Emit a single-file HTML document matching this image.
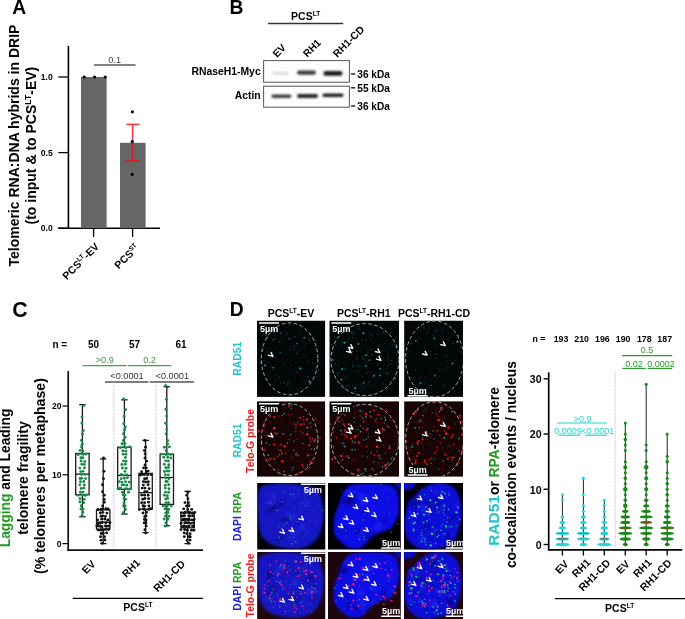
<!DOCTYPE html><html><head><meta charset="utf-8"><style>html,body{margin:0;padding:0;background:#fff;width:685px;height:619px;overflow:hidden}svg{display:block;will-change:transform}text{font-family:"Liberation Sans",sans-serif}</style></head><body><svg width="685" height="619" viewBox="0 0 685 619"><text transform="translate(12.2 14.0) scale(0.95 1)" font-size="20.3" font-weight="bold">A</text>
<text x="19.1" y="145.6" font-size="14" font-weight="bold" text-anchor="middle" fill="#000" transform="rotate(-90 19.1 145.6)">Telomeric RNA:DNA hybrids in DRIP</text>
<text x="36.4" y="145.6" font-size="14" font-weight="bold" text-anchor="middle" fill="#000" transform="rotate(-90 36.4 145.6)">(to input &amp; to PCS<tspan font-size="8.68" dy="-5.32">LT</tspan><tspan dy="5.32">-EV)</tspan></text>
<line x1="68.4" y1="46" x2="68.4" y2="229" stroke="#000" stroke-width="1.6"/>
<line x1="58.2" y1="228.2" x2="160" y2="228.2" stroke="#000" stroke-width="1.6"/>
<line x1="58.4" y1="77.0" x2="68.5" y2="77.0" stroke="#000" stroke-width="1.3"/>
<text x="52.8" y="80.1" font-size="8.6" font-weight="bold" text-anchor="end" fill="#000">1.0</text>
<line x1="58.4" y1="152.6" x2="68.5" y2="152.6" stroke="#000" stroke-width="1.3"/>
<text x="52.8" y="155.7" font-size="8.6" font-weight="bold" text-anchor="end" fill="#000">0.5</text>
<line x1="58.4" y1="228.2" x2="68.5" y2="228.2" stroke="#000" stroke-width="1.3"/>
<text x="52.8" y="231.29999999999998" font-size="8.6" font-weight="bold" text-anchor="end" fill="#000">0.0</text>
<rect x="81" y="77" width="25.6" height="151.2" fill="#666"/>
<rect x="120" y="142.8" width="25.6" height="85.4" fill="#666"/>
<circle cx="84.20" cy="77.00" r="1.6" fill="#000"/>
<circle cx="94.60" cy="77.00" r="1.6" fill="#000"/>
<circle cx="105.20" cy="77.00" r="1.6" fill="#000"/>
<line x1="94" y1="65" x2="135.5" y2="65" stroke="#5a5a5a" stroke-width="1.3"/>
<text x="114.7" y="62.5" font-size="9.2" text-anchor="middle" fill="#444">0.1</text>
<line x1="132.6" y1="124.4" x2="132.6" y2="160.8" stroke="#f0101c" stroke-width="1.6" stroke-opacity="0.82"/>
<line x1="126.4" y1="124.4" x2="139.4" y2="124.4" stroke="#f0101c" stroke-width="1.6" stroke-opacity="0.82"/>
<line x1="126.4" y1="160.8" x2="139.4" y2="160.8" stroke="#f0101c" stroke-width="1.6" stroke-opacity="0.82"/>
<circle cx="132.40" cy="111.80" r="1.6" fill="#000"/>
<circle cx="132.20" cy="141.60" r="1.6" fill="#000"/>
<circle cx="132.20" cy="174.40" r="1.6" fill="#000"/>
<line x1="93.6" y1="228.2" x2="93.6" y2="237" stroke="#000" stroke-width="1.3"/>
<line x1="132.6" y1="228.2" x2="132.6" y2="237" stroke="#000" stroke-width="1.3"/>
<text x="99.8" y="247.2" font-size="10.5" font-weight="bold" text-anchor="end" fill="#000" transform="rotate(-45 99.8 247.2)">PCS<tspan font-size="6.51" dy="-3.99">LT</tspan><tspan dy="3.99">-EV</tspan></text>
<text x="140.0" y="248.4" font-size="10.5" font-weight="bold" text-anchor="end" fill="#000" transform="rotate(-45 140.0 248.4)">PCS<tspan font-size="6.51" dy="-3.99">ST</tspan></text>
<text transform="translate(229.6 14.0) scale(0.95 1)" font-size="20.3" font-weight="bold">B</text>
<text x="305.6" y="19.6" font-size="10.5" font-weight="bold" text-anchor="middle" fill="#000">PCS<tspan font-size="6.51" dy="-3.99">LT</tspan></text>
<line x1="268" y1="23.5" x2="343.2" y2="23.5" stroke="#333" stroke-width="1.3"/>
<text x="277.0" y="58.1" font-size="10.3" font-weight="bold" text-anchor="start" fill="#000" transform="rotate(-45 277.0 58.1)">EV</text>
<text x="307.2" y="57.8" font-size="10.2" font-weight="bold" text-anchor="start" fill="#000" transform="rotate(-45 307.2 57.8)">RH1</text>
<text x="337.2" y="57.9" font-size="10.4" font-weight="bold" text-anchor="start" fill="#000" transform="rotate(-45 337.2 57.9)">RH1-CD</text>
<defs><filter id="bb" x="-20%" y="-100%" width="140%" height="300%"><feGaussianBlur stdDeviation="0.9"/></filter></defs>
<rect x="263.6" y="60.6" width="85.8" height="21.6" fill="#fdfdfd" stroke="#555" stroke-width="1"/>
<rect x="263.6" y="86.2" width="85.8" height="21.0" fill="#fdfdfd" stroke="#555" stroke-width="1"/>
<rect x="272.4" y="71.9" width="16.30000000000001" height="2.6" rx="1.3" fill="#d8d8d8" filter="url(#bb)"/>
<rect x="297" y="70.5" width="19" height="4.2" rx="2.1" fill="#3a3a3a" filter="url(#bb)"/>
<rect x="323.5" y="71.10000000000001" width="19.0" height="4.6" rx="2.3" fill="#1e1e1e" filter="url(#bb)"/>
<rect x="271.4" y="94.6" width="20.0" height="3.4" rx="1.7" fill="#3c3c3c" filter="url(#bb)"/>
<rect x="297" y="94.1" width="21" height="3.8" rx="1.9" fill="#262626" filter="url(#bb)"/>
<rect x="322.5" y="93.4" width="21.0" height="3.6" rx="1.8" fill="#1e1e1e" filter="url(#bb)"/>
<text x="260.7" y="74.9" font-size="10.4" font-weight="bold" text-anchor="end" fill="#000">RNaseH1-Myc</text>
<text x="260.7" y="98.8" font-size="10.4" font-weight="bold" text-anchor="end" fill="#000">Actin</text>
<line x1="351.1" y1="74.0" x2="355.1" y2="74.0" stroke="#111" stroke-width="1.4"/>
<text x="357.3" y="77.8" font-size="10.1" font-weight="bold" text-anchor="start" fill="#000">36 kDa</text>
<line x1="351.1" y1="87.8" x2="355.1" y2="87.8" stroke="#111" stroke-width="1.4"/>
<text x="357.3" y="91.5" font-size="10.1" font-weight="bold" text-anchor="start" fill="#000">55 kDa</text>
<line x1="351.1" y1="106.0" x2="355.1" y2="106.0" stroke="#111" stroke-width="1.4"/>
<text x="357.3" y="109.7" font-size="10.1" font-weight="bold" text-anchor="start" fill="#000">36 kDa</text>
<text transform="translate(12.2 316.6) scale(0.97 1)" font-size="22" font-weight="bold">C</text>
<text x="10.5" y="477.9" font-size="13.8" font-weight="bold" text-anchor="middle" transform="rotate(-90 10.5 477.9)"><tspan fill="#1f9a1f">Lagging</tspan> and Leading</text>
<text x="28.1" y="478" font-size="14.1" font-weight="bold" text-anchor="middle" fill="#000" transform="rotate(-90 28.1 478)">telomere fragility</text>
<text x="45.4" y="476.1" font-size="14.1" font-weight="bold" text-anchor="middle" fill="#000" transform="rotate(-90 45.4 476.1)">(% telomeres per metaphase)</text>
<line x1="68.2" y1="371" x2="68.2" y2="551" stroke="#111" stroke-width="1.7"/>
<line x1="67.4" y1="550.2" x2="203" y2="550.2" stroke="#111" stroke-width="1.7"/>
<line x1="62.5" y1="543.6" x2="68.4" y2="543.6" stroke="#000" stroke-width="1.2"/>
<text x="61.5" y="546.7" font-size="8.6" font-weight="bold" text-anchor="end" fill="#000">0</text>
<line x1="62.5" y1="474.8" x2="68.4" y2="474.8" stroke="#000" stroke-width="1.2"/>
<text x="61.5" y="477.90000000000003" font-size="8.6" font-weight="bold" text-anchor="end" fill="#000">10</text>
<line x1="62.5" y1="406.0" x2="68.4" y2="406.0" stroke="#000" stroke-width="1.2"/>
<text x="61.5" y="409.1" font-size="8.6" font-weight="bold" text-anchor="end" fill="#000">20</text>
<text x="52.4" y="348" font-size="10" font-weight="bold" text-anchor="start" fill="#000">n =</text>
<text x="93.5" y="348" font-size="10" font-weight="bold" text-anchor="middle" fill="#000">50</text>
<text x="134.5" y="348" font-size="10" font-weight="bold" text-anchor="middle" fill="#000">57</text>
<text x="181" y="348" font-size="10" font-weight="bold" text-anchor="middle" fill="#000">61</text>
<text x="104.8" y="363" font-size="9.2" text-anchor="middle" fill="#3a9a3a">&gt;0.9</text>
<text x="149.6" y="363" font-size="9.2" text-anchor="middle" fill="#3a9a3a">0.2</text>
<line x1="82.6" y1="365.6" x2="126.6" y2="365.6" stroke="#4aa04a" stroke-width="1.3"/>
<line x1="128" y1="365.6" x2="171.4" y2="365.6" stroke="#4aa04a" stroke-width="1.3"/>
<text x="127" y="378.6" font-size="9.2" text-anchor="middle" fill="#333">&lt;0.0001</text>
<text x="172.3" y="378.6" font-size="9.2" text-anchor="middle" fill="#333">&lt;0.0001</text>
<line x1="105" y1="382" x2="148.6" y2="382" stroke="#555" stroke-width="1.3"/>
<line x1="150" y1="382" x2="194" y2="382" stroke="#555" stroke-width="1.3"/>
<line x1="113.8" y1="385" x2="113.8" y2="548.5" stroke="#aaa" stroke-width="0.8" stroke-dasharray="1.2 1.2"/>
<line x1="156" y1="385" x2="156" y2="548.5" stroke="#aaa" stroke-width="0.8" stroke-dasharray="1.2 1.2"/>
<line x1="82.4" y1="404.624" x2="82.4" y2="453.47200000000004" stroke="#1a1a1a" stroke-width="1.3"/>
<line x1="82.4" y1="494.752" x2="82.4" y2="516.768" stroke="#1a1a1a" stroke-width="1.3"/>
<line x1="79.2" y1="404.624" x2="85.60000000000001" y2="404.624" stroke="#1a1a1a" stroke-width="1.3"/>
<line x1="79.2" y1="516.768" x2="85.60000000000001" y2="516.768" stroke="#1a1a1a" stroke-width="1.3"/>
<rect x="75.7" y="453.47200000000004" width="13.4" height="41.27999999999997" fill="none" stroke="#1a1a1a" stroke-width="1.3"/>
<line x1="75.7" y1="474.112" x2="89.10000000000001" y2="474.112" stroke="#1a1a1a" stroke-width="1.3"/>
<line x1="103.2" y1="458.976" x2="103.2" y2="509.88800000000003" stroke="#1a1a1a" stroke-width="1.3"/>
<line x1="103.2" y1="529.152" x2="103.2" y2="543.6" stroke="#1a1a1a" stroke-width="1.3"/>
<line x1="100.0" y1="458.976" x2="106.4" y2="458.976" stroke="#1a1a1a" stroke-width="1.3"/>
<line x1="100.0" y1="543.6" x2="106.4" y2="543.6" stroke="#1a1a1a" stroke-width="1.3"/>
<rect x="96.5" y="509.88800000000003" width="13.4" height="19.26400000000001" fill="none" stroke="#1a1a1a" stroke-width="1.3"/>
<line x1="96.5" y1="522.272" x2="109.9" y2="522.272" stroke="#1a1a1a" stroke-width="1.3"/>
<line x1="124.4" y1="399.808" x2="124.4" y2="447.28000000000003" stroke="#1a1a1a" stroke-width="1.3"/>
<line x1="124.4" y1="489.24800000000005" x2="124.4" y2="514.0160000000001" stroke="#1a1a1a" stroke-width="1.3"/>
<line x1="121.2" y1="399.808" x2="127.60000000000001" y2="399.808" stroke="#1a1a1a" stroke-width="1.3"/>
<line x1="121.2" y1="514.0160000000001" x2="127.60000000000001" y2="514.0160000000001" stroke="#1a1a1a" stroke-width="1.3"/>
<rect x="117.7" y="447.28000000000003" width="13.4" height="41.96800000000002" fill="none" stroke="#1a1a1a" stroke-width="1.3"/>
<line x1="117.7" y1="475.48800000000006" x2="131.1" y2="475.48800000000006" stroke="#1a1a1a" stroke-width="1.3"/>
<line x1="145.6" y1="440.40000000000003" x2="145.6" y2="473.42400000000004" stroke="#1a1a1a" stroke-width="1.3"/>
<line x1="145.6" y1="509.20000000000005" x2="145.6" y2="532.592" stroke="#1a1a1a" stroke-width="1.3"/>
<line x1="142.4" y1="440.40000000000003" x2="148.79999999999998" y2="440.40000000000003" stroke="#1a1a1a" stroke-width="1.3"/>
<line x1="142.4" y1="532.592" x2="148.79999999999998" y2="532.592" stroke="#1a1a1a" stroke-width="1.3"/>
<rect x="138.9" y="473.42400000000004" width="13.4" height="35.77600000000001" fill="none" stroke="#1a1a1a" stroke-width="1.3"/>
<line x1="138.9" y1="492.68800000000005" x2="152.29999999999998" y2="492.68800000000005" stroke="#1a1a1a" stroke-width="1.3"/>
<line x1="166.8" y1="386.736" x2="166.8" y2="454.16" stroke="#1a1a1a" stroke-width="1.3"/>
<line x1="166.8" y1="504.384" x2="166.8" y2="525.712" stroke="#1a1a1a" stroke-width="1.3"/>
<line x1="163.60000000000002" y1="386.736" x2="170.0" y2="386.736" stroke="#1a1a1a" stroke-width="1.3"/>
<line x1="163.60000000000002" y1="525.712" x2="170.0" y2="525.712" stroke="#1a1a1a" stroke-width="1.3"/>
<rect x="160.10000000000002" y="454.16" width="13.4" height="50.22399999999999" fill="none" stroke="#1a1a1a" stroke-width="1.3"/>
<line x1="160.10000000000002" y1="477.552" x2="173.5" y2="477.552" stroke="#1a1a1a" stroke-width="1.3"/>
<line x1="187.6" y1="491.312" x2="187.6" y2="512.64" stroke="#1a1a1a" stroke-width="1.3"/>
<line x1="187.6" y1="527.7760000000001" x2="187.6" y2="543.6" stroke="#1a1a1a" stroke-width="1.3"/>
<line x1="184.4" y1="491.312" x2="190.79999999999998" y2="491.312" stroke="#1a1a1a" stroke-width="1.3"/>
<line x1="184.4" y1="543.6" x2="190.79999999999998" y2="543.6" stroke="#1a1a1a" stroke-width="1.3"/>
<rect x="180.9" y="512.64" width="13.4" height="15.136000000000081" fill="none" stroke="#1a1a1a" stroke-width="1.3"/>
<line x1="180.9" y1="520.208" x2="194.29999999999998" y2="520.208" stroke="#1a1a1a" stroke-width="1.3"/>
<circle cx="81.98" cy="515.73" r="1.45" fill="#178a4a"/>
<circle cx="82.76" cy="512.21" r="1.45" fill="#178a4a"/>
<circle cx="80.99" cy="509.07" r="1.45" fill="#178a4a"/>
<circle cx="82.84" cy="509.21" r="1.45" fill="#178a4a"/>
<circle cx="81.29" cy="505.69" r="1.45" fill="#178a4a"/>
<circle cx="79.87" cy="501.91" r="1.45" fill="#178a4a"/>
<circle cx="83.72" cy="502.65" r="1.45" fill="#178a4a"/>
<circle cx="80.00" cy="498.60" r="1.45" fill="#178a4a"/>
<circle cx="84.21" cy="499.33" r="1.45" fill="#178a4a"/>
<circle cx="78.09" cy="495.34" r="1.45" fill="#178a4a"/>
<circle cx="82.04" cy="494.99" r="1.45" fill="#178a4a"/>
<circle cx="84.76" cy="495.23" r="1.45" fill="#178a4a"/>
<circle cx="86.05" cy="495.06" r="1.45" fill="#178a4a"/>
<circle cx="80.44" cy="492.32" r="1.45" fill="#178a4a"/>
<circle cx="83.13" cy="492.08" r="1.45" fill="#178a4a"/>
<circle cx="81.23" cy="488.43" r="1.45" fill="#178a4a"/>
<circle cx="84.01" cy="488.12" r="1.45" fill="#178a4a"/>
<circle cx="79.84" cy="484.83" r="1.45" fill="#178a4a"/>
<circle cx="84.33" cy="485.05" r="1.45" fill="#178a4a"/>
<circle cx="80.45" cy="481.77" r="1.45" fill="#178a4a"/>
<circle cx="83.79" cy="481.48" r="1.45" fill="#178a4a"/>
<circle cx="80.11" cy="478.44" r="1.45" fill="#178a4a"/>
<circle cx="81.79" cy="478.31" r="1.45" fill="#178a4a"/>
<circle cx="85.46" cy="478.62" r="1.45" fill="#178a4a"/>
<circle cx="81.45" cy="474.59" r="1.45" fill="#178a4a"/>
<circle cx="85.05" cy="474.42" r="1.45" fill="#178a4a"/>
<circle cx="80.70" cy="471.62" r="1.45" fill="#178a4a"/>
<circle cx="83.06" cy="471.35" r="1.45" fill="#178a4a"/>
<circle cx="79.79" cy="468.09" r="1.45" fill="#178a4a"/>
<circle cx="84.53" cy="467.99" r="1.45" fill="#178a4a"/>
<circle cx="81.80" cy="464.29" r="1.45" fill="#178a4a"/>
<circle cx="84.37" cy="464.57" r="1.45" fill="#178a4a"/>
<circle cx="81.09" cy="461.00" r="1.45" fill="#178a4a"/>
<circle cx="84.72" cy="461.48" r="1.45" fill="#178a4a"/>
<circle cx="80.84" cy="457.76" r="1.45" fill="#178a4a"/>
<circle cx="82.85" cy="457.80" r="1.45" fill="#178a4a"/>
<circle cx="78.25" cy="454.65" r="1.45" fill="#178a4a"/>
<circle cx="81.67" cy="453.94" r="1.45" fill="#178a4a"/>
<circle cx="83.63" cy="454.33" r="1.45" fill="#178a4a"/>
<circle cx="85.75" cy="454.12" r="1.45" fill="#178a4a"/>
<circle cx="80.10" cy="450.34" r="1.45" fill="#178a4a"/>
<circle cx="82.84" cy="450.99" r="1.45" fill="#178a4a"/>
<circle cx="81.51" cy="447.03" r="1.45" fill="#178a4a"/>
<circle cx="82.14" cy="444.21" r="1.45" fill="#178a4a"/>
<circle cx="81.39" cy="440.35" r="1.45" fill="#178a4a"/>
<circle cx="82.52" cy="433.90" r="1.45" fill="#178a4a"/>
<circle cx="83.17" cy="430.44" r="1.45" fill="#178a4a"/>
<circle cx="81.87" cy="423.12" r="1.45" fill="#178a4a"/>
<circle cx="82.06" cy="416.70" r="1.45" fill="#178a4a"/>
<circle cx="83.50" cy="405.65" r="1.45" fill="#178a4a"/>
<circle cx="102.42" cy="543.33" r="1.45" fill="#111"/>
<circle cx="101.06" cy="540.14" r="1.45" fill="#111"/>
<circle cx="104.91" cy="539.92" r="1.45" fill="#111"/>
<circle cx="100.51" cy="536.64" r="1.45" fill="#111"/>
<circle cx="104.39" cy="536.79" r="1.45" fill="#111"/>
<circle cx="101.29" cy="533.47" r="1.45" fill="#111"/>
<circle cx="103.24" cy="533.40" r="1.45" fill="#111"/>
<circle cx="106.62" cy="532.83" r="1.45" fill="#111"/>
<circle cx="98.16" cy="530.12" r="1.45" fill="#111"/>
<circle cx="100.50" cy="530.14" r="1.45" fill="#111"/>
<circle cx="101.74" cy="529.74" r="1.45" fill="#111"/>
<circle cx="103.45" cy="529.97" r="1.45" fill="#111"/>
<circle cx="105.75" cy="529.41" r="1.45" fill="#111"/>
<circle cx="108.50" cy="529.50" r="1.45" fill="#111"/>
<circle cx="96.82" cy="525.95" r="1.45" fill="#111"/>
<circle cx="98.00" cy="526.05" r="1.45" fill="#111"/>
<circle cx="100.24" cy="526.26" r="1.45" fill="#111"/>
<circle cx="102.06" cy="526.77" r="1.45" fill="#111"/>
<circle cx="105.47" cy="526.05" r="1.45" fill="#111"/>
<circle cx="106.61" cy="526.25" r="1.45" fill="#111"/>
<circle cx="108.87" cy="526.02" r="1.45" fill="#111"/>
<circle cx="98.04" cy="523.45" r="1.45" fill="#111"/>
<circle cx="100.12" cy="522.94" r="1.45" fill="#111"/>
<circle cx="102.21" cy="522.56" r="1.45" fill="#111"/>
<circle cx="105.82" cy="522.72" r="1.45" fill="#111"/>
<circle cx="109.99" cy="522.62" r="1.45" fill="#111"/>
<circle cx="97.56" cy="519.97" r="1.45" fill="#111"/>
<circle cx="101.77" cy="519.17" r="1.45" fill="#111"/>
<circle cx="104.80" cy="519.05" r="1.45" fill="#111"/>
<circle cx="107.77" cy="520.00" r="1.45" fill="#111"/>
<circle cx="101.07" cy="516.28" r="1.45" fill="#111"/>
<circle cx="102.63" cy="515.95" r="1.45" fill="#111"/>
<circle cx="105.40" cy="516.35" r="1.45" fill="#111"/>
<circle cx="100.28" cy="512.92" r="1.45" fill="#111"/>
<circle cx="102.79" cy="512.36" r="1.45" fill="#111"/>
<circle cx="106.95" cy="513.12" r="1.45" fill="#111"/>
<circle cx="98.05" cy="509.51" r="1.45" fill="#111"/>
<circle cx="100.96" cy="509.44" r="1.45" fill="#111"/>
<circle cx="102.54" cy="509.22" r="1.45" fill="#111"/>
<circle cx="105.85" cy="508.73" r="1.45" fill="#111"/>
<circle cx="108.07" cy="508.98" r="1.45" fill="#111"/>
<circle cx="102.62" cy="505.95" r="1.45" fill="#111"/>
<circle cx="104.30" cy="502.27" r="1.45" fill="#111"/>
<circle cx="104.25" cy="499.37" r="1.45" fill="#111"/>
<circle cx="104.29" cy="495.30" r="1.45" fill="#111"/>
<circle cx="102.53" cy="491.73" r="1.45" fill="#111"/>
<circle cx="102.47" cy="484.82" r="1.45" fill="#111"/>
<circle cx="103.50" cy="478.64" r="1.45" fill="#111"/>
<circle cx="104.02" cy="471.34" r="1.45" fill="#111"/>
<circle cx="103.57" cy="457.90" r="1.45" fill="#111"/>
<circle cx="123.40" cy="512.80" r="1.45" fill="#178a4a"/>
<circle cx="125.38" cy="509.48" r="1.45" fill="#178a4a"/>
<circle cx="123.50" cy="505.74" r="1.45" fill="#178a4a"/>
<circle cx="125.13" cy="506.05" r="1.45" fill="#178a4a"/>
<circle cx="124.00" cy="502.62" r="1.45" fill="#178a4a"/>
<circle cx="124.03" cy="498.78" r="1.45" fill="#178a4a"/>
<circle cx="125.66" cy="499.33" r="1.45" fill="#178a4a"/>
<circle cx="123.44" cy="495.11" r="1.45" fill="#178a4a"/>
<circle cx="125.00" cy="495.09" r="1.45" fill="#178a4a"/>
<circle cx="122.37" cy="492.31" r="1.45" fill="#178a4a"/>
<circle cx="123.55" cy="492.33" r="1.45" fill="#178a4a"/>
<circle cx="128.55" cy="492.16" r="1.45" fill="#178a4a"/>
<circle cx="118.04" cy="488.61" r="1.45" fill="#178a4a"/>
<circle cx="120.51" cy="488.07" r="1.45" fill="#178a4a"/>
<circle cx="125.53" cy="488.71" r="1.45" fill="#178a4a"/>
<circle cx="127.46" cy="488.99" r="1.45" fill="#178a4a"/>
<circle cx="130.24" cy="488.93" r="1.45" fill="#178a4a"/>
<circle cx="122.18" cy="484.83" r="1.45" fill="#178a4a"/>
<circle cx="123.80" cy="484.91" r="1.45" fill="#178a4a"/>
<circle cx="126.78" cy="485.21" r="1.45" fill="#178a4a"/>
<circle cx="119.32" cy="481.60" r="1.45" fill="#178a4a"/>
<circle cx="122.01" cy="482.09" r="1.45" fill="#178a4a"/>
<circle cx="125.55" cy="481.64" r="1.45" fill="#178a4a"/>
<circle cx="129.10" cy="482.08" r="1.45" fill="#178a4a"/>
<circle cx="121.21" cy="478.66" r="1.45" fill="#178a4a"/>
<circle cx="124.40" cy="478.27" r="1.45" fill="#178a4a"/>
<circle cx="127.46" cy="477.76" r="1.45" fill="#178a4a"/>
<circle cx="121.26" cy="474.48" r="1.45" fill="#178a4a"/>
<circle cx="123.21" cy="475.10" r="1.45" fill="#178a4a"/>
<circle cx="126.61" cy="474.77" r="1.45" fill="#178a4a"/>
<circle cx="124.94" cy="471.42" r="1.45" fill="#178a4a"/>
<circle cx="122.48" cy="467.94" r="1.45" fill="#178a4a"/>
<circle cx="126.03" cy="468.20" r="1.45" fill="#178a4a"/>
<circle cx="121.95" cy="464.54" r="1.45" fill="#178a4a"/>
<circle cx="125.30" cy="464.26" r="1.45" fill="#178a4a"/>
<circle cx="123.55" cy="461.05" r="1.45" fill="#178a4a"/>
<circle cx="126.05" cy="461.30" r="1.45" fill="#178a4a"/>
<circle cx="125.39" cy="457.54" r="1.45" fill="#178a4a"/>
<circle cx="123.17" cy="454.17" r="1.45" fill="#178a4a"/>
<circle cx="125.93" cy="454.35" r="1.45" fill="#178a4a"/>
<circle cx="122.79" cy="450.75" r="1.45" fill="#178a4a"/>
<circle cx="125.85" cy="451.16" r="1.45" fill="#178a4a"/>
<circle cx="120.38" cy="447.66" r="1.45" fill="#178a4a"/>
<circle cx="123.96" cy="447.04" r="1.45" fill="#178a4a"/>
<circle cx="126.04" cy="447.72" r="1.45" fill="#178a4a"/>
<circle cx="129.72" cy="446.92" r="1.45" fill="#178a4a"/>
<circle cx="121.99" cy="443.78" r="1.45" fill="#178a4a"/>
<circle cx="124.87" cy="443.58" r="1.45" fill="#178a4a"/>
<circle cx="123.38" cy="440.57" r="1.45" fill="#178a4a"/>
<circle cx="125.08" cy="437.36" r="1.45" fill="#178a4a"/>
<circle cx="123.57" cy="433.74" r="1.45" fill="#178a4a"/>
<circle cx="124.78" cy="429.72" r="1.45" fill="#178a4a"/>
<circle cx="125.32" cy="427.11" r="1.45" fill="#178a4a"/>
<circle cx="123.73" cy="423.65" r="1.45" fill="#178a4a"/>
<circle cx="124.16" cy="416.31" r="1.45" fill="#178a4a"/>
<circle cx="125.58" cy="409.77" r="1.45" fill="#178a4a"/>
<circle cx="123.59" cy="399.05" r="1.45" fill="#178a4a"/>
<circle cx="145.64" cy="533.12" r="1.45" fill="#111"/>
<circle cx="144.87" cy="529.66" r="1.45" fill="#111"/>
<circle cx="146.13" cy="525.92" r="1.45" fill="#111"/>
<circle cx="144.23" cy="522.90" r="1.45" fill="#111"/>
<circle cx="145.94" cy="522.79" r="1.45" fill="#111"/>
<circle cx="144.40" cy="519.53" r="1.45" fill="#111"/>
<circle cx="146.05" cy="520.01" r="1.45" fill="#111"/>
<circle cx="144.79" cy="516.55" r="1.45" fill="#111"/>
<circle cx="146.15" cy="515.85" r="1.45" fill="#111"/>
<circle cx="143.00" cy="512.92" r="1.45" fill="#111"/>
<circle cx="146.55" cy="512.27" r="1.45" fill="#111"/>
<circle cx="139.41" cy="509.61" r="1.45" fill="#111"/>
<circle cx="143.37" cy="508.96" r="1.45" fill="#111"/>
<circle cx="144.76" cy="509.62" r="1.45" fill="#111"/>
<circle cx="148.77" cy="509.40" r="1.45" fill="#111"/>
<circle cx="150.61" cy="508.76" r="1.45" fill="#111"/>
<circle cx="143.05" cy="505.69" r="1.45" fill="#111"/>
<circle cx="144.57" cy="506.20" r="1.45" fill="#111"/>
<circle cx="148.92" cy="506.06" r="1.45" fill="#111"/>
<circle cx="141.60" cy="502.68" r="1.45" fill="#111"/>
<circle cx="144.56" cy="502.68" r="1.45" fill="#111"/>
<circle cx="148.49" cy="502.16" r="1.45" fill="#111"/>
<circle cx="142.73" cy="499.31" r="1.45" fill="#111"/>
<circle cx="145.04" cy="498.51" r="1.45" fill="#111"/>
<circle cx="148.66" cy="498.62" r="1.45" fill="#111"/>
<circle cx="141.66" cy="495.10" r="1.45" fill="#111"/>
<circle cx="144.52" cy="495.14" r="1.45" fill="#111"/>
<circle cx="148.15" cy="495.25" r="1.45" fill="#111"/>
<circle cx="144.72" cy="491.79" r="1.45" fill="#111"/>
<circle cx="147.10" cy="491.68" r="1.45" fill="#111"/>
<circle cx="142.23" cy="488.08" r="1.45" fill="#111"/>
<circle cx="145.00" cy="488.08" r="1.45" fill="#111"/>
<circle cx="149.16" cy="488.61" r="1.45" fill="#111"/>
<circle cx="143.35" cy="485.09" r="1.45" fill="#111"/>
<circle cx="148.14" cy="484.73" r="1.45" fill="#111"/>
<circle cx="143.37" cy="481.61" r="1.45" fill="#111"/>
<circle cx="145.59" cy="482.01" r="1.45" fill="#111"/>
<circle cx="148.34" cy="481.69" r="1.45" fill="#111"/>
<circle cx="144.55" cy="478.72" r="1.45" fill="#111"/>
<circle cx="146.72" cy="478.57" r="1.45" fill="#111"/>
<circle cx="140.10" cy="474.94" r="1.45" fill="#111"/>
<circle cx="142.37" cy="474.65" r="1.45" fill="#111"/>
<circle cx="144.53" cy="474.43" r="1.45" fill="#111"/>
<circle cx="147.57" cy="475.04" r="1.45" fill="#111"/>
<circle cx="151.01" cy="474.46" r="1.45" fill="#111"/>
<circle cx="141.60" cy="471.70" r="1.45" fill="#111"/>
<circle cx="146.49" cy="471.53" r="1.45" fill="#111"/>
<circle cx="148.08" cy="471.10" r="1.45" fill="#111"/>
<circle cx="143.60" cy="467.88" r="1.45" fill="#111"/>
<circle cx="146.28" cy="467.87" r="1.45" fill="#111"/>
<circle cx="145.03" cy="464.94" r="1.45" fill="#111"/>
<circle cx="146.73" cy="461.09" r="1.45" fill="#111"/>
<circle cx="144.99" cy="458.07" r="1.45" fill="#111"/>
<circle cx="145.14" cy="454.02" r="1.45" fill="#111"/>
<circle cx="144.40" cy="450.60" r="1.45" fill="#111"/>
<circle cx="145.54" cy="447.28" r="1.45" fill="#111"/>
<circle cx="144.88" cy="440.40" r="1.45" fill="#111"/>
<circle cx="165.61" cy="526.16" r="1.45" fill="#178a4a"/>
<circle cx="165.82" cy="522.86" r="1.45" fill="#178a4a"/>
<circle cx="164.20" cy="519.04" r="1.45" fill="#178a4a"/>
<circle cx="167.83" cy="519.25" r="1.45" fill="#178a4a"/>
<circle cx="165.51" cy="516.11" r="1.45" fill="#178a4a"/>
<circle cx="168.90" cy="516.24" r="1.45" fill="#178a4a"/>
<circle cx="165.82" cy="513.02" r="1.45" fill="#178a4a"/>
<circle cx="168.03" cy="512.47" r="1.45" fill="#178a4a"/>
<circle cx="164.96" cy="508.85" r="1.45" fill="#178a4a"/>
<circle cx="167.34" cy="509.34" r="1.45" fill="#178a4a"/>
<circle cx="168.71" cy="509.54" r="1.45" fill="#178a4a"/>
<circle cx="163.24" cy="505.89" r="1.45" fill="#178a4a"/>
<circle cx="165.86" cy="506.07" r="1.45" fill="#178a4a"/>
<circle cx="167.43" cy="505.78" r="1.45" fill="#178a4a"/>
<circle cx="171.31" cy="506.09" r="1.45" fill="#178a4a"/>
<circle cx="166.03" cy="502.65" r="1.45" fill="#178a4a"/>
<circle cx="168.50" cy="502.71" r="1.45" fill="#178a4a"/>
<circle cx="165.74" cy="499.07" r="1.45" fill="#178a4a"/>
<circle cx="167.65" cy="498.41" r="1.45" fill="#178a4a"/>
<circle cx="164.42" cy="495.30" r="1.45" fill="#178a4a"/>
<circle cx="167.35" cy="495.78" r="1.45" fill="#178a4a"/>
<circle cx="165.44" cy="492.13" r="1.45" fill="#178a4a"/>
<circle cx="168.60" cy="492.18" r="1.45" fill="#178a4a"/>
<circle cx="165.27" cy="488.06" r="1.45" fill="#178a4a"/>
<circle cx="169.01" cy="488.81" r="1.45" fill="#178a4a"/>
<circle cx="165.31" cy="485.16" r="1.45" fill="#178a4a"/>
<circle cx="168.68" cy="484.69" r="1.45" fill="#178a4a"/>
<circle cx="165.87" cy="481.43" r="1.45" fill="#178a4a"/>
<circle cx="167.28" cy="481.45" r="1.45" fill="#178a4a"/>
<circle cx="165.85" cy="477.95" r="1.45" fill="#178a4a"/>
<circle cx="168.88" cy="478.72" r="1.45" fill="#178a4a"/>
<circle cx="165.29" cy="474.68" r="1.45" fill="#178a4a"/>
<circle cx="168.25" cy="474.98" r="1.45" fill="#178a4a"/>
<circle cx="164.44" cy="471.48" r="1.45" fill="#178a4a"/>
<circle cx="167.14" cy="470.94" r="1.45" fill="#178a4a"/>
<circle cx="168.95" cy="471.11" r="1.45" fill="#178a4a"/>
<circle cx="165.88" cy="467.72" r="1.45" fill="#178a4a"/>
<circle cx="168.46" cy="467.43" r="1.45" fill="#178a4a"/>
<circle cx="164.25" cy="464.25" r="1.45" fill="#178a4a"/>
<circle cx="168.71" cy="464.67" r="1.45" fill="#178a4a"/>
<circle cx="165.72" cy="460.83" r="1.45" fill="#178a4a"/>
<circle cx="168.34" cy="461.00" r="1.45" fill="#178a4a"/>
<circle cx="163.72" cy="457.22" r="1.45" fill="#178a4a"/>
<circle cx="167.74" cy="457.30" r="1.45" fill="#178a4a"/>
<circle cx="170.95" cy="458.04" r="1.45" fill="#178a4a"/>
<circle cx="161.14" cy="454.12" r="1.45" fill="#178a4a"/>
<circle cx="166.07" cy="454.63" r="1.45" fill="#178a4a"/>
<circle cx="168.18" cy="453.93" r="1.45" fill="#178a4a"/>
<circle cx="170.60" cy="454.61" r="1.45" fill="#178a4a"/>
<circle cx="166.11" cy="450.80" r="1.45" fill="#178a4a"/>
<circle cx="164.44" cy="447.30" r="1.45" fill="#178a4a"/>
<circle cx="169.39" cy="446.91" r="1.45" fill="#178a4a"/>
<circle cx="167.57" cy="443.85" r="1.45" fill="#178a4a"/>
<circle cx="167.73" cy="440.60" r="1.45" fill="#178a4a"/>
<circle cx="166.16" cy="433.92" r="1.45" fill="#178a4a"/>
<circle cx="166.77" cy="429.60" r="1.45" fill="#178a4a"/>
<circle cx="165.61" cy="423.19" r="1.45" fill="#178a4a"/>
<circle cx="166.68" cy="416.12" r="1.45" fill="#178a4a"/>
<circle cx="165.94" cy="409.28" r="1.45" fill="#178a4a"/>
<circle cx="166.36" cy="399.46" r="1.45" fill="#178a4a"/>
<circle cx="165.60" cy="385.61" r="1.45" fill="#178a4a"/>
<circle cx="188.41" cy="543.22" r="1.45" fill="#111"/>
<circle cx="187.12" cy="540.37" r="1.45" fill="#111"/>
<circle cx="190.06" cy="539.95" r="1.45" fill="#111"/>
<circle cx="184.29" cy="536.61" r="1.45" fill="#111"/>
<circle cx="188.80" cy="536.81" r="1.45" fill="#111"/>
<circle cx="190.27" cy="536.65" r="1.45" fill="#111"/>
<circle cx="184.06" cy="532.83" r="1.45" fill="#111"/>
<circle cx="186.64" cy="533.61" r="1.45" fill="#111"/>
<circle cx="190.09" cy="533.72" r="1.45" fill="#111"/>
<circle cx="181.00" cy="529.61" r="1.45" fill="#111"/>
<circle cx="184.63" cy="529.53" r="1.45" fill="#111"/>
<circle cx="187.30" cy="530.30" r="1.45" fill="#111"/>
<circle cx="191.52" cy="530.15" r="1.45" fill="#111"/>
<circle cx="193.91" cy="530.25" r="1.45" fill="#111"/>
<circle cx="182.66" cy="526.45" r="1.45" fill="#111"/>
<circle cx="184.13" cy="525.95" r="1.45" fill="#111"/>
<circle cx="186.16" cy="526.35" r="1.45" fill="#111"/>
<circle cx="188.21" cy="526.54" r="1.45" fill="#111"/>
<circle cx="189.09" cy="525.95" r="1.45" fill="#111"/>
<circle cx="192.62" cy="526.03" r="1.45" fill="#111"/>
<circle cx="193.53" cy="526.24" r="1.45" fill="#111"/>
<circle cx="181.11" cy="523.20" r="1.45" fill="#111"/>
<circle cx="184.74" cy="522.72" r="1.45" fill="#111"/>
<circle cx="185.97" cy="522.76" r="1.45" fill="#111"/>
<circle cx="187.74" cy="522.85" r="1.45" fill="#111"/>
<circle cx="188.80" cy="522.62" r="1.45" fill="#111"/>
<circle cx="190.90" cy="523.37" r="1.45" fill="#111"/>
<circle cx="193.59" cy="522.68" r="1.45" fill="#111"/>
<circle cx="182.58" cy="520.02" r="1.45" fill="#111"/>
<circle cx="183.48" cy="519.16" r="1.45" fill="#111"/>
<circle cx="184.86" cy="519.11" r="1.45" fill="#111"/>
<circle cx="187.22" cy="519.11" r="1.45" fill="#111"/>
<circle cx="188.97" cy="519.28" r="1.45" fill="#111"/>
<circle cx="191.77" cy="519.91" r="1.45" fill="#111"/>
<circle cx="194.20" cy="519.43" r="1.45" fill="#111"/>
<circle cx="181.39" cy="516.10" r="1.45" fill="#111"/>
<circle cx="183.30" cy="515.92" r="1.45" fill="#111"/>
<circle cx="184.55" cy="515.86" r="1.45" fill="#111"/>
<circle cx="188.72" cy="515.71" r="1.45" fill="#111"/>
<circle cx="189.61" cy="516.21" r="1.45" fill="#111"/>
<circle cx="192.47" cy="515.80" r="1.45" fill="#111"/>
<circle cx="193.05" cy="515.83" r="1.45" fill="#111"/>
<circle cx="181.36" cy="512.59" r="1.45" fill="#111"/>
<circle cx="184.19" cy="512.99" r="1.45" fill="#111"/>
<circle cx="185.49" cy="512.16" r="1.45" fill="#111"/>
<circle cx="184.98" cy="512.85" r="1.45" fill="#111"/>
<circle cx="188.55" cy="512.61" r="1.45" fill="#111"/>
<circle cx="189.31" cy="512.14" r="1.45" fill="#111"/>
<circle cx="190.34" cy="513.07" r="1.45" fill="#111"/>
<circle cx="192.88" cy="513.00" r="1.45" fill="#111"/>
<circle cx="194.73" cy="512.39" r="1.45" fill="#111"/>
<circle cx="183.66" cy="508.85" r="1.45" fill="#111"/>
<circle cx="187.65" cy="509.38" r="1.45" fill="#111"/>
<circle cx="191.66" cy="509.42" r="1.45" fill="#111"/>
<circle cx="186.45" cy="506.02" r="1.45" fill="#111"/>
<circle cx="189.00" cy="505.81" r="1.45" fill="#111"/>
<circle cx="184.99" cy="502.60" r="1.45" fill="#111"/>
<circle cx="188.46" cy="502.74" r="1.45" fill="#111"/>
<circle cx="187.95" cy="498.68" r="1.45" fill="#111"/>
<circle cx="186.71" cy="495.19" r="1.45" fill="#111"/>
<circle cx="187.93" cy="492.20" r="1.45" fill="#111"/>
<text x="86.3" y="574.6" font-size="10.5" font-weight="bold" text-anchor="start" fill="#000" transform="rotate(-45 86.3 574.6)">EV</text>
<text x="126.3" y="577.9" font-size="10.2" font-weight="bold" text-anchor="start" fill="#000" transform="rotate(-45 126.3 577.9)">RH1</text>
<text x="157.8" y="592.6" font-size="10.5" font-weight="bold" text-anchor="start" fill="#000" transform="rotate(-45 157.8 592.6)">RH1-CD</text>
<line x1="72.8" y1="598.4" x2="203" y2="598.4" stroke="#000" stroke-width="1.3"/>
<text x="137.9" y="611.4" font-size="10.5" font-weight="bold" text-anchor="middle" fill="#000">PCS<tspan font-size="6.51" dy="-3.99">LT</tspan></text>
<text x="532.5" y="341.9" font-size="8.8" font-weight="bold" text-anchor="start" fill="#000">n =</text>
<text x="561" y="341.9" font-size="8.8" font-weight="bold" text-anchor="middle" fill="#000">193</text>
<text x="581.6" y="341.9" font-size="8.8" font-weight="bold" text-anchor="middle" fill="#000">210</text>
<text x="602.4" y="341.9" font-size="8.8" font-weight="bold" text-anchor="middle" fill="#000">196</text>
<text x="623.1" y="341.9" font-size="8.8" font-weight="bold" text-anchor="middle" fill="#000">190</text>
<text x="644.3" y="341.9" font-size="8.8" font-weight="bold" text-anchor="middle" fill="#000">178</text>
<text x="664.7" y="341.9" font-size="8.8" font-weight="bold" text-anchor="middle" fill="#000">187</text>
<text x="647" y="353.4" font-size="9" text-anchor="middle" fill="#2a9a2a">0.5</text>
<line x1="621.9" y1="355.6" x2="672.2" y2="355.6" stroke="#2a9a2a" stroke-width="1.2"/>
<text x="634.1" y="366.6" font-size="9" text-anchor="middle" fill="#2a9a2a">0.02</text>
<text x="661.0" y="366.6" font-size="9" text-anchor="middle" fill="#2a9a2a">0.0002</text>
<line x1="622.4" y1="368.4" x2="645.7" y2="368.4" stroke="#2a9a2a" stroke-width="1.2"/>
<line x1="647.6" y1="368.4" x2="672.2" y2="368.4" stroke="#2a9a2a" stroke-width="1.2"/>
<text x="582.6" y="421.5" font-size="9" text-anchor="middle" fill="#1fd6d6">&gt;0.9</text>
<line x1="557.2" y1="423" x2="607" y2="423" stroke="#1fd6d6" stroke-width="1.2"/>
<text x="567.9" y="434" font-size="9" text-anchor="middle" fill="#1fd6d6">0.0009</text>
<text x="598.0" y="434" font-size="9" text-anchor="middle" fill="#1fd6d6">&lt;0.0001</text>
<line x1="558.3" y1="435.2" x2="580.2" y2="435.2" stroke="#1fd6d6" stroke-width="1.2"/>
<line x1="585.4" y1="435.2" x2="607" y2="435.2" stroke="#1fd6d6" stroke-width="1.2"/>
<line x1="548.7" y1="372.4" x2="548.7" y2="550.6" stroke="#000" stroke-width="1.7"/>
<line x1="547.9" y1="549.8" x2="682.3" y2="549.8" stroke="#000" stroke-width="1.7"/>
<line x1="543.6" y1="544.5" x2="548.2" y2="544.5" stroke="#000" stroke-width="1.4"/>
<text x="541.6" y="548.9" font-size="10.6" font-weight="bold" text-anchor="end" fill="#000">0</text>
<line x1="543.6" y1="489.27" x2="548.2" y2="489.27" stroke="#000" stroke-width="1.4"/>
<text x="541.6" y="493.66999999999996" font-size="10.6" font-weight="bold" text-anchor="end" fill="#000">10</text>
<line x1="543.6" y1="434.04" x2="548.2" y2="434.04" stroke="#000" stroke-width="1.4"/>
<text x="541.6" y="438.44" font-size="10.6" font-weight="bold" text-anchor="end" fill="#000">20</text>
<line x1="543.6" y1="378.81" x2="548.2" y2="378.81" stroke="#000" stroke-width="1.4"/>
<text x="541.6" y="383.21" font-size="10.6" font-weight="bold" text-anchor="end" fill="#000">30</text>
<line x1="615.2" y1="373" x2="615.2" y2="548.5" stroke="#aaa" stroke-width="0.8" stroke-dasharray="1.2 1.2"/>
<line x1="562.4" y1="549.7" x2="562.4" y2="555.6" stroke="#000" stroke-width="1.3"/>
<line x1="583.4" y1="549.7" x2="583.4" y2="555.6" stroke="#000" stroke-width="1.3"/>
<line x1="604.3" y1="549.7" x2="604.3" y2="555.6" stroke="#000" stroke-width="1.3"/>
<line x1="625.3" y1="549.7" x2="625.3" y2="555.6" stroke="#000" stroke-width="1.3"/>
<line x1="646.2" y1="549.7" x2="646.2" y2="555.6" stroke="#000" stroke-width="1.3"/>
<line x1="667.2" y1="549.7" x2="667.2" y2="555.6" stroke="#000" stroke-width="1.3"/>
<text x="499.4" y="466.5" font-size="13.8" font-weight="bold" text-anchor="middle" transform="rotate(-90 499.4 466.5)"><tspan fill="#22c4c8" font-size="15.5">RAD51</tspan>or <tspan fill="#1f9a1f">RPA</tspan>-telomere</text>
<text x="516.2" y="464.6" font-size="13.8" font-weight="bold" text-anchor="middle" fill="#000" transform="rotate(-90 516.2 464.6)">co-localization events / nucleus</text>
<line x1="562.4" y1="494.793" x2="562.4" y2="544.5" stroke="#222" stroke-width="1.0"/>
<ellipse cx="562.4" cy="544.50" rx="7.00" ry="1.65" fill="#1fd6d6"/>
<ellipse cx="562.4" cy="538.98" rx="6.70" ry="1.65" fill="#1fd6d6"/>
<ellipse cx="562.4" cy="533.45" rx="7.00" ry="1.65" fill="#1fd6d6"/>
<ellipse cx="562.4" cy="527.93" rx="3.50" ry="1.65" fill="#1fd6d6"/>
<ellipse cx="562.4" cy="522.41" rx="2.75" ry="1.65" fill="#1fd6d6"/>
<circle cx="562.4" cy="516.88" r="1.75" fill="#1fd6d6"/>
<circle cx="562.4" cy="500.32" r="1.45" fill="#1fd6d6"/>
<circle cx="562.4" cy="494.79" r="1.45" fill="#1fd6d6"/>
<line x1="556.9" y1="538.977" x2="567.9" y2="538.977" stroke="#c0301e" stroke-width="0.9"/>
<line x1="556.6" y1="533.454" x2="568.1999999999999" y2="533.454" stroke="#6a8a8a" stroke-width="0.9"/>
<line x1="583.4" y1="478.224" x2="583.4" y2="544.5" stroke="#222" stroke-width="1.0"/>
<ellipse cx="583.4" cy="544.50" rx="3.50" ry="1.65" fill="#1fd6d6"/>
<ellipse cx="583.4" cy="538.98" rx="6.30" ry="1.65" fill="#1fd6d6"/>
<ellipse cx="583.4" cy="533.45" rx="6.65" ry="1.65" fill="#1fd6d6"/>
<ellipse cx="583.4" cy="527.93" rx="3.50" ry="1.65" fill="#1fd6d6"/>
<ellipse cx="583.4" cy="522.41" rx="3.00" ry="1.65" fill="#1fd6d6"/>
<ellipse cx="583.4" cy="516.88" rx="2.50" ry="1.65" fill="#1fd6d6"/>
<circle cx="583.4" cy="511.36" r="1.50" fill="#1fd6d6"/>
<circle cx="583.4" cy="505.84" r="1.50" fill="#1fd6d6"/>
<circle cx="583.4" cy="494.79" r="1.45" fill="#1fd6d6"/>
<circle cx="583.4" cy="478.22" r="1.45" fill="#1fd6d6"/>
<line x1="577.95" y1="533.454" x2="588.8499999999999" y2="533.454" stroke="#707a7a" stroke-width="0.9"/>
<line x1="578.3000000000001" y1="538.977" x2="588.4999999999999" y2="538.977" stroke="#70a090" stroke-width="0.9"/>
<line x1="581.1" y1="527.931" x2="585.6999999999999" y2="527.931" stroke="#70a090" stroke-width="0.9"/>
<line x1="604.3" y1="500.31600000000003" x2="604.3" y2="544.5" stroke="#222" stroke-width="1.0"/>
<ellipse cx="604.3" cy="544.50" rx="7.00" ry="1.65" fill="#1fd6d6"/>
<ellipse cx="604.3" cy="538.98" rx="5.20" ry="1.65" fill="#1fd6d6"/>
<ellipse cx="604.3" cy="533.45" rx="4.00" ry="1.65" fill="#1fd6d6"/>
<ellipse cx="604.3" cy="527.93" rx="3.75" ry="1.65" fill="#1fd6d6"/>
<ellipse cx="604.3" cy="522.41" rx="2.50" ry="1.65" fill="#1fd6d6"/>
<circle cx="604.3" cy="516.88" r="1.75" fill="#1fd6d6"/>
<circle cx="604.3" cy="511.36" r="1.50" fill="#1fd6d6"/>
<circle cx="604.3" cy="505.84" r="1.50" fill="#1fd6d6"/>
<circle cx="604.3" cy="500.32" r="1.45" fill="#1fd6d6"/>
<line x1="600.3" y1="538.977" x2="608.3" y2="538.977" stroke="#c0301e" stroke-width="0.9"/>
<line x1="625.3" y1="422.994" x2="625.3" y2="544.5" stroke="#222" stroke-width="1.0"/>
<ellipse cx="625.3" cy="544.50" rx="2.50" ry="1.65" fill="#148a14"/>
<ellipse cx="625.3" cy="538.98" rx="5.50" ry="1.65" fill="#148a14"/>
<ellipse cx="625.3" cy="533.45" rx="7.00" ry="1.65" fill="#148a14"/>
<ellipse cx="625.3" cy="527.93" rx="6.25" ry="1.65" fill="#148a14"/>
<ellipse cx="625.3" cy="522.41" rx="5.00" ry="1.65" fill="#148a14"/>
<ellipse cx="625.3" cy="516.88" rx="4.65" ry="1.65" fill="#148a14"/>
<ellipse cx="625.3" cy="511.36" rx="3.25" ry="1.65" fill="#148a14"/>
<circle cx="625.3" cy="505.84" r="2.25" fill="#148a14"/>
<circle cx="625.3" cy="500.32" r="1.75" fill="#148a14"/>
<circle cx="625.3" cy="494.79" r="1.50" fill="#148a14"/>
<circle cx="625.3" cy="489.27" r="2.25" fill="#148a14"/>
<circle cx="625.3" cy="483.75" r="1.50" fill="#148a14"/>
<circle cx="625.3" cy="478.22" r="1.75" fill="#148a14"/>
<circle cx="625.3" cy="472.70" r="1.50" fill="#148a14"/>
<circle cx="625.3" cy="467.18" r="2.00" fill="#148a14"/>
<circle cx="625.3" cy="461.65" r="1.50" fill="#148a14"/>
<circle cx="625.3" cy="450.61" r="1.50" fill="#148a14"/>
<circle cx="625.3" cy="445.09" r="1.50" fill="#148a14"/>
<circle cx="625.3" cy="439.56" r="1.75" fill="#148a14"/>
<circle cx="625.3" cy="434.04" r="1.50" fill="#148a14"/>
<circle cx="625.3" cy="422.99" r="1.50" fill="#148a14"/>
<line x1="620.25" y1="527.931" x2="630.3499999999999" y2="527.931" stroke="#b83a10" stroke-width="0.9"/>
<line x1="646.2" y1="384.33299999999997" x2="646.2" y2="544.5" stroke="#222" stroke-width="1.0"/>
<ellipse cx="646.2" cy="544.50" rx="2.50" ry="1.65" fill="#148a14"/>
<ellipse cx="646.2" cy="538.98" rx="4.00" ry="1.65" fill="#148a14"/>
<ellipse cx="646.2" cy="533.45" rx="6.00" ry="1.65" fill="#148a14"/>
<ellipse cx="646.2" cy="527.93" rx="7.00" ry="1.65" fill="#148a14"/>
<ellipse cx="646.2" cy="522.41" rx="6.00" ry="1.65" fill="#148a14"/>
<ellipse cx="646.2" cy="516.88" rx="6.50" ry="1.65" fill="#148a14"/>
<ellipse cx="646.2" cy="511.36" rx="4.75" ry="1.65" fill="#148a14"/>
<ellipse cx="646.2" cy="505.84" rx="3.00" ry="1.65" fill="#148a14"/>
<ellipse cx="646.2" cy="500.32" rx="2.50" ry="1.65" fill="#148a14"/>
<circle cx="646.2" cy="494.79" r="1.50" fill="#148a14"/>
<circle cx="646.2" cy="489.27" r="2.00" fill="#148a14"/>
<circle cx="646.2" cy="483.75" r="1.50" fill="#148a14"/>
<circle cx="646.2" cy="478.22" r="2.00" fill="#148a14"/>
<circle cx="646.2" cy="472.70" r="1.50" fill="#148a14"/>
<circle cx="646.2" cy="467.18" r="2.25" fill="#148a14"/>
<circle cx="646.2" cy="461.65" r="1.50" fill="#148a14"/>
<circle cx="646.2" cy="450.61" r="1.50" fill="#148a14"/>
<circle cx="646.2" cy="445.09" r="1.50" fill="#148a14"/>
<circle cx="646.2" cy="384.33" r="1.50" fill="#148a14"/>
<line x1="641.4000000000001" y1="522.408" x2="651.0" y2="522.408" stroke="#8a5a10" stroke-width="0.9"/>
<line x1="667.2" y1="434.04" x2="667.2" y2="544.5" stroke="#222" stroke-width="1.0"/>
<ellipse cx="667.2" cy="544.50" rx="2.50" ry="1.65" fill="#148a14"/>
<ellipse cx="667.2" cy="538.98" rx="6.50" ry="1.65" fill="#148a14"/>
<ellipse cx="667.2" cy="533.45" rx="6.75" ry="1.65" fill="#148a14"/>
<ellipse cx="667.2" cy="527.93" rx="7.00" ry="1.65" fill="#148a14"/>
<ellipse cx="667.2" cy="522.41" rx="4.25" ry="1.65" fill="#148a14"/>
<ellipse cx="667.2" cy="516.88" rx="3.25" ry="1.65" fill="#148a14"/>
<ellipse cx="667.2" cy="511.36" rx="2.75" ry="1.65" fill="#148a14"/>
<ellipse cx="667.2" cy="505.84" rx="2.50" ry="1.65" fill="#148a14"/>
<circle cx="667.2" cy="500.32" r="1.50" fill="#148a14"/>
<circle cx="667.2" cy="494.79" r="1.75" fill="#148a14"/>
<circle cx="667.2" cy="489.27" r="1.50" fill="#148a14"/>
<circle cx="667.2" cy="483.75" r="1.75" fill="#148a14"/>
<circle cx="667.2" cy="478.22" r="1.50" fill="#148a14"/>
<circle cx="667.2" cy="472.70" r="1.50" fill="#148a14"/>
<circle cx="667.2" cy="461.65" r="1.75" fill="#148a14"/>
<circle cx="667.2" cy="456.13" r="1.50" fill="#148a14"/>
<circle cx="667.2" cy="434.04" r="1.50" fill="#148a14"/>
<line x1="661.4000000000001" y1="527.931" x2="673.0" y2="527.931" stroke="#b83a10" stroke-width="0.9"/>
<text x="559.4" y="574.6" font-size="10.5" font-weight="bold" text-anchor="start" fill="#000" transform="rotate(-45 559.4 574.6)">EV</text>
<text x="576.3" y="578.0" font-size="10.5" font-weight="bold" text-anchor="start" fill="#000" transform="rotate(-45 576.3 578.0)">RH1</text>
<text x="583.1" y="591.8" font-size="10.5" font-weight="bold" text-anchor="start" fill="#000" transform="rotate(-45 583.1 591.8)">RH1-CD</text>
<text x="620.6" y="574.6" font-size="10.5" font-weight="bold" text-anchor="start" fill="#000" transform="rotate(-45 620.6 574.6)">EV</text>
<text x="637.5" y="578.0" font-size="10.5" font-weight="bold" text-anchor="start" fill="#000" transform="rotate(-45 637.5 578.0)">RH1</text>
<text x="644.3000000000001" y="591.8" font-size="10.5" font-weight="bold" text-anchor="start" fill="#000" transform="rotate(-45 644.3000000000001 591.8)">RH1-CD</text>
<line x1="554.8" y1="598.7" x2="685" y2="598.7" stroke="#000" stroke-width="1.3"/>
<text x="619.6" y="611.6" font-size="10.5" font-weight="bold" text-anchor="middle" fill="#000">PCS<tspan font-size="6.51" dy="-3.99">LT</tspan></text>
<text transform="translate(229.8 315.8) scale(0.95 1)" font-size="20.3" font-weight="bold">D</text>
<text x="291" y="316.9" font-size="10.5" font-weight="bold" text-anchor="middle" fill="#000">PCS<tspan font-size="6.51" dy="-3.99">LT</tspan><tspan dy="3.99">-EV</tspan></text>
<text x="363.8" y="316.9" font-size="10.5" font-weight="bold" text-anchor="middle" fill="#000">PCS<tspan font-size="6.51" dy="-3.99">LT</tspan><tspan dy="3.99">-RH1</tspan></text>
<text x="434" y="316.9" font-size="10.5" font-weight="bold" text-anchor="middle" fill="#000">PCS<tspan font-size="6.51" dy="-3.99">LT</tspan><tspan dy="3.99">-RH1-CD</tspan></text>
<text x="241" y="358.8" font-size="10.4" font-weight="bold" text-anchor="middle" fill="#22c4c8" transform="rotate(-90 241 358.8)">RAD51</text>
<text x="241" y="440.4" font-size="10.4" font-weight="bold" text-anchor="middle" fill="#22c4c8" transform="rotate(-90 241 440.4)">RAD51</text>
<text x="253.9" y="441.0" font-size="10.4" font-weight="bold" text-anchor="middle" fill="#ee1c1c" transform="rotate(-90 253.9 441.0)">Telo-G probe</text>
<text x="241.4" y="516.5" font-size="10.4" font-weight="bold" text-anchor="middle" transform="rotate(-90 241.4 516.5)"><tspan fill="#2020dd">DAPI</tspan> <tspan fill="#1f9a1f">RPA</tspan></text>
<text x="241.4" y="586.2" font-size="10.4" font-weight="bold" text-anchor="middle" transform="rotate(-90 241.4 586.2)"><tspan fill="#2020dd">DAPI</tspan> <tspan fill="#1f9a1f">RPA</tspan></text>
<text x="253.9" y="585.5" font-size="10.4" font-weight="bold" text-anchor="middle" fill="#ee1c1c" transform="rotate(-90 253.9 585.5)">Telo-G probe</text>
<defs><filter id="blur1" x="-10%" y="-10%" width="120%" height="120%"><feGaussianBlur stdDeviation="0.5"/></filter><filter id="blur2" x="-20%" y="-20%" width="140%" height="140%"><feGaussianBlur stdDeviation="1.6"/></filter><radialGradient id="nuc" cx="50%" cy="45%" r="60%"><stop offset="0" stop-color="#1a1af2"/><stop offset="0.8" stop-color="#1414e0"/><stop offset="1" stop-color="#0d0db8"/></radialGradient></defs>
<clipPath id="cp00"><rect x="257.0" y="320.5" width="68.30000000000001" height="76.39999999999998"/></clipPath>
<clipPath id="cp10"><rect x="257.0" y="401.2" width="68.30000000000001" height="75.60000000000002"/></clipPath>
<clipPath id="cp20"><rect x="257.1" y="483.0" width="68.39999999999998" height="66.70000000000005"/></clipPath>
<clipPath id="cp30"><rect x="257.1" y="551.9" width="68.39999999999998" height="67.60000000000002"/></clipPath>
<clipPath id="cp01"><rect x="329.3" y="320.5" width="69.80000000000001" height="76.39999999999998"/></clipPath>
<clipPath id="cp11"><rect x="329.3" y="401.2" width="69.80000000000001" height="75.60000000000002"/></clipPath>
<clipPath id="cp21"><rect x="327.9" y="483.0" width="73.0" height="66.70000000000005"/></clipPath>
<clipPath id="cp31"><rect x="327.9" y="551.9" width="73.0" height="67.60000000000002"/></clipPath>
<clipPath id="cp02"><rect x="404.1" y="320.5" width="58.89999999999998" height="76.39999999999998"/></clipPath>
<clipPath id="cp12"><rect x="404.1" y="401.2" width="58.89999999999998" height="75.60000000000002"/></clipPath>
<clipPath id="cp22"><rect x="403.9" y="483.0" width="59.10000000000002" height="66.70000000000005"/></clipPath>
<clipPath id="cp32"><rect x="403.9" y="551.9" width="59.10000000000002" height="67.60000000000002"/></clipPath>
<clipPath id="cpn0"><path d="M259.5,489.0 C261.3,486.0 263.6,485.4 268.5,484.5 C273.4,483.6 282.3,483.2 288.7,483.4 C295.1,483.6 301.8,484.3 306.7,485.6 C311.6,486.9 315.3,488.4 317.9,491.2 C320.5,494.0 321.5,498.4 322.4,502.5 C323.3,506.6 323.7,511.5 323.5,516.0 C323.3,520.5 322.5,525.3 321.2,529.4 C319.9,533.5 318.4,537.6 315.6,540.6 C312.8,543.6 308.9,546.1 304.4,547.4 C299.9,548.7 293.9,548.9 288.7,548.5 C283.5,548.1 277.5,547.2 273.0,545.1 C268.5,543.0 264.1,540.2 261.7,536.1 C259.3,532.0 259.1,526.0 258.4,520.4 C257.7,514.8 257.5,507.7 257.7,502.5 C257.9,497.3 257.7,492.0 259.5,489.0 Z"/></clipPath>
<clipPath id="cpn1"><path d="M346.4,488.4 C348.2,486.6 348.7,485.3 353.0,484.5 C357.3,483.7 366.2,483.5 372.0,483.5 C377.8,483.5 384.2,483.8 388.0,484.5 C391.8,485.2 393.3,486.4 395.0,488.0 C396.7,489.6 397.3,491.2 398.0,494.0 C398.7,496.8 399.0,501.4 399.0,505.0 C399.0,508.6 398.8,512.3 398.0,515.5 C397.2,518.7 395.6,521.6 394.0,524.0 C392.4,526.4 390.9,528.3 388.7,529.6 C386.5,530.9 383.4,531.1 381.0,532.0 C378.6,532.9 376.8,533.5 374.6,535.0 C372.4,536.5 370.4,538.8 368.0,541.0 C365.6,543.2 363.5,546.8 360.5,548.0 C357.5,549.2 352.7,548.5 350.0,548.0 C347.3,547.5 346.8,547.1 344.2,544.7 C341.6,542.4 336.2,538.2 334.5,533.9 C332.8,529.6 333.3,523.6 334.0,518.7 C334.7,513.8 337.5,508.6 338.8,504.7 C340.1,500.8 340.7,497.7 342.0,495.0 C343.3,492.3 344.6,490.1 346.4,488.4 Z"/></clipPath>
<clipPath id="cpn2"><path d="M413.0,498.0 C415.0,496.2 418.0,491.8 421.0,489.5 C424.0,487.2 427.0,485.2 431.0,484.2 C435.0,483.2 440.9,482.6 444.9,483.4 C448.9,484.2 452.6,486.6 455.0,489.0 C457.4,491.4 458.4,493.9 459.5,498.0 C460.6,502.1 461.9,508.1 461.7,513.7 C461.5,519.3 460.0,526.8 458.3,531.6 C456.6,536.5 455.0,540.0 451.6,542.8 C448.2,545.6 443.0,547.3 438.1,548.4 C433.2,549.5 427.1,550.5 422.4,549.6 C417.7,548.7 413.1,546.2 410.1,542.8 C407.1,539.4 405.2,534.2 404.5,529.4 C403.8,524.5 404.9,518.6 405.6,513.7 C406.4,508.8 407.8,502.6 409.0,500.0 C410.2,497.4 411.0,499.8 413.0,498.0 Z"/></clipPath>
<g clip-path="url(#cp00)"><rect x="257.0" y="320.5" width="68.30000000000001" height="76.39999999999998" fill="#030707"/><g filter="url(#blur1)"><circle cx="291.1" cy="365.2" r="0.66" fill="#10a8a8" fill-opacity="0.22"/><circle cx="295.9" cy="321.9" r="0.62" fill="#10a8a8" fill-opacity="0.29"/><circle cx="318.2" cy="369.8" r="0.85" fill="#10a8a8" fill-opacity="0.29"/><circle cx="273.1" cy="339.8" r="0.88" fill="#10a8a8" fill-opacity="0.36"/><circle cx="289.5" cy="372.1" r="0.67" fill="#10a8a8" fill-opacity="0.23"/><circle cx="300.0" cy="391.0" r="0.59" fill="#10a8a8" fill-opacity="0.16"/><circle cx="279.5" cy="352.9" r="0.77" fill="#10a8a8" fill-opacity="0.21"/><circle cx="308.1" cy="377.0" r="0.70" fill="#10a8a8" fill-opacity="0.21"/><circle cx="309.5" cy="338.5" r="0.59" fill="#10a8a8" fill-opacity="0.38"/><circle cx="276.8" cy="393.1" r="0.70" fill="#10a8a8" fill-opacity="0.21"/><circle cx="272.4" cy="352.6" r="0.77" fill="#10a8a8" fill-opacity="0.43"/><circle cx="267.6" cy="350.8" r="0.59" fill="#10a8a8" fill-opacity="0.44"/><circle cx="262.2" cy="350.8" r="0.86" fill="#10a8a8" fill-opacity="0.42"/><circle cx="316.5" cy="346.0" r="0.57" fill="#10a8a8" fill-opacity="0.43"/><circle cx="299.8" cy="349.7" r="0.65" fill="#10a8a8" fill-opacity="0.25"/><circle cx="275.9" cy="347.7" r="0.88" fill="#10a8a8" fill-opacity="0.19"/><circle cx="280.7" cy="383.2" r="0.83" fill="#10a8a8" fill-opacity="0.28"/><circle cx="261.5" cy="356.9" r="0.65" fill="#10a8a8" fill-opacity="0.43"/><circle cx="270.5" cy="348.6" r="0.86" fill="#10a8a8" fill-opacity="0.16"/><circle cx="284.0" cy="382.5" r="0.81" fill="#10a8a8" fill-opacity="0.16"/><circle cx="315.8" cy="340.5" r="0.80" fill="#10a8a8" fill-opacity="0.42"/><circle cx="279.6" cy="341.7" r="0.88" fill="#10a8a8" fill-opacity="0.34"/><circle cx="274.8" cy="375.3" r="0.63" fill="#10a8a8" fill-opacity="0.23"/><circle cx="315.5" cy="369.0" r="0.88" fill="#10a8a8" fill-opacity="0.16"/><circle cx="273.0" cy="357.0" r="0.88" fill="#10a8a8" fill-opacity="0.44"/><circle cx="282.5" cy="340.1" r="0.67" fill="#10a8a8" fill-opacity="0.30"/><circle cx="308.4" cy="376.9" r="0.83" fill="#10a8a8" fill-opacity="0.38"/><circle cx="296.3" cy="345.9" r="0.63" fill="#10a8a8" fill-opacity="0.26"/><circle cx="270.8" cy="378.0" r="0.60" fill="#10a8a8" fill-opacity="0.17"/><circle cx="260.6" cy="362.9" r="0.63" fill="#10a8a8" fill-opacity="0.44"/><circle cx="275.0" cy="327.5" r="0.54" fill="#10a8a8" fill-opacity="0.30"/><circle cx="302.7" cy="354.9" r="0.59" fill="#10a8a8" fill-opacity="0.28"/><circle cx="297.1" cy="372.1" r="0.80" fill="#10a8a8" fill-opacity="0.40"/><circle cx="299.8" cy="330.3" r="0.84" fill="#10a8a8" fill-opacity="0.24"/><circle cx="293.8" cy="349.3" r="0.80" fill="#10a8a8" fill-opacity="0.21"/><circle cx="273.9" cy="339.6" r="0.56" fill="#10a8a8" fill-opacity="0.42"/><circle cx="294.5" cy="345.8" r="0.66" fill="#10a8a8" fill-opacity="0.45"/><circle cx="290.1" cy="338.6" r="0.82" fill="#10a8a8" fill-opacity="0.35"/><circle cx="288.0" cy="383.0" r="0.84" fill="#10a8a8" fill-opacity="0.42"/><circle cx="265.9" cy="335.4" r="0.89" fill="#10a8a8" fill-opacity="0.32"/><circle cx="316.4" cy="349.2" r="0.85" fill="#10a8a8" fill-opacity="0.28"/><circle cx="274.7" cy="379.9" r="0.88" fill="#10a8a8" fill-opacity="0.18"/><circle cx="295.6" cy="368.0" r="0.59" fill="#10a8a8" fill-opacity="0.26"/><circle cx="267.3" cy="336.5" r="0.60" fill="#10a8a8" fill-opacity="0.33"/><circle cx="299.0" cy="336.5" r="0.50" fill="#10a8a8" fill-opacity="0.25"/><circle cx="300.7" cy="335.1" r="0.62" fill="#10a8a8" fill-opacity="0.21"/><circle cx="308.0" cy="362.5" r="0.53" fill="#10a8a8" fill-opacity="0.18"/><circle cx="283.1" cy="362.7" r="0.76" fill="#10a8a8" fill-opacity="0.18"/><circle cx="268.7" cy="373.7" r="0.66" fill="#10a8a8" fill-opacity="0.23"/><circle cx="277.6" cy="393.2" r="0.62" fill="#10a8a8" fill-opacity="0.32"/><circle cx="280.7" cy="352.6" r="0.85" fill="#10a8a8" fill-opacity="0.45"/><circle cx="281.1" cy="336.0" r="0.79" fill="#10a8a8" fill-opacity="0.21"/><circle cx="284.9" cy="383.1" r="0.66" fill="#10a8a8" fill-opacity="0.41"/><circle cx="287.2" cy="333.4" r="0.51" fill="#10a8a8" fill-opacity="0.32"/><circle cx="298.4" cy="389.9" r="0.54" fill="#10a8a8" fill-opacity="0.34"/><circle cx="281.6" cy="359.2" r="0.56" fill="#10a8a8" fill-opacity="0.23"/><circle cx="290.9" cy="391.1" r="0.54" fill="#10a8a8" fill-opacity="0.30"/><circle cx="270.8" cy="330.7" r="0.88" fill="#10a8a8" fill-opacity="0.44"/><circle cx="288.5" cy="325.1" r="0.87" fill="#10a8a8" fill-opacity="0.27"/><circle cx="314.8" cy="368.0" r="0.83" fill="#10a8a8" fill-opacity="0.20"/><circle cx="307.4" cy="337.9" r="0.66" fill="#10a8a8" fill-opacity="0.40"/><circle cx="310.1" cy="334.9" r="0.59" fill="#10a8a8" fill-opacity="0.27"/><circle cx="290.7" cy="350.1" r="0.55" fill="#10a8a8" fill-opacity="0.22"/><circle cx="303.6" cy="388.9" r="0.52" fill="#10a8a8" fill-opacity="0.32"/><circle cx="295.8" cy="362.7" r="0.75" fill="#10a8a8" fill-opacity="0.24"/><circle cx="284.6" cy="365.1" r="0.67" fill="#10a8a8" fill-opacity="0.35"/><circle cx="286.3" cy="354.2" r="0.51" fill="#10a8a8" fill-opacity="0.34"/><circle cx="288.9" cy="338.9" r="0.81" fill="#10a8a8" fill-opacity="0.38"/><circle cx="287.0" cy="334.7" r="0.69" fill="#10a8a8" fill-opacity="0.18"/><circle cx="266.5" cy="353.7" r="0.54" fill="#10a8a8" fill-opacity="0.28"/><circle cx="290.2" cy="324.2" r="0.75" fill="#10a8a8" fill-opacity="0.17"/><circle cx="304.1" cy="379.9" r="0.70" fill="#10a8a8" fill-opacity="0.17"/><circle cx="289.8" cy="349.7" r="0.88" fill="#10a8a8" fill-opacity="0.19"/><circle cx="304.0" cy="382.7" r="0.58" fill="#10a8a8" fill-opacity="0.44"/><circle cx="289.1" cy="393.4" r="0.87" fill="#10a8a8" fill-opacity="0.20"/><circle cx="262.5" cy="347.6" r="0.80" fill="#10a8a8" fill-opacity="0.20"/><circle cx="314.3" cy="341.9" r="0.83" fill="#10a8a8" fill-opacity="0.19"/><circle cx="289.7" cy="390.6" r="0.58" fill="#10a8a8" fill-opacity="0.23"/><circle cx="290.0" cy="345.2" r="0.51" fill="#10a8a8" fill-opacity="0.20"/><circle cx="300.8" cy="388.8" r="0.57" fill="#10a8a8" fill-opacity="0.39"/><circle cx="265.6" cy="361.2" r="0.75" fill="#10a8a8" fill-opacity="0.26"/><circle cx="312.8" cy="363.1" r="0.73" fill="#10a8a8" fill-opacity="0.41"/><circle cx="297.7" cy="350.9" r="0.82" fill="#10a8a8" fill-opacity="0.23"/><circle cx="320.1" cy="364.7" r="0.64" fill="#10a8a8" fill-opacity="0.38"/><circle cx="286.0" cy="334.5" r="0.80" fill="#10a8a8" fill-opacity="0.16"/><circle cx="309.5" cy="340.3" r="0.76" fill="#10a8a8" fill-opacity="0.45"/><circle cx="294.9" cy="371.3" r="0.63" fill="#10a8a8" fill-opacity="0.15"/><circle cx="296.8" cy="353.8" r="0.71" fill="#10a8a8" fill-opacity="0.42"/><circle cx="266.7" cy="338.3" r="0.76" fill="#10a8a8" fill-opacity="0.16"/><circle cx="265.1" cy="348.1" r="0.59" fill="#10a8a8" fill-opacity="0.33"/><circle cx="295.1" cy="336.5" r="0.75" fill="#10a8a8" fill-opacity="0.29"/><circle cx="273.6" cy="332.4" r="0.54" fill="#10a8a8" fill-opacity="0.34"/><circle cx="312.7" cy="380.2" r="0.66" fill="#10a8a8" fill-opacity="0.23"/><circle cx="293.5" cy="347.6" r="0.76" fill="#10a8a8" fill-opacity="0.28"/><circle cx="316.8" cy="376.6" r="0.60" fill="#10a8a8" fill-opacity="0.42"/><circle cx="261.2" cy="361.3" r="0.66" fill="#10a8a8" fill-opacity="0.22"/><circle cx="259.2" cy="362.7" r="0.88" fill="#10a8a8" fill-opacity="0.19"/><circle cx="270.9" cy="367.1" r="0.70" fill="#10a8a8" fill-opacity="0.34"/><circle cx="309.1" cy="334.3" r="0.62" fill="#10a8a8" fill-opacity="0.24"/><circle cx="307.2" cy="375.2" r="0.50" fill="#10a8a8" fill-opacity="0.40"/><circle cx="304.9" cy="356.3" r="0.80" fill="#10a8a8" fill-opacity="0.29"/><circle cx="272.5" cy="329.1" r="0.59" fill="#10a8a8" fill-opacity="0.16"/><circle cx="279.4" cy="377.8" r="0.78" fill="#10a8a8" fill-opacity="0.40"/><circle cx="302.8" cy="341.2" r="0.72" fill="#10a8a8" fill-opacity="0.28"/><circle cx="307.6" cy="360.7" r="0.61" fill="#10a8a8" fill-opacity="0.34"/><circle cx="274.7" cy="338.9" r="0.80" fill="#10a8a8" fill-opacity="0.43"/><circle cx="304.9" cy="345.8" r="0.85" fill="#10a8a8" fill-opacity="0.25"/><circle cx="273.4" cy="389.7" r="0.75" fill="#10a8a8" fill-opacity="0.36"/><circle cx="287.7" cy="384.6" r="0.78" fill="#10a8a8" fill-opacity="0.41"/><circle cx="285.7" cy="375.9" r="0.73" fill="#10a8a8" fill-opacity="0.24"/></g><g filter="url(#blur1)"><circle cx="273.3" cy="367.7" r="0.82" fill="#20d4d4" fill-opacity="0.87"/><circle cx="280.8" cy="333.1" r="0.81" fill="#20d4d4" fill-opacity="0.56"/><circle cx="300.5" cy="368.5" r="1.01" fill="#20d4d4" fill-opacity="0.81"/><circle cx="265.0" cy="365.4" r="0.91" fill="#20d4d4" fill-opacity="0.84"/><circle cx="267.4" cy="337.7" r="0.83" fill="#20d4d4" fill-opacity="0.56"/><circle cx="309.3" cy="381.4" r="0.99" fill="#20d4d4" fill-opacity="0.84"/><circle cx="297.0" cy="343.6" r="0.83" fill="#20d4d4" fill-opacity="0.58"/><circle cx="304.2" cy="337.7" r="0.90" fill="#20d4d4" fill-opacity="0.70"/></g><ellipse cx="289.6" cy="358.9" rx="28.3" ry="36.0" fill="none" stroke="#d0d0d0" stroke-width="0.8" stroke-dasharray="3.5 2.5"/><path d="M268.4,355.2 L272.9,356.3 L271.0,352.5" fill="none" stroke="#fff" stroke-width="1.35" stroke-linejoin="round" stroke-linecap="round"/><line x1="259.0" y1="323.1" x2="279.0" y2="323.1" stroke="#fff" stroke-width="1.5"/><text x="260.0" y="331.70000000000005" font-size="9" font-weight="bold" fill="#fff">5µm</text></g>
<g clip-path="url(#cp10)"><rect x="257.0" y="401.2" width="68.30000000000001" height="75.60000000000002" fill="#170506"/><g filter="url(#blur1)"><circle cx="275.8" cy="455.9" r="0.65" fill="#a01010" fill-opacity="0.40"/><circle cx="319.0" cy="439.9" r="0.84" fill="#a01010" fill-opacity="0.49"/><circle cx="259.9" cy="433.0" r="0.67" fill="#a01010" fill-opacity="0.53"/><circle cx="279.9" cy="455.1" r="0.72" fill="#a01010" fill-opacity="0.36"/><circle cx="309.9" cy="414.7" r="0.50" fill="#a01010" fill-opacity="0.36"/><circle cx="258.2" cy="438.9" r="0.70" fill="#a01010" fill-opacity="0.54"/><circle cx="269.6" cy="439.2" r="0.64" fill="#a01010" fill-opacity="0.55"/><circle cx="275.9" cy="418.0" r="0.78" fill="#a01010" fill-opacity="0.45"/><circle cx="264.9" cy="449.9" r="0.53" fill="#a01010" fill-opacity="0.54"/><circle cx="302.1" cy="461.3" r="0.75" fill="#a01010" fill-opacity="0.41"/><circle cx="283.3" cy="431.6" r="0.86" fill="#a01010" fill-opacity="0.33"/><circle cx="271.0" cy="421.7" r="0.86" fill="#a01010" fill-opacity="0.45"/><circle cx="281.9" cy="468.6" r="0.59" fill="#a01010" fill-opacity="0.44"/><circle cx="291.6" cy="458.8" r="0.80" fill="#a01010" fill-opacity="0.49"/><circle cx="280.0" cy="426.5" r="0.56" fill="#a01010" fill-opacity="0.55"/><circle cx="299.9" cy="457.9" r="0.57" fill="#a01010" fill-opacity="0.43"/><circle cx="306.9" cy="445.6" r="0.55" fill="#a01010" fill-opacity="0.44"/><circle cx="314.0" cy="419.8" r="0.58" fill="#a01010" fill-opacity="0.39"/><circle cx="302.5" cy="465.6" r="0.56" fill="#a01010" fill-opacity="0.35"/><circle cx="273.6" cy="426.5" r="0.71" fill="#a01010" fill-opacity="0.35"/><circle cx="278.7" cy="416.1" r="0.89" fill="#a01010" fill-opacity="0.52"/><circle cx="264.3" cy="430.8" r="0.89" fill="#a01010" fill-opacity="0.54"/><circle cx="304.4" cy="434.7" r="0.58" fill="#a01010" fill-opacity="0.49"/><circle cx="264.7" cy="417.4" r="0.66" fill="#a01010" fill-opacity="0.31"/><circle cx="283.2" cy="461.6" r="0.78" fill="#a01010" fill-opacity="0.45"/><circle cx="298.0" cy="436.8" r="0.56" fill="#a01010" fill-opacity="0.48"/><circle cx="283.6" cy="457.8" r="0.86" fill="#a01010" fill-opacity="0.43"/><circle cx="294.3" cy="458.4" r="0.67" fill="#a01010" fill-opacity="0.37"/><circle cx="303.7" cy="468.3" r="0.81" fill="#a01010" fill-opacity="0.51"/><circle cx="311.9" cy="453.2" r="0.76" fill="#a01010" fill-opacity="0.44"/><circle cx="277.7" cy="449.3" r="0.54" fill="#a01010" fill-opacity="0.43"/><circle cx="307.5" cy="455.7" r="0.75" fill="#a01010" fill-opacity="0.38"/><circle cx="284.8" cy="436.2" r="0.75" fill="#a01010" fill-opacity="0.42"/><circle cx="300.7" cy="472.1" r="0.57" fill="#a01010" fill-opacity="0.50"/><circle cx="307.2" cy="431.2" r="0.70" fill="#a01010" fill-opacity="0.59"/><circle cx="260.3" cy="442.9" r="0.56" fill="#a01010" fill-opacity="0.53"/><circle cx="317.5" cy="441.1" r="0.54" fill="#a01010" fill-opacity="0.47"/><circle cx="292.2" cy="456.0" r="0.70" fill="#a01010" fill-opacity="0.49"/><circle cx="310.5" cy="441.2" r="0.66" fill="#a01010" fill-opacity="0.58"/><circle cx="271.2" cy="453.5" r="0.66" fill="#a01010" fill-opacity="0.53"/><circle cx="280.4" cy="406.1" r="0.61" fill="#a01010" fill-opacity="0.42"/><circle cx="258.7" cy="433.4" r="0.67" fill="#a01010" fill-opacity="0.51"/><circle cx="280.2" cy="421.8" r="0.59" fill="#a01010" fill-opacity="0.52"/><circle cx="317.5" cy="441.6" r="0.59" fill="#a01010" fill-opacity="0.54"/><circle cx="282.8" cy="417.8" r="0.55" fill="#a01010" fill-opacity="0.53"/><circle cx="309.2" cy="449.8" r="0.69" fill="#a01010" fill-opacity="0.47"/><circle cx="280.3" cy="450.1" r="0.83" fill="#a01010" fill-opacity="0.54"/><circle cx="287.6" cy="424.1" r="0.72" fill="#a01010" fill-opacity="0.34"/><circle cx="310.8" cy="428.6" r="0.84" fill="#a01010" fill-opacity="0.38"/><circle cx="281.7" cy="421.0" r="0.67" fill="#a01010" fill-opacity="0.36"/><circle cx="275.7" cy="420.3" r="0.62" fill="#a01010" fill-opacity="0.44"/><circle cx="285.1" cy="450.0" r="0.76" fill="#a01010" fill-opacity="0.41"/><circle cx="315.3" cy="461.1" r="0.56" fill="#a01010" fill-opacity="0.55"/><circle cx="299.5" cy="420.7" r="0.54" fill="#a01010" fill-opacity="0.34"/><circle cx="272.7" cy="460.5" r="0.64" fill="#a01010" fill-opacity="0.35"/><circle cx="315.2" cy="461.7" r="0.57" fill="#a01010" fill-opacity="0.57"/><circle cx="296.5" cy="460.9" r="0.77" fill="#a01010" fill-opacity="0.57"/><circle cx="307.9" cy="465.2" r="0.58" fill="#a01010" fill-opacity="0.51"/><circle cx="291.6" cy="457.9" r="0.68" fill="#a01010" fill-opacity="0.56"/><circle cx="293.1" cy="421.8" r="0.59" fill="#a01010" fill-opacity="0.34"/><circle cx="289.2" cy="406.2" r="0.69" fill="#a01010" fill-opacity="0.34"/><circle cx="289.1" cy="439.5" r="0.72" fill="#a01010" fill-opacity="0.56"/><circle cx="287.6" cy="444.3" r="0.77" fill="#a01010" fill-opacity="0.55"/><circle cx="281.7" cy="433.5" r="0.88" fill="#a01010" fill-opacity="0.32"/><circle cx="298.3" cy="449.9" r="0.51" fill="#a01010" fill-opacity="0.48"/><circle cx="301.2" cy="472.2" r="0.63" fill="#a01010" fill-opacity="0.59"/><circle cx="290.3" cy="438.4" r="0.86" fill="#a01010" fill-opacity="0.31"/><circle cx="303.4" cy="449.1" r="0.64" fill="#a01010" fill-opacity="0.56"/><circle cx="281.1" cy="437.7" r="0.71" fill="#a01010" fill-opacity="0.53"/><circle cx="271.3" cy="434.7" r="0.67" fill="#a01010" fill-opacity="0.47"/><circle cx="310.3" cy="423.9" r="0.83" fill="#a01010" fill-opacity="0.42"/><circle cx="289.8" cy="422.3" r="0.70" fill="#a01010" fill-opacity="0.59"/><circle cx="299.4" cy="461.7" r="0.63" fill="#a01010" fill-opacity="0.40"/><circle cx="276.9" cy="446.1" r="0.75" fill="#a01010" fill-opacity="0.54"/><circle cx="314.0" cy="443.0" r="0.52" fill="#a01010" fill-opacity="0.39"/><circle cx="316.3" cy="447.8" r="0.76" fill="#a01010" fill-opacity="0.54"/><circle cx="315.6" cy="448.0" r="0.75" fill="#a01010" fill-opacity="0.49"/><circle cx="302.1" cy="446.9" r="0.77" fill="#a01010" fill-opacity="0.36"/><circle cx="300.2" cy="436.4" r="0.81" fill="#a01010" fill-opacity="0.33"/><circle cx="307.0" cy="470.9" r="0.76" fill="#a01010" fill-opacity="0.41"/></g><g filter="url(#blur1)"><circle cx="310.1" cy="461.3" r="1.04" fill="#ff1818" fill-opacity="0.59"/><circle cx="277.1" cy="433.7" r="0.89" fill="#ff1818" fill-opacity="0.69"/><circle cx="298.6" cy="472.4" r="0.73" fill="#ff1818" fill-opacity="0.76"/><circle cx="309.3" cy="445.3" r="1.25" fill="#ff1818" fill-opacity="0.70"/><circle cx="258.8" cy="431.1" r="1.06" fill="#ff1818" fill-opacity="0.97"/><circle cx="320.1" cy="437.7" r="0.95" fill="#ff1818" fill-opacity="0.51"/><circle cx="298.8" cy="417.8" r="0.79" fill="#ff1818" fill-opacity="0.46"/><circle cx="303.5" cy="420.1" r="1.14" fill="#ff1818" fill-opacity="0.55"/><circle cx="303.1" cy="466.5" r="1.14" fill="#ff1818" fill-opacity="0.50"/><circle cx="297.8" cy="455.4" r="0.98" fill="#ff1818" fill-opacity="0.96"/><circle cx="277.6" cy="456.9" r="0.80" fill="#ff1818" fill-opacity="0.92"/><circle cx="288.7" cy="406.3" r="0.92" fill="#ff1818" fill-opacity="0.77"/><circle cx="285.7" cy="453.0" r="0.79" fill="#ff1818" fill-opacity="0.89"/><circle cx="280.9" cy="450.6" r="1.08" fill="#ff1818" fill-opacity="0.68"/><circle cx="282.4" cy="461.2" r="1.27" fill="#ff1818" fill-opacity="0.88"/><circle cx="293.8" cy="423.9" r="0.74" fill="#ff1818" fill-opacity="0.99"/><circle cx="302.5" cy="464.4" r="0.90" fill="#ff1818" fill-opacity="0.78"/><circle cx="296.0" cy="425.1" r="0.96" fill="#ff1818" fill-opacity="0.94"/><circle cx="281.8" cy="453.6" r="1.06" fill="#ff1818" fill-opacity="0.94"/><circle cx="309.1" cy="423.2" r="0.70" fill="#ff1818" fill-opacity="0.59"/><circle cx="284.7" cy="446.2" r="1.19" fill="#ff1818" fill-opacity="0.94"/><circle cx="309.4" cy="467.4" r="1.04" fill="#ff1818" fill-opacity="0.60"/><circle cx="311.9" cy="462.8" r="1.11" fill="#ff1818" fill-opacity="0.95"/><circle cx="279.9" cy="408.2" r="1.03" fill="#ff1818" fill-opacity="0.89"/><circle cx="270.6" cy="458.5" r="1.26" fill="#ff1818" fill-opacity="0.58"/><circle cx="296.4" cy="453.0" r="0.98" fill="#ff1818" fill-opacity="0.56"/><circle cx="274.1" cy="458.6" r="1.17" fill="#ff1818" fill-opacity="0.70"/><circle cx="306.9" cy="419.4" r="1.05" fill="#ff1818" fill-opacity="0.94"/><circle cx="314.0" cy="441.3" r="0.99" fill="#ff1818" fill-opacity="0.77"/><circle cx="269.9" cy="416.3" r="0.81" fill="#ff1818" fill-opacity="0.84"/><circle cx="280.9" cy="444.5" r="0.94" fill="#ff1818" fill-opacity="0.73"/><circle cx="264.6" cy="449.6" r="1.17" fill="#ff1818" fill-opacity="0.54"/><circle cx="295.8" cy="427.9" r="1.01" fill="#ff1818" fill-opacity="0.46"/><circle cx="312.8" cy="438.6" r="1.04" fill="#ff1818" fill-opacity="0.59"/><circle cx="307.3" cy="434.0" r="1.27" fill="#ff1818" fill-opacity="0.87"/><circle cx="270.6" cy="415.5" r="0.75" fill="#ff1818" fill-opacity="0.48"/><circle cx="293.2" cy="467.6" r="0.97" fill="#ff1818" fill-opacity="0.97"/><circle cx="295.8" cy="431.8" r="0.77" fill="#ff1818" fill-opacity="0.98"/><circle cx="274.2" cy="444.5" r="1.08" fill="#ff1818" fill-opacity="0.98"/><circle cx="300.4" cy="431.5" r="0.97" fill="#ff1818" fill-opacity="0.54"/><circle cx="274.1" cy="428.4" r="1.24" fill="#ff1818" fill-opacity="0.95"/><circle cx="307.8" cy="455.4" r="1.09" fill="#ff1818" fill-opacity="0.99"/><circle cx="300.8" cy="424.4" r="1.05" fill="#ff1818" fill-opacity="0.87"/><circle cx="264.6" cy="426.3" r="0.85" fill="#ff1818" fill-opacity="0.52"/><circle cx="288.4" cy="414.5" r="0.84" fill="#ff1818" fill-opacity="0.53"/><circle cx="303.4" cy="416.5" r="0.72" fill="#ff1818" fill-opacity="0.96"/><circle cx="266.8" cy="435.6" r="0.76" fill="#ff1818" fill-opacity="0.96"/><circle cx="311.3" cy="449.3" r="0.97" fill="#ff1818" fill-opacity="0.64"/><circle cx="310.1" cy="437.9" r="1.08" fill="#ff1818" fill-opacity="0.53"/><circle cx="303.1" cy="443.6" r="0.79" fill="#ff1818" fill-opacity="0.93"/><circle cx="274.8" cy="432.9" r="0.79" fill="#ff1818" fill-opacity="0.60"/><circle cx="311.1" cy="427.1" r="0.80" fill="#ff1818" fill-opacity="0.72"/><circle cx="278.1" cy="470.1" r="0.77" fill="#ff1818" fill-opacity="0.99"/><circle cx="300.3" cy="417.8" r="0.99" fill="#ff1818" fill-opacity="0.61"/><circle cx="274.2" cy="417.0" r="0.92" fill="#ff1818" fill-opacity="1.00"/><circle cx="264.1" cy="423.7" r="1.24" fill="#ff1818" fill-opacity="0.48"/><circle cx="304.0" cy="424.0" r="1.29" fill="#ff1818" fill-opacity="0.46"/><circle cx="309.1" cy="427.6" r="0.78" fill="#ff1818" fill-opacity="0.45"/><circle cx="310.7" cy="441.6" r="0.81" fill="#ff1818" fill-opacity="0.69"/><circle cx="315.7" cy="418.3" r="1.04" fill="#ff1818" fill-opacity="0.53"/><circle cx="269.3" cy="460.0" r="1.13" fill="#ff1818" fill-opacity="0.56"/><circle cx="296.5" cy="439.3" r="0.86" fill="#ff1818" fill-opacity="0.56"/></g><g filter="url(#blur1)"><circle cx="296.0" cy="454.6" r="0.92" fill="#18c0c0" fill-opacity="0.64"/><circle cx="302.8" cy="433.0" r="0.89" fill="#18c0c0" fill-opacity="0.38"/><circle cx="307.2" cy="427.7" r="0.94" fill="#18c0c0" fill-opacity="0.78"/><circle cx="289.2" cy="404.7" r="0.96" fill="#18c0c0" fill-opacity="0.59"/><circle cx="310.7" cy="422.8" r="0.67" fill="#18c0c0" fill-opacity="0.77"/><circle cx="282.1" cy="415.4" r="0.75" fill="#18c0c0" fill-opacity="0.65"/><circle cx="261.6" cy="441.0" r="0.78" fill="#18c0c0" fill-opacity="0.61"/><circle cx="268.1" cy="455.1" r="0.93" fill="#18c0c0" fill-opacity="0.78"/><circle cx="279.5" cy="454.8" r="0.75" fill="#18c0c0" fill-opacity="0.73"/><circle cx="315.3" cy="439.2" r="0.81" fill="#18c0c0" fill-opacity="0.62"/><circle cx="291.7" cy="405.1" r="0.99" fill="#18c0c0" fill-opacity="0.46"/><circle cx="275.5" cy="462.4" r="0.61" fill="#18c0c0" fill-opacity="0.40"/><circle cx="300.9" cy="417.6" r="0.61" fill="#18c0c0" fill-opacity="0.65"/><circle cx="293.9" cy="441.2" r="0.88" fill="#18c0c0" fill-opacity="0.40"/><circle cx="310.5" cy="455.2" r="0.62" fill="#18c0c0" fill-opacity="0.41"/><circle cx="289.2" cy="439.7" r="0.71" fill="#18c0c0" fill-opacity="0.41"/><circle cx="284.3" cy="413.5" r="0.84" fill="#18c0c0" fill-opacity="0.78"/><circle cx="269.6" cy="444.8" r="0.90" fill="#18c0c0" fill-opacity="0.43"/><circle cx="283.3" cy="433.9" r="0.94" fill="#18c0c0" fill-opacity="0.61"/><circle cx="283.7" cy="471.4" r="0.91" fill="#18c0c0" fill-opacity="0.52"/><circle cx="274.9" cy="427.7" r="0.77" fill="#18c0c0" fill-opacity="0.84"/><circle cx="307.4" cy="464.6" r="0.62" fill="#18c0c0" fill-opacity="0.61"/><circle cx="275.4" cy="434.0" r="0.85" fill="#18c0c0" fill-opacity="0.53"/><circle cx="291.3" cy="408.6" r="0.77" fill="#18c0c0" fill-opacity="0.60"/><circle cx="314.3" cy="449.2" r="0.92" fill="#18c0c0" fill-opacity="0.79"/><circle cx="297.6" cy="422.7" r="0.87" fill="#18c0c0" fill-opacity="0.49"/><circle cx="292.0" cy="470.2" r="0.85" fill="#18c0c0" fill-opacity="0.48"/><circle cx="290.7" cy="434.8" r="0.98" fill="#18c0c0" fill-opacity="0.49"/><circle cx="278.6" cy="450.2" r="0.65" fill="#18c0c0" fill-opacity="0.65"/><circle cx="315.4" cy="440.6" r="0.71" fill="#18c0c0" fill-opacity="0.58"/><circle cx="291.5" cy="414.3" r="0.65" fill="#18c0c0" fill-opacity="0.42"/><circle cx="277.9" cy="432.9" r="0.72" fill="#18c0c0" fill-opacity="0.47"/><circle cx="266.3" cy="442.9" r="0.94" fill="#18c0c0" fill-opacity="0.65"/><circle cx="293.6" cy="450.4" r="0.68" fill="#18c0c0" fill-opacity="0.71"/><circle cx="287.4" cy="443.1" r="0.85" fill="#18c0c0" fill-opacity="0.58"/></g><ellipse cx="289.6" cy="439.59999999999997" rx="28.3" ry="36.0" fill="none" stroke="#d0d0d0" stroke-width="0.8" stroke-dasharray="3.5 2.5"/><path d="M268.4,435.9 L272.9,437.0 L271.0,433.2" fill="none" stroke="#fff" stroke-width="1.35" stroke-linejoin="round" stroke-linecap="round"/><rect x="258.0" y="402.3" width="23" height="11" fill="#000"/><line x1="259.0" y1="403.8" x2="279.0" y2="403.8" stroke="#fff" stroke-width="1.5"/><text x="260.0" y="412.40000000000003" font-size="9" font-weight="bold" fill="#fff">5µm</text></g>
<g clip-path="url(#cp20)"><rect x="257.1" y="483.0" width="68.39999999999998" height="66.70000000000005" fill="#010104"/><g transform="translate(0 0)"><path d="M259.5,489.0 C261.3,486.0 263.6,485.4 268.5,484.5 C273.4,483.6 282.3,483.2 288.7,483.4 C295.1,483.6 301.8,484.3 306.7,485.6 C311.6,486.9 315.3,488.4 317.9,491.2 C320.5,494.0 321.5,498.4 322.4,502.5 C323.3,506.6 323.7,511.5 323.5,516.0 C323.3,520.5 322.5,525.3 321.2,529.4 C319.9,533.5 318.4,537.6 315.6,540.6 C312.8,543.6 308.9,546.1 304.4,547.4 C299.9,548.7 293.9,548.9 288.7,548.5 C283.5,548.1 277.5,547.2 273.0,545.1 C268.5,543.0 264.1,540.2 261.7,536.1 C259.3,532.0 259.1,526.0 258.4,520.4 C257.7,514.8 257.5,507.7 257.7,502.5 C257.9,497.3 257.7,492.0 259.5,489.0 Z" fill="#1418c4" filter="url(#blur2)"/><g clip-path="url(#cpn0)" filter="url(#blur2)"><circle cx="280.9" cy="503.6" r="3.0" fill="#000060" fill-opacity="0.35"/><circle cx="284.4" cy="520.1" r="2.7" fill="#000060" fill-opacity="0.35"/><circle cx="307.4" cy="503.4" r="3.0" fill="#3040ff" fill-opacity="0.3"/><circle cx="279.7" cy="539.4" r="3.5" fill="#000060" fill-opacity="0.35"/><circle cx="273.6" cy="495.2" r="2.9" fill="#3040ff" fill-opacity="0.3"/><circle cx="269.0" cy="510.6" r="3.5" fill="#000060" fill-opacity="0.35"/><circle cx="271.2" cy="502.8" r="3.5" fill="#3040ff" fill-opacity="0.3"/><circle cx="273.4" cy="508.2" r="3.4" fill="#000060" fill-opacity="0.35"/><circle cx="295.6" cy="532.8" r="3.0" fill="#3040ff" fill-opacity="0.3"/><circle cx="301.5" cy="527.7" r="3.0" fill="#3040ff" fill-opacity="0.3"/><circle cx="303.7" cy="526.0" r="2.3" fill="#3040ff" fill-opacity="0.3"/><circle cx="307.8" cy="492.2" r="3.2" fill="#3040ff" fill-opacity="0.3"/><circle cx="289.9" cy="538.2" r="2.8" fill="#3040ff" fill-opacity="0.3"/><circle cx="303.6" cy="533.9" r="2.8" fill="#3040ff" fill-opacity="0.3"/><circle cx="287.7" cy="514.0" r="2.6" fill="#3040ff" fill-opacity="0.3"/><circle cx="284.8" cy="518.7" r="2.6" fill="#000060" fill-opacity="0.35"/><circle cx="303.8" cy="532.8" r="2.9" fill="#000060" fill-opacity="0.35"/><circle cx="274.8" cy="506.6" r="3.2" fill="#000060" fill-opacity="0.35"/><circle cx="293.9" cy="496.2" r="2.6" fill="#3040ff" fill-opacity="0.3"/><circle cx="306.5" cy="532.2" r="2.4" fill="#3040ff" fill-opacity="0.3"/><circle cx="286.5" cy="535.7" r="2.1" fill="#000060" fill-opacity="0.35"/><circle cx="293.1" cy="515.9" r="3.5" fill="#3040ff" fill-opacity="0.3"/></g><g filter="url(#blur1)"><circle cx="292.2" cy="543.9" r="0.71" fill="#30b8a0" fill-opacity="0.48"/><circle cx="300.7" cy="509.8" r="0.64" fill="#30b8a0" fill-opacity="0.52"/><circle cx="281.4" cy="541.1" r="0.77" fill="#30b8a0" fill-opacity="0.49"/><circle cx="266.7" cy="509.0" r="0.66" fill="#30b8a0" fill-opacity="0.50"/><circle cx="294.3" cy="537.3" r="0.89" fill="#30b8a0" fill-opacity="0.47"/><circle cx="286.5" cy="523.0" r="0.90" fill="#30b8a0" fill-opacity="0.40"/><circle cx="291.7" cy="533.7" r="0.57" fill="#30b8a0" fill-opacity="0.39"/><circle cx="290.7" cy="494.2" r="0.86" fill="#30b8a0" fill-opacity="0.56"/><circle cx="312.5" cy="511.6" r="0.56" fill="#30b8a0" fill-opacity="0.38"/><circle cx="290.7" cy="516.3" r="0.58" fill="#30b8a0" fill-opacity="0.33"/><circle cx="297.5" cy="521.8" r="0.64" fill="#30b8a0" fill-opacity="0.70"/><circle cx="297.9" cy="490.4" r="0.66" fill="#30b8a0" fill-opacity="0.60"/><circle cx="278.8" cy="526.7" r="0.50" fill="#30b8a0" fill-opacity="0.39"/><circle cx="309.8" cy="520.8" r="0.77" fill="#30b8a0" fill-opacity="0.34"/><circle cx="289.9" cy="519.0" r="0.61" fill="#30b8a0" fill-opacity="0.54"/><circle cx="291.8" cy="543.8" r="0.73" fill="#30b8a0" fill-opacity="0.43"/><circle cx="305.1" cy="494.0" r="0.54" fill="#30b8a0" fill-opacity="0.33"/><circle cx="291.3" cy="534.1" r="0.75" fill="#30b8a0" fill-opacity="0.61"/><circle cx="305.7" cy="506.1" r="0.79" fill="#30b8a0" fill-opacity="0.41"/><circle cx="270.8" cy="502.9" r="0.54" fill="#30b8a0" fill-opacity="0.66"/><circle cx="294.8" cy="507.5" r="0.68" fill="#30b8a0" fill-opacity="0.42"/><circle cx="294.8" cy="541.7" r="0.68" fill="#30b8a0" fill-opacity="0.53"/><circle cx="279.3" cy="538.3" r="0.83" fill="#30b8a0" fill-opacity="0.39"/><circle cx="295.9" cy="541.8" r="0.70" fill="#30b8a0" fill-opacity="0.68"/><circle cx="275.1" cy="509.8" r="0.79" fill="#30b8a0" fill-opacity="0.35"/><circle cx="278.9" cy="537.0" r="0.69" fill="#30b8a0" fill-opacity="0.61"/><circle cx="275.1" cy="497.7" r="0.64" fill="#30b8a0" fill-opacity="0.33"/><circle cx="293.6" cy="494.4" r="0.71" fill="#30b8a0" fill-opacity="0.42"/><circle cx="284.4" cy="491.7" r="0.55" fill="#30b8a0" fill-opacity="0.62"/><circle cx="281.4" cy="501.7" r="0.58" fill="#30b8a0" fill-opacity="0.38"/><circle cx="299.5" cy="507.1" r="0.56" fill="#30b8a0" fill-opacity="0.57"/><circle cx="266.4" cy="503.1" r="0.83" fill="#30b8a0" fill-opacity="0.31"/><circle cx="286.7" cy="534.8" r="0.82" fill="#30b8a0" fill-opacity="0.32"/><circle cx="281.5" cy="528.5" r="0.65" fill="#30b8a0" fill-opacity="0.68"/><circle cx="290.3" cy="500.7" r="0.68" fill="#30b8a0" fill-opacity="0.31"/><circle cx="302.0" cy="502.6" r="0.86" fill="#30b8a0" fill-opacity="0.51"/><circle cx="282.3" cy="501.8" r="0.74" fill="#30b8a0" fill-opacity="0.35"/><circle cx="290.8" cy="518.4" r="0.61" fill="#30b8a0" fill-opacity="0.60"/><circle cx="283.3" cy="524.8" r="0.73" fill="#30b8a0" fill-opacity="0.39"/><circle cx="283.6" cy="492.8" r="0.57" fill="#30b8a0" fill-opacity="0.63"/><circle cx="279.6" cy="525.1" r="0.54" fill="#30b8a0" fill-opacity="0.50"/><circle cx="282.0" cy="516.0" r="0.62" fill="#30b8a0" fill-opacity="0.28"/><circle cx="279.1" cy="500.7" r="0.55" fill="#30b8a0" fill-opacity="0.57"/><circle cx="277.4" cy="510.6" r="0.86" fill="#30b8a0" fill-opacity="0.60"/><circle cx="268.7" cy="503.5" r="0.51" fill="#30b8a0" fill-opacity="0.56"/></g><g filter="url(#blur1)"><circle cx="302.1" cy="505.3" r="0.57" fill="#20c040" fill-opacity="0.56"/><circle cx="304.7" cy="497.9" r="0.74" fill="#20c040" fill-opacity="0.44"/><circle cx="299.5" cy="493.1" r="0.45" fill="#20c040" fill-opacity="0.67"/><circle cx="307.3" cy="531.3" r="0.42" fill="#20c040" fill-opacity="0.32"/><circle cx="265.0" cy="494.3" r="0.52" fill="#20c040" fill-opacity="0.45"/><circle cx="255.9" cy="502.4" r="0.66" fill="#20c040" fill-opacity="0.37"/><circle cx="315.1" cy="521.1" r="0.69" fill="#20c040" fill-opacity="0.40"/><circle cx="285.2" cy="529.3" r="0.54" fill="#20c040" fill-opacity="0.30"/><circle cx="314.7" cy="535.9" r="0.51" fill="#20c040" fill-opacity="0.32"/><circle cx="316.2" cy="523.7" r="0.42" fill="#20c040" fill-opacity="0.40"/><circle cx="261.2" cy="537.0" r="0.48" fill="#20c040" fill-opacity="0.67"/><circle cx="308.5" cy="486.2" r="0.68" fill="#20c040" fill-opacity="0.46"/><circle cx="308.3" cy="539.7" r="0.51" fill="#20c040" fill-opacity="0.34"/><circle cx="323.0" cy="510.5" r="0.77" fill="#20c040" fill-opacity="0.58"/></g><path d="M299.0,518.8 L303.5,519.9 L301.6,516.1" fill="none" stroke="#fff" stroke-width="1.35" stroke-linejoin="round" stroke-linecap="round"/><path d="M279.9,532.2 L284.4,533.3 L282.5,529.5" fill="none" stroke="#fff" stroke-width="1.35" stroke-linejoin="round" stroke-linecap="round"/><path d="M289.1,530.5 L293.6,531.6 L291.7,527.8" fill="none" stroke="#fff" stroke-width="1.35" stroke-linejoin="round" stroke-linecap="round"/></g><line x1="301.1" y1="484.3" x2="325.5" y2="484.3" stroke="#fff" stroke-width="1.5"/><text x="303.70000000000005" y="492.90000000000003" font-size="9" font-weight="bold" fill="#fff">5µm</text></g>
<g clip-path="url(#cp30)"><rect x="257.1" y="551.9" width="68.39999999999998" height="67.60000000000002" fill="#1e070c"/><g transform="translate(0 68.89999999999998)"><path d="M259.5,489.0 C261.3,486.0 263.6,485.4 268.5,484.5 C273.4,483.6 282.3,483.2 288.7,483.4 C295.1,483.6 301.8,484.3 306.7,485.6 C311.6,486.9 315.3,488.4 317.9,491.2 C320.5,494.0 321.5,498.4 322.4,502.5 C323.3,506.6 323.7,511.5 323.5,516.0 C323.3,520.5 322.5,525.3 321.2,529.4 C319.9,533.5 318.4,537.6 315.6,540.6 C312.8,543.6 308.9,546.1 304.4,547.4 C299.9,548.7 293.9,548.9 288.7,548.5 C283.5,548.1 277.5,547.2 273.0,545.1 C268.5,543.0 264.1,540.2 261.7,536.1 C259.3,532.0 259.1,526.0 258.4,520.4 C257.7,514.8 257.5,507.7 257.7,502.5 C257.9,497.3 257.7,492.0 259.5,489.0 Z" fill="#1418c4" filter="url(#blur2)"/><g clip-path="url(#cpn0)" filter="url(#blur2)"><circle cx="301.5" cy="531.8" r="2.9" fill="#3040ff" fill-opacity="0.3"/><circle cx="268.6" cy="525.5" r="3.0" fill="#000060" fill-opacity="0.35"/><circle cx="310.6" cy="498.1" r="2.1" fill="#3040ff" fill-opacity="0.3"/><circle cx="299.7" cy="530.7" r="3.1" fill="#000060" fill-opacity="0.35"/><circle cx="312.5" cy="522.6" r="2.5" fill="#3040ff" fill-opacity="0.3"/><circle cx="268.9" cy="509.2" r="2.4" fill="#000060" fill-opacity="0.35"/><circle cx="280.9" cy="498.6" r="3.3" fill="#3040ff" fill-opacity="0.3"/><circle cx="277.4" cy="503.6" r="2.9" fill="#3040ff" fill-opacity="0.3"/><circle cx="310.9" cy="508.9" r="3.8" fill="#000060" fill-opacity="0.35"/><circle cx="272.8" cy="519.0" r="3.6" fill="#000060" fill-opacity="0.35"/><circle cx="292.3" cy="528.5" r="3.3" fill="#000060" fill-opacity="0.35"/><circle cx="294.7" cy="514.1" r="3.7" fill="#3040ff" fill-opacity="0.3"/><circle cx="271.5" cy="505.9" r="2.4" fill="#000060" fill-opacity="0.35"/><circle cx="268.9" cy="505.5" r="3.4" fill="#000060" fill-opacity="0.35"/><circle cx="287.5" cy="497.4" r="2.9" fill="#000060" fill-opacity="0.35"/><circle cx="283.4" cy="500.1" r="2.0" fill="#000060" fill-opacity="0.35"/><circle cx="313.6" cy="528.0" r="3.4" fill="#000060" fill-opacity="0.35"/><circle cx="313.1" cy="519.1" r="3.0" fill="#000060" fill-opacity="0.35"/><circle cx="286.8" cy="501.1" r="2.0" fill="#3040ff" fill-opacity="0.3"/><circle cx="310.1" cy="522.9" r="3.9" fill="#3040ff" fill-opacity="0.3"/><circle cx="297.3" cy="504.1" r="2.3" fill="#000060" fill-opacity="0.35"/><circle cx="267.3" cy="529.2" r="2.6" fill="#3040ff" fill-opacity="0.3"/></g><g filter="url(#blur1)"><circle cx="271.8" cy="523.7" r="0.84" fill="#30b8a0" fill-opacity="0.67"/><circle cx="270.8" cy="531.9" r="0.83" fill="#30b8a0" fill-opacity="0.58"/><circle cx="279.9" cy="498.3" r="0.83" fill="#30b8a0" fill-opacity="0.39"/><circle cx="282.4" cy="518.9" r="0.65" fill="#30b8a0" fill-opacity="0.62"/><circle cx="293.9" cy="523.2" r="0.83" fill="#30b8a0" fill-opacity="0.57"/><circle cx="289.7" cy="516.0" r="0.56" fill="#30b8a0" fill-opacity="0.38"/><circle cx="294.7" cy="492.5" r="0.78" fill="#30b8a0" fill-opacity="0.32"/><circle cx="286.7" cy="542.3" r="0.54" fill="#30b8a0" fill-opacity="0.27"/><circle cx="286.5" cy="498.7" r="0.79" fill="#30b8a0" fill-opacity="0.25"/><circle cx="309.8" cy="535.9" r="0.81" fill="#30b8a0" fill-opacity="0.44"/><circle cx="277.4" cy="525.1" r="0.71" fill="#30b8a0" fill-opacity="0.44"/><circle cx="280.6" cy="512.6" r="0.77" fill="#30b8a0" fill-opacity="0.62"/><circle cx="278.2" cy="512.8" r="0.73" fill="#30b8a0" fill-opacity="0.41"/><circle cx="279.8" cy="513.8" r="0.89" fill="#30b8a0" fill-opacity="0.66"/><circle cx="316.8" cy="522.7" r="0.82" fill="#30b8a0" fill-opacity="0.28"/><circle cx="300.2" cy="522.1" r="0.62" fill="#30b8a0" fill-opacity="0.51"/><circle cx="316.3" cy="514.9" r="0.76" fill="#30b8a0" fill-opacity="0.38"/><circle cx="280.9" cy="537.6" r="0.51" fill="#30b8a0" fill-opacity="0.33"/><circle cx="300.4" cy="513.1" r="0.53" fill="#30b8a0" fill-opacity="0.55"/><circle cx="282.6" cy="520.5" r="0.67" fill="#30b8a0" fill-opacity="0.49"/><circle cx="293.8" cy="510.2" r="0.55" fill="#30b8a0" fill-opacity="0.33"/><circle cx="312.6" cy="518.7" r="0.54" fill="#30b8a0" fill-opacity="0.64"/><circle cx="275.7" cy="493.3" r="0.71" fill="#30b8a0" fill-opacity="0.36"/><circle cx="289.4" cy="519.0" r="0.59" fill="#30b8a0" fill-opacity="0.51"/><circle cx="267.6" cy="516.7" r="0.74" fill="#30b8a0" fill-opacity="0.29"/><circle cx="284.7" cy="492.1" r="0.68" fill="#30b8a0" fill-opacity="0.64"/><circle cx="292.9" cy="528.0" r="0.80" fill="#30b8a0" fill-opacity="0.30"/><circle cx="283.7" cy="497.6" r="0.88" fill="#30b8a0" fill-opacity="0.50"/><circle cx="305.9" cy="495.7" r="0.81" fill="#30b8a0" fill-opacity="0.28"/><circle cx="274.7" cy="508.9" r="0.51" fill="#30b8a0" fill-opacity="0.52"/><circle cx="273.4" cy="504.8" r="0.78" fill="#30b8a0" fill-opacity="0.44"/><circle cx="312.5" cy="522.8" r="0.85" fill="#30b8a0" fill-opacity="0.50"/><circle cx="270.7" cy="529.7" r="0.64" fill="#30b8a0" fill-opacity="0.59"/><circle cx="300.5" cy="534.2" r="0.55" fill="#30b8a0" fill-opacity="0.42"/><circle cx="296.0" cy="493.6" r="0.72" fill="#30b8a0" fill-opacity="0.61"/><circle cx="300.2" cy="502.3" r="0.58" fill="#30b8a0" fill-opacity="0.45"/><circle cx="309.6" cy="520.6" r="0.55" fill="#30b8a0" fill-opacity="0.26"/><circle cx="267.4" cy="532.8" r="0.57" fill="#30b8a0" fill-opacity="0.50"/><circle cx="277.8" cy="526.5" r="0.65" fill="#30b8a0" fill-opacity="0.31"/><circle cx="311.8" cy="518.2" r="0.78" fill="#30b8a0" fill-opacity="0.61"/><circle cx="280.9" cy="496.5" r="0.70" fill="#30b8a0" fill-opacity="0.64"/><circle cx="271.6" cy="533.8" r="0.77" fill="#30b8a0" fill-opacity="0.43"/><circle cx="288.6" cy="496.9" r="0.84" fill="#30b8a0" fill-opacity="0.43"/><circle cx="311.6" cy="522.2" r="0.53" fill="#30b8a0" fill-opacity="0.40"/><circle cx="273.5" cy="538.1" r="0.74" fill="#30b8a0" fill-opacity="0.27"/></g><g filter="url(#blur1)"><circle cx="265.6" cy="506.0" r="0.59" fill="#20c040" fill-opacity="0.53"/><circle cx="281.7" cy="505.5" r="0.40" fill="#20c040" fill-opacity="0.53"/><circle cx="287.0" cy="551.0" r="0.42" fill="#20c040" fill-opacity="0.36"/><circle cx="302.7" cy="499.6" r="0.51" fill="#20c040" fill-opacity="0.50"/><circle cx="272.4" cy="521.0" r="0.61" fill="#20c040" fill-opacity="0.68"/><circle cx="294.5" cy="535.5" r="0.75" fill="#20c040" fill-opacity="0.61"/><circle cx="299.8" cy="525.7" r="0.55" fill="#20c040" fill-opacity="0.41"/><circle cx="311.9" cy="542.8" r="0.78" fill="#20c040" fill-opacity="0.57"/><circle cx="275.5" cy="535.0" r="0.70" fill="#20c040" fill-opacity="0.50"/><circle cx="300.0" cy="505.2" r="0.62" fill="#20c040" fill-opacity="0.46"/><circle cx="257.5" cy="504.3" r="0.53" fill="#20c040" fill-opacity="0.70"/><circle cx="288.6" cy="506.4" r="0.50" fill="#20c040" fill-opacity="0.39"/><circle cx="278.8" cy="489.8" r="0.40" fill="#20c040" fill-opacity="0.65"/><circle cx="286.5" cy="512.1" r="0.63" fill="#20c040" fill-opacity="0.42"/></g><g filter="url(#blur1)"><circle cx="278.5" cy="505.3" r="1.14" fill="#ff1a80" fill-opacity="0.75"/><circle cx="315.4" cy="507.1" r="1.25" fill="#ff1a80" fill-opacity="0.76"/><circle cx="294.7" cy="543.3" r="0.91" fill="#ff1a80" fill-opacity="0.85"/><circle cx="285.8" cy="536.6" r="0.74" fill="#ff1a80" fill-opacity="0.72"/><circle cx="313.1" cy="503.4" r="0.85" fill="#ff1a80" fill-opacity="0.51"/><circle cx="270.5" cy="503.0" r="1.12" fill="#ff1a80" fill-opacity="0.60"/><circle cx="284.2" cy="499.2" r="1.06" fill="#ff1a80" fill-opacity="0.89"/><circle cx="298.6" cy="499.0" r="1.14" fill="#ff1a80" fill-opacity="0.93"/><circle cx="295.9" cy="492.4" r="1.19" fill="#ff1a80" fill-opacity="0.89"/><circle cx="280.8" cy="495.7" r="0.81" fill="#ff1a80" fill-opacity="0.74"/><circle cx="311.8" cy="523.8" r="1.25" fill="#ff1a80" fill-opacity="0.60"/><circle cx="280.0" cy="530.0" r="1.09" fill="#ff1a80" fill-opacity="0.68"/><circle cx="300.4" cy="506.9" r="0.73" fill="#ff1a80" fill-opacity="0.69"/><circle cx="263.6" cy="523.1" r="0.90" fill="#ff1a80" fill-opacity="0.72"/><circle cx="295.7" cy="502.4" r="0.98" fill="#ff1a80" fill-opacity="0.51"/><circle cx="314.7" cy="519.6" r="1.29" fill="#ff1a80" fill-opacity="0.53"/><circle cx="296.6" cy="528.6" r="0.90" fill="#ff1a80" fill-opacity="0.54"/><circle cx="270.1" cy="496.0" r="1.16" fill="#ff1a80" fill-opacity="0.54"/><circle cx="308.2" cy="511.7" r="1.02" fill="#ff1a80" fill-opacity="0.76"/><circle cx="293.2" cy="524.8" r="1.06" fill="#ff1a80" fill-opacity="0.65"/><circle cx="304.0" cy="502.4" r="1.13" fill="#ff1a80" fill-opacity="0.84"/><circle cx="306.0" cy="505.3" r="1.16" fill="#ff1a80" fill-opacity="0.94"/><circle cx="287.3" cy="503.6" r="1.01" fill="#ff1a80" fill-opacity="0.92"/><circle cx="288.6" cy="524.7" r="1.16" fill="#ff1a80" fill-opacity="0.66"/><circle cx="304.9" cy="493.0" r="0.72" fill="#ff1a80" fill-opacity="0.56"/><circle cx="264.5" cy="516.1" r="1.03" fill="#ff1a80" fill-opacity="0.58"/><circle cx="315.5" cy="508.5" r="0.79" fill="#ff1a80" fill-opacity="0.58"/><circle cx="303.8" cy="539.6" r="0.80" fill="#ff1a80" fill-opacity="0.51"/><circle cx="306.1" cy="501.6" r="1.29" fill="#ff1a80" fill-opacity="0.72"/><circle cx="297.9" cy="507.3" r="1.18" fill="#ff1a80" fill-opacity="0.71"/><circle cx="279.8" cy="538.6" r="0.76" fill="#ff1a80" fill-opacity="0.83"/><circle cx="264.8" cy="524.1" r="0.94" fill="#ff1a80" fill-opacity="0.89"/><circle cx="264.5" cy="519.6" r="0.95" fill="#ff1a80" fill-opacity="0.91"/><circle cx="315.8" cy="523.1" r="0.83" fill="#ff1a80" fill-opacity="0.61"/><circle cx="276.2" cy="512.3" r="0.84" fill="#ff1a80" fill-opacity="0.59"/><circle cx="305.0" cy="524.0" r="0.88" fill="#ff1a80" fill-opacity="0.95"/><circle cx="273.6" cy="519.9" r="0.79" fill="#ff1a80" fill-opacity="0.89"/><circle cx="311.4" cy="503.0" r="1.15" fill="#ff1a80" fill-opacity="0.87"/><circle cx="277.4" cy="506.6" r="0.99" fill="#ff1a80" fill-opacity="0.90"/><circle cx="270.4" cy="526.2" r="1.06" fill="#ff1a80" fill-opacity="0.70"/><circle cx="294.6" cy="537.4" r="0.83" fill="#ff1a80" fill-opacity="0.90"/><circle cx="281.9" cy="531.7" r="1.22" fill="#ff1a80" fill-opacity="0.58"/><circle cx="269.7" cy="529.2" r="0.76" fill="#ff1a80" fill-opacity="0.58"/><circle cx="300.6" cy="493.1" r="0.90" fill="#ff1a80" fill-opacity="0.91"/><circle cx="302.5" cy="537.4" r="1.29" fill="#ff1a80" fill-opacity="0.51"/><circle cx="274.6" cy="532.4" r="1.11" fill="#ff1a80" fill-opacity="0.52"/><circle cx="290.3" cy="501.0" r="0.96" fill="#ff1a80" fill-opacity="0.55"/><circle cx="279.4" cy="537.2" r="0.77" fill="#ff1a80" fill-opacity="0.72"/><circle cx="268.9" cy="512.0" r="0.81" fill="#ff1a80" fill-opacity="0.81"/><circle cx="269.6" cy="529.3" r="1.00" fill="#ff1a80" fill-opacity="0.55"/><circle cx="281.5" cy="515.8" r="1.25" fill="#ff1a80" fill-opacity="0.66"/><circle cx="312.2" cy="529.0" r="0.86" fill="#ff1a80" fill-opacity="0.58"/><circle cx="276.3" cy="491.9" r="0.73" fill="#ff1a80" fill-opacity="0.73"/><circle cx="284.7" cy="519.2" r="0.92" fill="#ff1a80" fill-opacity="0.50"/><circle cx="300.9" cy="524.6" r="1.03" fill="#ff1a80" fill-opacity="0.75"/><circle cx="311.7" cy="528.2" r="0.94" fill="#ff1a80" fill-opacity="0.64"/><circle cx="285.3" cy="542.5" r="0.93" fill="#ff1a80" fill-opacity="0.67"/><circle cx="284.8" cy="496.0" r="1.30" fill="#ff1a80" fill-opacity="0.50"/><circle cx="296.3" cy="539.9" r="0.85" fill="#ff1a80" fill-opacity="0.77"/><circle cx="282.9" cy="501.5" r="0.82" fill="#ff1a80" fill-opacity="0.55"/></g><path d="M299.0,518.8 L303.5,519.9 L301.6,516.1" fill="none" stroke="#fff" stroke-width="1.35" stroke-linejoin="round" stroke-linecap="round"/><path d="M279.9,532.2 L284.4,533.3 L282.5,529.5" fill="none" stroke="#fff" stroke-width="1.35" stroke-linejoin="round" stroke-linecap="round"/><path d="M289.1,530.5 L293.6,531.6 L291.7,527.8" fill="none" stroke="#fff" stroke-width="1.35" stroke-linejoin="round" stroke-linecap="round"/></g><line x1="301.1" y1="553.1999999999999" x2="325.5" y2="553.1999999999999" stroke="#fff" stroke-width="1.5"/><text x="303.70000000000005" y="561.8" font-size="9" font-weight="bold" fill="#fff">5µm</text></g>
<g clip-path="url(#cp01)"><rect x="329.3" y="320.5" width="69.80000000000001" height="76.39999999999998" fill="#030707"/><g filter="url(#blur1)"><circle cx="390.7" cy="381.1" r="0.86" fill="#10a8a8" fill-opacity="0.16"/><circle cx="379.5" cy="346.3" r="0.76" fill="#10a8a8" fill-opacity="0.31"/><circle cx="391.4" cy="360.4" r="0.74" fill="#10a8a8" fill-opacity="0.45"/><circle cx="345.1" cy="369.4" r="0.80" fill="#10a8a8" fill-opacity="0.26"/><circle cx="380.9" cy="351.6" r="0.71" fill="#10a8a8" fill-opacity="0.33"/><circle cx="378.3" cy="346.2" r="0.75" fill="#10a8a8" fill-opacity="0.31"/><circle cx="344.3" cy="368.1" r="0.61" fill="#10a8a8" fill-opacity="0.42"/><circle cx="363.0" cy="376.4" r="0.71" fill="#10a8a8" fill-opacity="0.29"/><circle cx="344.1" cy="332.5" r="0.87" fill="#10a8a8" fill-opacity="0.31"/><circle cx="366.8" cy="361.7" r="0.83" fill="#10a8a8" fill-opacity="0.22"/><circle cx="340.5" cy="383.9" r="0.68" fill="#10a8a8" fill-opacity="0.34"/><circle cx="356.1" cy="384.7" r="0.83" fill="#10a8a8" fill-opacity="0.19"/><circle cx="339.1" cy="340.8" r="0.54" fill="#10a8a8" fill-opacity="0.26"/><circle cx="387.7" cy="361.2" r="0.68" fill="#10a8a8" fill-opacity="0.18"/><circle cx="379.6" cy="355.8" r="0.69" fill="#10a8a8" fill-opacity="0.39"/><circle cx="384.4" cy="333.1" r="0.77" fill="#10a8a8" fill-opacity="0.26"/><circle cx="366.5" cy="339.8" r="0.65" fill="#10a8a8" fill-opacity="0.25"/><circle cx="356.1" cy="323.1" r="0.58" fill="#10a8a8" fill-opacity="0.32"/><circle cx="381.3" cy="342.6" r="0.63" fill="#10a8a8" fill-opacity="0.22"/><circle cx="375.2" cy="386.7" r="0.58" fill="#10a8a8" fill-opacity="0.28"/><circle cx="386.9" cy="368.5" r="0.65" fill="#10a8a8" fill-opacity="0.16"/><circle cx="360.7" cy="349.6" r="0.79" fill="#10a8a8" fill-opacity="0.24"/><circle cx="358.1" cy="370.8" r="0.82" fill="#10a8a8" fill-opacity="0.26"/><circle cx="356.4" cy="365.5" r="0.87" fill="#10a8a8" fill-opacity="0.21"/><circle cx="355.5" cy="372.1" r="0.63" fill="#10a8a8" fill-opacity="0.17"/><circle cx="384.2" cy="350.5" r="0.71" fill="#10a8a8" fill-opacity="0.30"/><circle cx="395.0" cy="379.0" r="0.51" fill="#10a8a8" fill-opacity="0.33"/><circle cx="362.2" cy="356.7" r="0.84" fill="#10a8a8" fill-opacity="0.27"/><circle cx="363.0" cy="389.1" r="0.68" fill="#10a8a8" fill-opacity="0.30"/><circle cx="365.9" cy="384.1" r="0.77" fill="#10a8a8" fill-opacity="0.37"/><circle cx="357.6" cy="324.9" r="0.77" fill="#10a8a8" fill-opacity="0.32"/><circle cx="385.1" cy="380.0" r="0.55" fill="#10a8a8" fill-opacity="0.22"/><circle cx="383.9" cy="364.5" r="0.52" fill="#10a8a8" fill-opacity="0.35"/><circle cx="380.8" cy="358.3" r="0.52" fill="#10a8a8" fill-opacity="0.36"/><circle cx="358.9" cy="365.9" r="0.90" fill="#10a8a8" fill-opacity="0.40"/><circle cx="352.6" cy="361.0" r="0.50" fill="#10a8a8" fill-opacity="0.45"/><circle cx="348.1" cy="341.6" r="0.63" fill="#10a8a8" fill-opacity="0.23"/><circle cx="391.8" cy="363.8" r="0.70" fill="#10a8a8" fill-opacity="0.28"/><circle cx="331.4" cy="344.8" r="0.85" fill="#10a8a8" fill-opacity="0.39"/><circle cx="391.7" cy="341.2" r="0.58" fill="#10a8a8" fill-opacity="0.17"/><circle cx="367.8" cy="350.1" r="0.69" fill="#10a8a8" fill-opacity="0.30"/><circle cx="371.3" cy="349.4" r="0.82" fill="#10a8a8" fill-opacity="0.21"/><circle cx="396.4" cy="363.8" r="0.52" fill="#10a8a8" fill-opacity="0.24"/><circle cx="367.5" cy="352.7" r="0.73" fill="#10a8a8" fill-opacity="0.25"/><circle cx="348.1" cy="382.0" r="0.62" fill="#10a8a8" fill-opacity="0.36"/><circle cx="387.6" cy="366.6" r="0.68" fill="#10a8a8" fill-opacity="0.43"/><circle cx="360.9" cy="388.2" r="0.52" fill="#10a8a8" fill-opacity="0.28"/><circle cx="375.4" cy="325.5" r="0.85" fill="#10a8a8" fill-opacity="0.17"/><circle cx="372.2" cy="335.4" r="0.87" fill="#10a8a8" fill-opacity="0.32"/><circle cx="387.5" cy="359.5" r="0.77" fill="#10a8a8" fill-opacity="0.35"/><circle cx="349.7" cy="337.8" r="0.84" fill="#10a8a8" fill-opacity="0.19"/><circle cx="358.6" cy="371.6" r="0.60" fill="#10a8a8" fill-opacity="0.42"/><circle cx="378.9" cy="333.5" r="0.52" fill="#10a8a8" fill-opacity="0.36"/><circle cx="349.6" cy="339.4" r="0.73" fill="#10a8a8" fill-opacity="0.25"/><circle cx="369.5" cy="333.4" r="0.86" fill="#10a8a8" fill-opacity="0.25"/><circle cx="390.5" cy="333.3" r="0.82" fill="#10a8a8" fill-opacity="0.44"/><circle cx="356.9" cy="324.3" r="0.65" fill="#10a8a8" fill-opacity="0.34"/><circle cx="344.3" cy="363.1" r="0.54" fill="#10a8a8" fill-opacity="0.29"/><circle cx="382.1" cy="354.3" r="0.77" fill="#10a8a8" fill-opacity="0.18"/><circle cx="397.9" cy="361.6" r="0.62" fill="#10a8a8" fill-opacity="0.25"/><circle cx="383.7" cy="359.3" r="0.87" fill="#10a8a8" fill-opacity="0.18"/><circle cx="363.9" cy="387.1" r="0.74" fill="#10a8a8" fill-opacity="0.31"/><circle cx="347.9" cy="389.3" r="0.84" fill="#10a8a8" fill-opacity="0.22"/><circle cx="372.4" cy="394.9" r="0.64" fill="#10a8a8" fill-opacity="0.43"/><circle cx="376.7" cy="325.6" r="0.63" fill="#10a8a8" fill-opacity="0.28"/><circle cx="346.1" cy="377.9" r="0.57" fill="#10a8a8" fill-opacity="0.39"/><circle cx="349.9" cy="327.0" r="0.72" fill="#10a8a8" fill-opacity="0.18"/><circle cx="368.9" cy="381.4" r="0.74" fill="#10a8a8" fill-opacity="0.29"/><circle cx="330.1" cy="360.6" r="0.54" fill="#10a8a8" fill-opacity="0.34"/><circle cx="337.5" cy="365.5" r="0.64" fill="#10a8a8" fill-opacity="0.26"/><circle cx="377.2" cy="334.2" r="0.57" fill="#10a8a8" fill-opacity="0.43"/><circle cx="352.4" cy="385.5" r="0.85" fill="#10a8a8" fill-opacity="0.29"/><circle cx="364.7" cy="362.3" r="0.55" fill="#10a8a8" fill-opacity="0.29"/><circle cx="339.9" cy="362.3" r="0.70" fill="#10a8a8" fill-opacity="0.26"/><circle cx="342.4" cy="352.3" r="0.58" fill="#10a8a8" fill-opacity="0.19"/><circle cx="345.5" cy="387.7" r="0.70" fill="#10a8a8" fill-opacity="0.42"/><circle cx="364.1" cy="381.6" r="0.73" fill="#10a8a8" fill-opacity="0.36"/><circle cx="344.7" cy="378.5" r="0.56" fill="#10a8a8" fill-opacity="0.23"/><circle cx="329.9" cy="351.5" r="0.71" fill="#10a8a8" fill-opacity="0.24"/><circle cx="370.9" cy="339.5" r="0.74" fill="#10a8a8" fill-opacity="0.39"/><circle cx="380.8" cy="326.5" r="0.60" fill="#10a8a8" fill-opacity="0.33"/><circle cx="373.8" cy="374.1" r="0.83" fill="#10a8a8" fill-opacity="0.25"/><circle cx="388.2" cy="356.7" r="0.87" fill="#10a8a8" fill-opacity="0.15"/><circle cx="397.9" cy="352.9" r="0.66" fill="#10a8a8" fill-opacity="0.18"/><circle cx="345.9" cy="377.3" r="0.77" fill="#10a8a8" fill-opacity="0.20"/><circle cx="353.4" cy="332.4" r="0.58" fill="#10a8a8" fill-opacity="0.22"/><circle cx="363.5" cy="359.4" r="0.81" fill="#10a8a8" fill-opacity="0.42"/><circle cx="383.8" cy="369.9" r="0.58" fill="#10a8a8" fill-opacity="0.34"/><circle cx="390.9" cy="381.3" r="0.54" fill="#10a8a8" fill-opacity="0.37"/><circle cx="353.7" cy="334.1" r="0.89" fill="#10a8a8" fill-opacity="0.35"/><circle cx="383.4" cy="332.0" r="0.83" fill="#10a8a8" fill-opacity="0.43"/><circle cx="395.3" cy="378.1" r="0.83" fill="#10a8a8" fill-opacity="0.39"/><circle cx="371.8" cy="354.7" r="0.83" fill="#10a8a8" fill-opacity="0.39"/><circle cx="392.7" cy="344.4" r="0.88" fill="#10a8a8" fill-opacity="0.31"/><circle cx="346.4" cy="385.2" r="0.59" fill="#10a8a8" fill-opacity="0.21"/><circle cx="361.9" cy="339.7" r="0.70" fill="#10a8a8" fill-opacity="0.42"/><circle cx="378.9" cy="375.5" r="0.66" fill="#10a8a8" fill-opacity="0.39"/><circle cx="387.0" cy="373.4" r="0.88" fill="#10a8a8" fill-opacity="0.40"/><circle cx="358.0" cy="328.4" r="0.76" fill="#10a8a8" fill-opacity="0.40"/><circle cx="353.0" cy="366.8" r="0.83" fill="#10a8a8" fill-opacity="0.39"/><circle cx="327.9" cy="358.8" r="0.51" fill="#10a8a8" fill-opacity="0.18"/><circle cx="388.4" cy="353.5" r="0.74" fill="#10a8a8" fill-opacity="0.29"/><circle cx="352.7" cy="338.0" r="0.64" fill="#10a8a8" fill-opacity="0.40"/><circle cx="373.9" cy="343.9" r="0.54" fill="#10a8a8" fill-opacity="0.23"/><circle cx="380.0" cy="355.2" r="0.76" fill="#10a8a8" fill-opacity="0.39"/><circle cx="336.6" cy="373.4" r="0.52" fill="#10a8a8" fill-opacity="0.40"/><circle cx="341.4" cy="342.3" r="0.88" fill="#10a8a8" fill-opacity="0.26"/><circle cx="344.4" cy="389.1" r="0.74" fill="#10a8a8" fill-opacity="0.42"/><circle cx="357.1" cy="359.6" r="0.88" fill="#10a8a8" fill-opacity="0.30"/><circle cx="389.7" cy="334.1" r="0.71" fill="#10a8a8" fill-opacity="0.15"/><circle cx="361.6" cy="383.0" r="0.60" fill="#10a8a8" fill-opacity="0.26"/><circle cx="335.1" cy="363.6" r="0.84" fill="#10a8a8" fill-opacity="0.30"/><circle cx="355.8" cy="392.0" r="0.86" fill="#10a8a8" fill-opacity="0.35"/><circle cx="333.3" cy="369.0" r="0.68" fill="#10a8a8" fill-opacity="0.44"/><circle cx="354.7" cy="371.8" r="0.75" fill="#10a8a8" fill-opacity="0.26"/><circle cx="366.7" cy="372.9" r="0.86" fill="#10a8a8" fill-opacity="0.30"/><circle cx="354.8" cy="395.6" r="0.52" fill="#10a8a8" fill-opacity="0.40"/><circle cx="378.7" cy="363.9" r="0.68" fill="#10a8a8" fill-opacity="0.38"/><circle cx="394.3" cy="376.9" r="0.80" fill="#10a8a8" fill-opacity="0.16"/><circle cx="351.9" cy="332.2" r="0.88" fill="#10a8a8" fill-opacity="0.42"/><circle cx="338.4" cy="366.2" r="0.73" fill="#10a8a8" fill-opacity="0.16"/><circle cx="356.9" cy="378.3" r="0.76" fill="#10a8a8" fill-opacity="0.23"/><circle cx="384.6" cy="343.8" r="0.72" fill="#10a8a8" fill-opacity="0.28"/><circle cx="387.8" cy="372.9" r="0.65" fill="#10a8a8" fill-opacity="0.44"/><circle cx="380.7" cy="374.0" r="0.61" fill="#10a8a8" fill-opacity="0.20"/><circle cx="370.6" cy="384.2" r="0.82" fill="#10a8a8" fill-opacity="0.25"/><circle cx="338.1" cy="360.8" r="0.85" fill="#10a8a8" fill-opacity="0.20"/><circle cx="382.8" cy="334.7" r="0.62" fill="#10a8a8" fill-opacity="0.17"/><circle cx="349.9" cy="350.8" r="0.89" fill="#10a8a8" fill-opacity="0.44"/><circle cx="341.6" cy="345.2" r="0.88" fill="#10a8a8" fill-opacity="0.21"/><circle cx="351.6" cy="354.9" r="0.54" fill="#10a8a8" fill-opacity="0.23"/><circle cx="357.1" cy="350.9" r="0.89" fill="#10a8a8" fill-opacity="0.23"/><circle cx="361.3" cy="385.1" r="0.75" fill="#10a8a8" fill-opacity="0.38"/><circle cx="351.1" cy="333.3" r="0.80" fill="#10a8a8" fill-opacity="0.29"/><circle cx="369.4" cy="372.5" r="0.80" fill="#10a8a8" fill-opacity="0.23"/><circle cx="354.7" cy="391.2" r="0.71" fill="#10a8a8" fill-opacity="0.24"/><circle cx="374.7" cy="341.4" r="0.81" fill="#10a8a8" fill-opacity="0.16"/><circle cx="389.4" cy="364.6" r="0.64" fill="#10a8a8" fill-opacity="0.43"/><circle cx="347.5" cy="340.2" r="0.53" fill="#10a8a8" fill-opacity="0.31"/><circle cx="384.0" cy="373.1" r="0.67" fill="#10a8a8" fill-opacity="0.39"/><circle cx="335.9" cy="345.0" r="0.76" fill="#10a8a8" fill-opacity="0.44"/><circle cx="375.0" cy="374.1" r="0.81" fill="#10a8a8" fill-opacity="0.27"/><circle cx="353.2" cy="351.5" r="0.82" fill="#10a8a8" fill-opacity="0.25"/><circle cx="341.5" cy="387.7" r="0.71" fill="#10a8a8" fill-opacity="0.31"/><circle cx="377.7" cy="390.0" r="0.55" fill="#10a8a8" fill-opacity="0.25"/><circle cx="332.5" cy="353.0" r="0.70" fill="#10a8a8" fill-opacity="0.41"/><circle cx="377.6" cy="365.5" r="0.66" fill="#10a8a8" fill-opacity="0.32"/><circle cx="348.1" cy="385.7" r="0.82" fill="#10a8a8" fill-opacity="0.40"/><circle cx="338.9" cy="372.6" r="0.80" fill="#10a8a8" fill-opacity="0.30"/><circle cx="383.2" cy="383.9" r="0.76" fill="#10a8a8" fill-opacity="0.41"/><circle cx="337.4" cy="375.0" r="0.78" fill="#10a8a8" fill-opacity="0.33"/><circle cx="348.2" cy="326.9" r="0.74" fill="#10a8a8" fill-opacity="0.40"/><circle cx="348.0" cy="337.9" r="0.59" fill="#10a8a8" fill-opacity="0.18"/><circle cx="387.6" cy="349.0" r="0.78" fill="#10a8a8" fill-opacity="0.17"/><circle cx="390.3" cy="346.4" r="0.50" fill="#10a8a8" fill-opacity="0.34"/><circle cx="338.0" cy="342.6" r="0.52" fill="#10a8a8" fill-opacity="0.28"/><circle cx="369.1" cy="382.8" r="0.52" fill="#10a8a8" fill-opacity="0.40"/><circle cx="335.9" cy="338.8" r="0.75" fill="#10a8a8" fill-opacity="0.25"/><circle cx="352.4" cy="364.8" r="0.59" fill="#10a8a8" fill-opacity="0.39"/><circle cx="343.2" cy="385.3" r="0.82" fill="#10a8a8" fill-opacity="0.31"/></g><g filter="url(#blur1)"><circle cx="332.9" cy="359.9" r="0.93" fill="#20d4d4" fill-opacity="0.57"/><circle cx="373.8" cy="375.8" r="0.98" fill="#20d4d4" fill-opacity="0.69"/><circle cx="365.8" cy="366.0" r="0.87" fill="#20d4d4" fill-opacity="0.85"/><circle cx="396.4" cy="347.3" r="1.10" fill="#20d4d4" fill-opacity="0.57"/><circle cx="363.5" cy="333.2" r="0.94" fill="#20d4d4" fill-opacity="0.79"/><circle cx="379.2" cy="356.3" r="0.90" fill="#20d4d4" fill-opacity="0.62"/><circle cx="358.4" cy="343.9" r="0.86" fill="#20d4d4" fill-opacity="0.81"/><circle cx="366.1" cy="355.2" r="0.86" fill="#20d4d4" fill-opacity="0.80"/><circle cx="344.4" cy="342.7" r="0.97" fill="#20d4d4" fill-opacity="0.80"/><circle cx="380.1" cy="375.4" r="0.82" fill="#20d4d4" fill-opacity="0.62"/><circle cx="380.1" cy="369.0" r="0.88" fill="#20d4d4" fill-opacity="0.67"/><circle cx="342.1" cy="369.1" r="1.10" fill="#20d4d4" fill-opacity="0.66"/><circle cx="355.2" cy="388.3" r="1.04" fill="#20d4d4" fill-opacity="0.71"/><circle cx="341.5" cy="379.6" r="0.94" fill="#20d4d4" fill-opacity="0.90"/><circle cx="363.4" cy="382.8" r="0.84" fill="#20d4d4" fill-opacity="0.59"/><circle cx="369.3" cy="360.2" r="0.86" fill="#20d4d4" fill-opacity="0.64"/></g><ellipse cx="365.0" cy="359.6" rx="34.0" ry="36.0" fill="none" stroke="#d0d0d0" stroke-width="0.8" stroke-dasharray="3.5 2.5"/><path d="M348.3,347.3 L352.8,348.4 L350.9,344.6" fill="none" stroke="#fff" stroke-width="1.35" stroke-linejoin="round" stroke-linecap="round"/><path d="M346.5,351.4 L351.0,352.5 L349.1,348.7" fill="none" stroke="#fff" stroke-width="1.35" stroke-linejoin="round" stroke-linecap="round"/><path d="M375.4,351.6 L379.9,352.7 L378.0,348.9" fill="none" stroke="#fff" stroke-width="1.35" stroke-linejoin="round" stroke-linecap="round"/><path d="M376.4,359.2 L380.9,360.3 L379.0,356.5" fill="none" stroke="#fff" stroke-width="1.35" stroke-linejoin="round" stroke-linecap="round"/><line x1="331.3" y1="323.1" x2="351.3" y2="323.1" stroke="#fff" stroke-width="1.5"/><text x="332.3" y="331.70000000000005" font-size="9" font-weight="bold" fill="#fff">5µm</text></g>
<g clip-path="url(#cp11)"><rect x="329.3" y="401.2" width="69.80000000000001" height="75.60000000000002" fill="#170506"/><g filter="url(#blur1)"><circle cx="381.0" cy="474.0" r="0.89" fill="#a01010" fill-opacity="0.43"/><circle cx="382.7" cy="431.5" r="0.82" fill="#a01010" fill-opacity="0.55"/><circle cx="343.2" cy="446.8" r="0.65" fill="#a01010" fill-opacity="0.30"/><circle cx="390.2" cy="461.9" r="0.69" fill="#a01010" fill-opacity="0.31"/><circle cx="394.6" cy="442.9" r="0.53" fill="#a01010" fill-opacity="0.40"/><circle cx="374.5" cy="469.4" r="0.69" fill="#a01010" fill-opacity="0.49"/><circle cx="342.6" cy="420.9" r="0.86" fill="#a01010" fill-opacity="0.41"/><circle cx="334.8" cy="447.2" r="0.55" fill="#a01010" fill-opacity="0.36"/><circle cx="361.7" cy="446.8" r="0.75" fill="#a01010" fill-opacity="0.51"/><circle cx="360.4" cy="407.6" r="0.79" fill="#a01010" fill-opacity="0.32"/><circle cx="362.8" cy="432.8" r="0.77" fill="#a01010" fill-opacity="0.51"/><circle cx="345.2" cy="451.6" r="0.78" fill="#a01010" fill-opacity="0.44"/><circle cx="372.5" cy="407.2" r="0.60" fill="#a01010" fill-opacity="0.60"/><circle cx="344.3" cy="432.2" r="0.82" fill="#a01010" fill-opacity="0.55"/><circle cx="375.2" cy="458.6" r="0.52" fill="#a01010" fill-opacity="0.33"/><circle cx="343.6" cy="453.3" r="0.87" fill="#a01010" fill-opacity="0.49"/><circle cx="396.9" cy="422.4" r="0.56" fill="#a01010" fill-opacity="0.31"/><circle cx="384.6" cy="410.3" r="0.89" fill="#a01010" fill-opacity="0.51"/><circle cx="341.2" cy="463.5" r="0.57" fill="#a01010" fill-opacity="0.45"/><circle cx="335.0" cy="462.0" r="0.86" fill="#a01010" fill-opacity="0.57"/><circle cx="369.3" cy="464.6" r="0.70" fill="#a01010" fill-opacity="0.49"/><circle cx="372.2" cy="462.9" r="0.53" fill="#a01010" fill-opacity="0.32"/><circle cx="368.5" cy="424.5" r="0.66" fill="#a01010" fill-opacity="0.30"/><circle cx="390.1" cy="463.9" r="0.68" fill="#a01010" fill-opacity="0.34"/><circle cx="376.4" cy="418.2" r="0.67" fill="#a01010" fill-opacity="0.33"/><circle cx="401.3" cy="443.8" r="0.64" fill="#a01010" fill-opacity="0.33"/><circle cx="382.5" cy="466.7" r="0.84" fill="#a01010" fill-opacity="0.33"/><circle cx="354.9" cy="425.4" r="0.80" fill="#a01010" fill-opacity="0.34"/><circle cx="373.1" cy="476.5" r="0.81" fill="#a01010" fill-opacity="0.30"/><circle cx="379.7" cy="447.8" r="0.71" fill="#a01010" fill-opacity="0.44"/><circle cx="357.9" cy="448.7" r="0.76" fill="#a01010" fill-opacity="0.57"/><circle cx="382.7" cy="462.7" r="0.87" fill="#a01010" fill-opacity="0.55"/><circle cx="378.8" cy="466.8" r="0.67" fill="#a01010" fill-opacity="0.56"/><circle cx="360.6" cy="455.9" r="0.60" fill="#a01010" fill-opacity="0.39"/><circle cx="353.5" cy="427.0" r="0.54" fill="#a01010" fill-opacity="0.43"/><circle cx="384.2" cy="423.2" r="0.60" fill="#a01010" fill-opacity="0.42"/><circle cx="352.0" cy="460.7" r="0.81" fill="#a01010" fill-opacity="0.57"/><circle cx="387.4" cy="442.7" r="0.54" fill="#a01010" fill-opacity="0.55"/><circle cx="350.8" cy="449.9" r="0.65" fill="#a01010" fill-opacity="0.46"/><circle cx="367.4" cy="451.6" r="0.72" fill="#a01010" fill-opacity="0.58"/><circle cx="358.0" cy="471.6" r="0.78" fill="#a01010" fill-opacity="0.59"/><circle cx="348.8" cy="471.0" r="0.51" fill="#a01010" fill-opacity="0.38"/><circle cx="340.3" cy="435.6" r="0.77" fill="#a01010" fill-opacity="0.51"/><circle cx="383.7" cy="459.4" r="0.60" fill="#a01010" fill-opacity="0.38"/><circle cx="342.9" cy="422.1" r="0.89" fill="#a01010" fill-opacity="0.49"/><circle cx="371.9" cy="452.1" r="0.74" fill="#a01010" fill-opacity="0.51"/><circle cx="350.1" cy="407.3" r="0.53" fill="#a01010" fill-opacity="0.30"/><circle cx="354.5" cy="413.3" r="0.55" fill="#a01010" fill-opacity="0.45"/><circle cx="347.7" cy="460.7" r="0.57" fill="#a01010" fill-opacity="0.33"/><circle cx="350.0" cy="433.4" r="0.78" fill="#a01010" fill-opacity="0.43"/><circle cx="382.4" cy="409.7" r="0.87" fill="#a01010" fill-opacity="0.40"/><circle cx="390.0" cy="419.6" r="0.84" fill="#a01010" fill-opacity="0.54"/><circle cx="378.0" cy="423.5" r="0.50" fill="#a01010" fill-opacity="0.36"/><circle cx="377.1" cy="446.9" r="0.76" fill="#a01010" fill-opacity="0.35"/><circle cx="401.8" cy="431.5" r="0.76" fill="#a01010" fill-opacity="0.47"/><circle cx="354.6" cy="457.1" r="0.56" fill="#a01010" fill-opacity="0.54"/><circle cx="346.1" cy="430.2" r="0.71" fill="#a01010" fill-opacity="0.33"/><circle cx="345.8" cy="462.7" r="0.61" fill="#a01010" fill-opacity="0.41"/><circle cx="385.2" cy="419.4" r="0.58" fill="#a01010" fill-opacity="0.37"/><circle cx="356.2" cy="430.1" r="0.76" fill="#a01010" fill-opacity="0.44"/><circle cx="377.5" cy="465.7" r="0.59" fill="#a01010" fill-opacity="0.31"/><circle cx="360.3" cy="411.3" r="0.68" fill="#a01010" fill-opacity="0.51"/><circle cx="363.4" cy="415.6" r="0.59" fill="#a01010" fill-opacity="0.43"/><circle cx="354.4" cy="438.0" r="0.87" fill="#a01010" fill-opacity="0.47"/><circle cx="383.6" cy="445.1" r="0.85" fill="#a01010" fill-opacity="0.59"/><circle cx="398.8" cy="442.2" r="0.60" fill="#a01010" fill-opacity="0.35"/><circle cx="392.8" cy="418.6" r="0.53" fill="#a01010" fill-opacity="0.38"/><circle cx="397.3" cy="437.3" r="0.79" fill="#a01010" fill-opacity="0.32"/><circle cx="361.4" cy="426.5" r="0.58" fill="#a01010" fill-opacity="0.50"/><circle cx="354.4" cy="411.5" r="0.89" fill="#a01010" fill-opacity="0.44"/><circle cx="376.7" cy="441.4" r="0.51" fill="#a01010" fill-opacity="0.44"/><circle cx="383.3" cy="443.1" r="0.59" fill="#a01010" fill-opacity="0.45"/><circle cx="373.0" cy="451.7" r="0.56" fill="#a01010" fill-opacity="0.54"/><circle cx="392.2" cy="430.3" r="0.86" fill="#a01010" fill-opacity="0.35"/><circle cx="344.2" cy="447.7" r="0.86" fill="#a01010" fill-opacity="0.32"/><circle cx="360.4" cy="413.1" r="0.58" fill="#a01010" fill-opacity="0.52"/><circle cx="371.3" cy="473.5" r="0.66" fill="#a01010" fill-opacity="0.50"/><circle cx="344.7" cy="438.6" r="0.70" fill="#a01010" fill-opacity="0.58"/><circle cx="364.4" cy="477.5" r="0.75" fill="#a01010" fill-opacity="0.36"/><circle cx="390.4" cy="417.8" r="0.90" fill="#a01010" fill-opacity="0.44"/></g><g filter="url(#blur1)"><circle cx="351.4" cy="433.3" r="0.91" fill="#ff1818" fill-opacity="0.82"/><circle cx="328.7" cy="430.8" r="0.80" fill="#ff1818" fill-opacity="0.91"/><circle cx="346.6" cy="436.8" r="1.04" fill="#ff1818" fill-opacity="0.84"/><circle cx="337.4" cy="420.7" r="0.77" fill="#ff1818" fill-opacity="0.98"/><circle cx="366.7" cy="446.5" r="1.23" fill="#ff1818" fill-opacity="0.48"/><circle cx="344.8" cy="415.2" r="1.05" fill="#ff1818" fill-opacity="0.70"/><circle cx="358.1" cy="469.7" r="1.10" fill="#ff1818" fill-opacity="0.92"/><circle cx="398.7" cy="433.3" r="0.73" fill="#ff1818" fill-opacity="0.95"/><circle cx="349.0" cy="424.3" r="1.28" fill="#ff1818" fill-opacity="0.93"/><circle cx="358.9" cy="442.5" r="1.21" fill="#ff1818" fill-opacity="0.89"/><circle cx="376.7" cy="441.3" r="0.77" fill="#ff1818" fill-opacity="0.58"/><circle cx="377.0" cy="446.8" r="1.18" fill="#ff1818" fill-opacity="0.94"/><circle cx="370.4" cy="416.2" r="1.12" fill="#ff1818" fill-opacity="0.59"/><circle cx="344.9" cy="430.2" r="1.01" fill="#ff1818" fill-opacity="0.82"/><circle cx="332.5" cy="458.5" r="1.07" fill="#ff1818" fill-opacity="0.71"/><circle cx="378.1" cy="462.9" r="0.71" fill="#ff1818" fill-opacity="0.71"/><circle cx="378.6" cy="456.1" r="1.09" fill="#ff1818" fill-opacity="0.55"/><circle cx="344.7" cy="435.1" r="1.27" fill="#ff1818" fill-opacity="0.56"/><circle cx="358.1" cy="475.2" r="1.24" fill="#ff1818" fill-opacity="0.58"/><circle cx="382.9" cy="429.7" r="1.10" fill="#ff1818" fill-opacity="0.87"/><circle cx="336.6" cy="419.3" r="0.83" fill="#ff1818" fill-opacity="0.60"/><circle cx="357.9" cy="434.3" r="0.75" fill="#ff1818" fill-opacity="0.77"/><circle cx="398.7" cy="446.1" r="0.91" fill="#ff1818" fill-opacity="0.84"/><circle cx="360.2" cy="415.8" r="0.99" fill="#ff1818" fill-opacity="0.46"/><circle cx="378.4" cy="414.7" r="0.92" fill="#ff1818" fill-opacity="0.98"/><circle cx="385.3" cy="465.7" r="1.09" fill="#ff1818" fill-opacity="0.80"/><circle cx="341.9" cy="460.4" r="0.88" fill="#ff1818" fill-opacity="0.59"/><circle cx="389.5" cy="447.9" r="1.21" fill="#ff1818" fill-opacity="0.93"/><circle cx="371.8" cy="417.5" r="0.71" fill="#ff1818" fill-opacity="0.74"/><circle cx="382.2" cy="423.1" r="0.74" fill="#ff1818" fill-opacity="0.45"/><circle cx="340.1" cy="455.1" r="0.70" fill="#ff1818" fill-opacity="0.58"/><circle cx="347.1" cy="456.3" r="1.29" fill="#ff1818" fill-opacity="0.46"/><circle cx="352.5" cy="442.0" r="0.89" fill="#ff1818" fill-opacity="0.68"/><circle cx="363.4" cy="422.0" r="0.73" fill="#ff1818" fill-opacity="0.50"/><circle cx="374.4" cy="455.2" r="0.86" fill="#ff1818" fill-opacity="0.89"/><circle cx="382.4" cy="428.3" r="1.00" fill="#ff1818" fill-opacity="0.55"/><circle cx="397.7" cy="444.9" r="0.73" fill="#ff1818" fill-opacity="0.53"/><circle cx="379.7" cy="431.6" r="1.13" fill="#ff1818" fill-opacity="0.58"/><circle cx="387.6" cy="463.1" r="0.76" fill="#ff1818" fill-opacity="0.77"/><circle cx="341.5" cy="456.0" r="1.18" fill="#ff1818" fill-opacity="0.89"/><circle cx="344.5" cy="409.6" r="1.10" fill="#ff1818" fill-opacity="0.76"/><circle cx="337.4" cy="417.1" r="1.05" fill="#ff1818" fill-opacity="0.51"/><circle cx="375.2" cy="420.7" r="0.86" fill="#ff1818" fill-opacity="0.68"/><circle cx="367.5" cy="457.3" r="0.72" fill="#ff1818" fill-opacity="0.85"/><circle cx="343.7" cy="424.5" r="1.08" fill="#ff1818" fill-opacity="0.83"/><circle cx="373.7" cy="470.7" r="0.82" fill="#ff1818" fill-opacity="0.62"/><circle cx="377.4" cy="422.2" r="0.79" fill="#ff1818" fill-opacity="0.57"/><circle cx="385.7" cy="465.0" r="1.13" fill="#ff1818" fill-opacity="0.98"/><circle cx="387.4" cy="425.9" r="0.89" fill="#ff1818" fill-opacity="0.85"/><circle cx="331.2" cy="448.6" r="0.75" fill="#ff1818" fill-opacity="0.48"/><circle cx="366.0" cy="413.9" r="1.26" fill="#ff1818" fill-opacity="0.93"/><circle cx="362.1" cy="417.4" r="0.77" fill="#ff1818" fill-opacity="0.73"/><circle cx="366.6" cy="429.9" r="1.13" fill="#ff1818" fill-opacity="0.74"/><circle cx="386.0" cy="410.5" r="0.74" fill="#ff1818" fill-opacity="0.66"/><circle cx="363.7" cy="421.6" r="1.10" fill="#ff1818" fill-opacity="0.57"/><circle cx="351.2" cy="438.6" r="1.13" fill="#ff1818" fill-opacity="0.87"/><circle cx="355.2" cy="436.3" r="1.26" fill="#ff1818" fill-opacity="0.96"/><circle cx="374.0" cy="410.4" r="0.97" fill="#ff1818" fill-opacity="0.80"/><circle cx="336.7" cy="437.7" r="1.07" fill="#ff1818" fill-opacity="0.61"/><circle cx="332.1" cy="459.3" r="1.16" fill="#ff1818" fill-opacity="0.69"/><circle cx="333.4" cy="432.3" r="0.76" fill="#ff1818" fill-opacity="0.98"/><circle cx="330.8" cy="424.3" r="1.16" fill="#ff1818" fill-opacity="0.52"/></g><g filter="url(#blur1)"><circle cx="342.2" cy="442.6" r="0.93" fill="#18c0c0" fill-opacity="0.43"/><circle cx="342.8" cy="459.4" r="0.77" fill="#18c0c0" fill-opacity="0.52"/><circle cx="339.4" cy="421.8" r="0.99" fill="#18c0c0" fill-opacity="0.41"/><circle cx="348.7" cy="457.6" r="0.96" fill="#18c0c0" fill-opacity="0.80"/><circle cx="363.1" cy="473.2" r="0.84" fill="#18c0c0" fill-opacity="0.49"/><circle cx="362.6" cy="455.9" r="0.89" fill="#18c0c0" fill-opacity="0.41"/><circle cx="354.0" cy="422.2" r="0.70" fill="#18c0c0" fill-opacity="0.58"/><circle cx="389.1" cy="427.4" r="0.67" fill="#18c0c0" fill-opacity="0.72"/><circle cx="354.2" cy="417.8" r="0.77" fill="#18c0c0" fill-opacity="0.76"/><circle cx="389.7" cy="445.7" r="0.60" fill="#18c0c0" fill-opacity="0.73"/><circle cx="372.2" cy="469.1" r="0.98" fill="#18c0c0" fill-opacity="0.51"/><circle cx="388.7" cy="463.3" r="0.71" fill="#18c0c0" fill-opacity="0.53"/><circle cx="356.5" cy="429.7" r="0.75" fill="#18c0c0" fill-opacity="0.41"/><circle cx="346.4" cy="469.8" r="0.76" fill="#18c0c0" fill-opacity="0.67"/><circle cx="391.3" cy="458.7" r="0.70" fill="#18c0c0" fill-opacity="0.81"/><circle cx="380.5" cy="458.6" r="0.93" fill="#18c0c0" fill-opacity="0.48"/><circle cx="375.6" cy="431.7" r="0.94" fill="#18c0c0" fill-opacity="0.42"/><circle cx="367.7" cy="428.5" r="0.93" fill="#18c0c0" fill-opacity="0.52"/><circle cx="388.4" cy="465.3" r="0.95" fill="#18c0c0" fill-opacity="0.42"/><circle cx="377.0" cy="451.3" r="0.62" fill="#18c0c0" fill-opacity="0.79"/><circle cx="368.2" cy="437.1" r="0.74" fill="#18c0c0" fill-opacity="0.74"/><circle cx="384.2" cy="466.9" r="0.69" fill="#18c0c0" fill-opacity="0.52"/><circle cx="348.0" cy="411.5" r="0.73" fill="#18c0c0" fill-opacity="0.36"/><circle cx="385.2" cy="420.7" r="0.63" fill="#18c0c0" fill-opacity="0.38"/><circle cx="381.4" cy="418.6" r="0.78" fill="#18c0c0" fill-opacity="0.55"/><circle cx="352.1" cy="449.8" r="0.96" fill="#18c0c0" fill-opacity="0.59"/><circle cx="392.2" cy="457.1" r="0.72" fill="#18c0c0" fill-opacity="0.79"/><circle cx="370.0" cy="411.9" r="0.83" fill="#18c0c0" fill-opacity="0.76"/><circle cx="366.3" cy="439.1" r="0.77" fill="#18c0c0" fill-opacity="0.79"/><circle cx="376.3" cy="419.3" r="0.74" fill="#18c0c0" fill-opacity="0.53"/><circle cx="396.2" cy="454.4" r="0.65" fill="#18c0c0" fill-opacity="0.81"/><circle cx="333.4" cy="446.8" r="0.77" fill="#18c0c0" fill-opacity="0.71"/><circle cx="360.2" cy="410.9" r="0.81" fill="#18c0c0" fill-opacity="0.76"/><circle cx="384.6" cy="430.0" r="0.69" fill="#18c0c0" fill-opacity="0.72"/><circle cx="385.5" cy="420.1" r="0.95" fill="#18c0c0" fill-opacity="0.85"/><circle cx="360.5" cy="431.7" r="0.88" fill="#18c0c0" fill-opacity="0.81"/><circle cx="344.7" cy="426.0" r="0.73" fill="#18c0c0" fill-opacity="0.72"/><circle cx="343.7" cy="443.7" r="0.80" fill="#18c0c0" fill-opacity="0.68"/><circle cx="385.1" cy="417.5" r="0.96" fill="#18c0c0" fill-opacity="0.63"/><circle cx="382.6" cy="466.8" r="0.74" fill="#18c0c0" fill-opacity="0.81"/><circle cx="365.2" cy="469.0" r="0.96" fill="#18c0c0" fill-opacity="0.83"/><circle cx="365.7" cy="471.4" r="0.82" fill="#18c0c0" fill-opacity="0.42"/><circle cx="373.9" cy="462.1" r="0.77" fill="#18c0c0" fill-opacity="0.65"/><circle cx="348.6" cy="424.2" r="0.77" fill="#18c0c0" fill-opacity="0.61"/><circle cx="362.8" cy="410.9" r="0.60" fill="#18c0c0" fill-opacity="0.52"/><circle cx="379.7" cy="458.2" r="0.69" fill="#18c0c0" fill-opacity="0.48"/><circle cx="366.1" cy="416.9" r="0.84" fill="#18c0c0" fill-opacity="0.80"/><circle cx="344.7" cy="446.5" r="0.89" fill="#18c0c0" fill-opacity="0.72"/><circle cx="379.4" cy="455.5" r="0.71" fill="#18c0c0" fill-opacity="0.77"/><circle cx="395.2" cy="436.2" r="0.63" fill="#18c0c0" fill-opacity="0.38"/><circle cx="385.2" cy="453.1" r="0.66" fill="#18c0c0" fill-opacity="0.58"/><circle cx="353.9" cy="459.5" r="0.70" fill="#18c0c0" fill-opacity="0.45"/><circle cx="342.0" cy="433.8" r="0.85" fill="#18c0c0" fill-opacity="0.50"/><circle cx="342.0" cy="420.0" r="0.63" fill="#18c0c0" fill-opacity="0.45"/><circle cx="352.5" cy="440.6" r="0.67" fill="#18c0c0" fill-opacity="0.59"/><circle cx="360.9" cy="474.4" r="0.79" fill="#18c0c0" fill-opacity="0.82"/><circle cx="363.1" cy="418.6" r="0.84" fill="#18c0c0" fill-opacity="0.42"/><circle cx="358.4" cy="429.8" r="0.77" fill="#18c0c0" fill-opacity="0.53"/><circle cx="378.0" cy="432.5" r="0.66" fill="#18c0c0" fill-opacity="0.78"/><circle cx="369.9" cy="404.8" r="0.94" fill="#18c0c0" fill-opacity="0.71"/><circle cx="355.1" cy="449.7" r="0.97" fill="#18c0c0" fill-opacity="0.55"/><circle cx="360.4" cy="425.8" r="0.82" fill="#18c0c0" fill-opacity="0.68"/><circle cx="340.9" cy="430.6" r="0.94" fill="#18c0c0" fill-opacity="0.75"/><circle cx="371.1" cy="453.1" r="0.74" fill="#18c0c0" fill-opacity="0.82"/><circle cx="368.4" cy="433.3" r="0.67" fill="#18c0c0" fill-opacity="0.41"/><circle cx="392.0" cy="461.9" r="0.61" fill="#18c0c0" fill-opacity="0.51"/><circle cx="363.6" cy="440.0" r="0.75" fill="#18c0c0" fill-opacity="0.80"/><circle cx="354.8" cy="442.6" r="0.97" fill="#18c0c0" fill-opacity="0.67"/><circle cx="363.4" cy="428.2" r="0.75" fill="#18c0c0" fill-opacity="0.65"/><circle cx="384.4" cy="423.1" r="0.75" fill="#18c0c0" fill-opacity="0.54"/></g><ellipse cx="365.0" cy="440.3" rx="34.0" ry="36.0" fill="none" stroke="#d0d0d0" stroke-width="0.8" stroke-dasharray="3.5 2.5"/><path d="M348.3,428.0 L352.8,429.1 L350.9,425.3" fill="none" stroke="#fff" stroke-width="1.35" stroke-linejoin="round" stroke-linecap="round"/><path d="M346.5,432.1 L351.0,433.2 L349.1,429.4" fill="none" stroke="#fff" stroke-width="1.35" stroke-linejoin="round" stroke-linecap="round"/><path d="M375.4,432.3 L379.9,433.4 L378.0,429.6" fill="none" stroke="#fff" stroke-width="1.35" stroke-linejoin="round" stroke-linecap="round"/><path d="M376.4,439.9 L380.9,441.0 L379.0,437.2" fill="none" stroke="#fff" stroke-width="1.35" stroke-linejoin="round" stroke-linecap="round"/><rect x="330.3" y="402.3" width="23" height="11" fill="#000"/><line x1="331.3" y1="403.8" x2="351.3" y2="403.8" stroke="#fff" stroke-width="1.5"/><text x="332.3" y="412.40000000000003" font-size="9" font-weight="bold" fill="#fff">5µm</text></g>
<g clip-path="url(#cp21)"><rect x="327.9" y="483.0" width="73.0" height="66.70000000000005" fill="#010104"/><g transform="translate(0 0)"><circle cx="402" cy="482" r="8" fill="#0d0da8" filter="url(#blur2)"/><path d="M346.4,488.4 C348.2,486.6 348.7,485.3 353.0,484.5 C357.3,483.7 366.2,483.5 372.0,483.5 C377.8,483.5 384.2,483.8 388.0,484.5 C391.8,485.2 393.3,486.4 395.0,488.0 C396.7,489.6 397.3,491.2 398.0,494.0 C398.7,496.8 399.0,501.4 399.0,505.0 C399.0,508.6 398.8,512.3 398.0,515.5 C397.2,518.7 395.6,521.6 394.0,524.0 C392.4,526.4 390.9,528.3 388.7,529.6 C386.5,530.9 383.4,531.1 381.0,532.0 C378.6,532.9 376.8,533.5 374.6,535.0 C372.4,536.5 370.4,538.8 368.0,541.0 C365.6,543.2 363.5,546.8 360.5,548.0 C357.5,549.2 352.7,548.5 350.0,548.0 C347.3,547.5 346.8,547.1 344.2,544.7 C341.6,542.4 336.2,538.2 334.5,533.9 C332.8,529.6 333.3,523.6 334.0,518.7 C334.7,513.8 337.5,508.6 338.8,504.7 C340.1,500.8 340.7,497.7 342.0,495.0 C343.3,492.3 344.6,490.1 346.4,488.4 Z" fill="#0a0ae6" filter="url(#blur2)"/><g clip-path="url(#cpn1)" filter="url(#blur2)"><circle cx="360.4" cy="535.8" r="2.6" fill="#3040ff" fill-opacity="0.3"/><circle cx="359.0" cy="531.4" r="3.4" fill="#000060" fill-opacity="0.35"/><circle cx="344.0" cy="501.3" r="3.6" fill="#000060" fill-opacity="0.35"/><circle cx="350.1" cy="502.9" r="2.5" fill="#000060" fill-opacity="0.35"/><circle cx="378.2" cy="526.6" r="3.9" fill="#3040ff" fill-opacity="0.3"/><circle cx="369.4" cy="536.3" r="3.9" fill="#000060" fill-opacity="0.35"/><circle cx="363.8" cy="501.3" r="3.7" fill="#3040ff" fill-opacity="0.3"/><circle cx="361.5" cy="496.5" r="3.5" fill="#3040ff" fill-opacity="0.3"/><circle cx="371.7" cy="538.9" r="2.1" fill="#000060" fill-opacity="0.35"/><circle cx="349.0" cy="493.0" r="3.3" fill="#3040ff" fill-opacity="0.3"/><circle cx="348.4" cy="499.8" r="3.2" fill="#000060" fill-opacity="0.35"/><circle cx="375.3" cy="538.5" r="4.0" fill="#000060" fill-opacity="0.35"/><circle cx="363.9" cy="510.8" r="2.5" fill="#000060" fill-opacity="0.35"/><circle cx="389.8" cy="539.8" r="2.4" fill="#3040ff" fill-opacity="0.3"/><circle cx="351.6" cy="499.3" r="3.5" fill="#000060" fill-opacity="0.35"/><circle cx="345.8" cy="517.5" r="2.1" fill="#3040ff" fill-opacity="0.3"/><circle cx="364.1" cy="530.0" r="2.9" fill="#3040ff" fill-opacity="0.3"/><circle cx="385.3" cy="520.8" r="2.8" fill="#000060" fill-opacity="0.35"/><circle cx="388.3" cy="533.3" r="3.1" fill="#3040ff" fill-opacity="0.3"/><circle cx="349.8" cy="500.4" r="3.4" fill="#000060" fill-opacity="0.35"/><circle cx="343.2" cy="530.5" r="3.0" fill="#3040ff" fill-opacity="0.3"/><circle cx="343.3" cy="530.3" r="3.3" fill="#000060" fill-opacity="0.35"/></g><g filter="url(#blur1)"><circle cx="371.2" cy="528.8" r="0.66" fill="#30b8a0" fill-opacity="0.68"/><circle cx="373.9" cy="505.7" r="0.65" fill="#30b8a0" fill-opacity="0.37"/><circle cx="391.2" cy="532.4" r="0.82" fill="#30b8a0" fill-opacity="0.62"/><circle cx="356.1" cy="530.4" r="0.60" fill="#30b8a0" fill-opacity="0.52"/><circle cx="346.5" cy="536.0" r="0.70" fill="#30b8a0" fill-opacity="0.37"/><circle cx="345.9" cy="530.6" r="0.73" fill="#30b8a0" fill-opacity="0.66"/><circle cx="372.2" cy="511.9" r="0.87" fill="#30b8a0" fill-opacity="0.29"/><circle cx="383.6" cy="493.8" r="0.61" fill="#30b8a0" fill-opacity="0.30"/><circle cx="389.3" cy="512.7" r="0.79" fill="#30b8a0" fill-opacity="0.37"/><circle cx="380.8" cy="524.3" r="0.54" fill="#30b8a0" fill-opacity="0.47"/><circle cx="380.3" cy="500.0" r="0.76" fill="#30b8a0" fill-opacity="0.38"/><circle cx="359.2" cy="539.5" r="0.88" fill="#30b8a0" fill-opacity="0.70"/><circle cx="362.6" cy="520.0" r="0.82" fill="#30b8a0" fill-opacity="0.59"/><circle cx="364.4" cy="536.4" r="0.66" fill="#30b8a0" fill-opacity="0.68"/><circle cx="365.4" cy="494.6" r="0.80" fill="#30b8a0" fill-opacity="0.32"/></g><g filter="url(#blur1)"><circle cx="380.6" cy="483.9" r="0.80" fill="#20c040" fill-opacity="0.52"/><circle cx="385.3" cy="489.4" r="0.65" fill="#20c040" fill-opacity="0.45"/><circle cx="347.9" cy="538.7" r="0.41" fill="#20c040" fill-opacity="0.49"/><circle cx="364.3" cy="513.8" r="0.69" fill="#20c040" fill-opacity="0.59"/><circle cx="355.1" cy="547.2" r="0.47" fill="#20c040" fill-opacity="0.35"/><circle cx="390.9" cy="488.6" r="0.47" fill="#20c040" fill-opacity="0.50"/><circle cx="354.6" cy="491.8" r="0.77" fill="#20c040" fill-opacity="0.49"/><circle cx="388.7" cy="498.0" r="0.77" fill="#20c040" fill-opacity="0.39"/><circle cx="397.9" cy="524.1" r="0.79" fill="#20c040" fill-opacity="0.61"/><circle cx="376.9" cy="518.4" r="0.74" fill="#20c040" fill-opacity="0.48"/><circle cx="390.2" cy="529.1" r="0.70" fill="#20c040" fill-opacity="0.39"/><circle cx="364.2" cy="539.3" r="0.78" fill="#20c040" fill-opacity="0.67"/><circle cx="341.2" cy="529.2" r="0.62" fill="#20c040" fill-opacity="0.46"/><circle cx="341.7" cy="489.9" r="0.59" fill="#20c040" fill-opacity="0.50"/></g><path d="M348.4,495.8 L352.9,496.9 L351.0,493.1" fill="none" stroke="#fff" stroke-width="1.35" stroke-linejoin="round" stroke-linecap="round"/><path d="M363.3,500.4 L367.8,501.5 L365.9,497.7" fill="none" stroke="#fff" stroke-width="1.35" stroke-linejoin="round" stroke-linecap="round"/><path d="M372.9,497.5 L377.4,498.6 L375.5,494.8" fill="none" stroke="#fff" stroke-width="1.35" stroke-linejoin="round" stroke-linecap="round"/><path d="M353.3,507.4 L357.8,508.5 L355.9,504.7" fill="none" stroke="#fff" stroke-width="1.35" stroke-linejoin="round" stroke-linecap="round"/><path d="M364.6,510.6 L369.1,511.7 L367.2,507.9" fill="none" stroke="#fff" stroke-width="1.35" stroke-linejoin="round" stroke-linecap="round"/><path d="M371.6,515.4 L376.1,516.5 L374.2,512.7" fill="none" stroke="#fff" stroke-width="1.35" stroke-linejoin="round" stroke-linecap="round"/><path d="M343.5,518.6 L348.0,519.7 L346.1,515.9" fill="none" stroke="#fff" stroke-width="1.35" stroke-linejoin="round" stroke-linecap="round"/><path d="M349.3,523.1 L353.8,524.2 L351.9,520.4" fill="none" stroke="#fff" stroke-width="1.35" stroke-linejoin="round" stroke-linecap="round"/><path d="M338.4,526.5 L342.9,527.6 L341.0,523.8" fill="none" stroke="#fff" stroke-width="1.35" stroke-linejoin="round" stroke-linecap="round"/><path d="M363.8,530.3 L368.3,531.4 L366.4,527.6" fill="none" stroke="#fff" stroke-width="1.35" stroke-linejoin="round" stroke-linecap="round"/></g><line x1="381.2" y1="548.1" x2="400.59999999999997" y2="548.1" stroke="#fff" stroke-width="1.5"/><text x="382.0" y="545.9" font-size="9" font-weight="bold" fill="#fff">5µm</text></g>
<g clip-path="url(#cp31)"><rect x="327.9" y="551.9" width="73.0" height="67.60000000000002" fill="#1e070c"/><g transform="translate(0 68.89999999999998)"><circle cx="402" cy="482" r="8" fill="#0d0da8" filter="url(#blur2)"/><path d="M346.4,488.4 C348.2,486.6 348.7,485.3 353.0,484.5 C357.3,483.7 366.2,483.5 372.0,483.5 C377.8,483.5 384.2,483.8 388.0,484.5 C391.8,485.2 393.3,486.4 395.0,488.0 C396.7,489.6 397.3,491.2 398.0,494.0 C398.7,496.8 399.0,501.4 399.0,505.0 C399.0,508.6 398.8,512.3 398.0,515.5 C397.2,518.7 395.6,521.6 394.0,524.0 C392.4,526.4 390.9,528.3 388.7,529.6 C386.5,530.9 383.4,531.1 381.0,532.0 C378.6,532.9 376.8,533.5 374.6,535.0 C372.4,536.5 370.4,538.8 368.0,541.0 C365.6,543.2 363.5,546.8 360.5,548.0 C357.5,549.2 352.7,548.5 350.0,548.0 C347.3,547.5 346.8,547.1 344.2,544.7 C341.6,542.4 336.2,538.2 334.5,533.9 C332.8,529.6 333.3,523.6 334.0,518.7 C334.7,513.8 337.5,508.6 338.8,504.7 C340.1,500.8 340.7,497.7 342.0,495.0 C343.3,492.3 344.6,490.1 346.4,488.4 Z" fill="#0a0ae6" filter="url(#blur2)"/><g clip-path="url(#cpn1)" filter="url(#blur2)"><circle cx="355.9" cy="509.6" r="3.5" fill="#3040ff" fill-opacity="0.3"/><circle cx="371.3" cy="499.8" r="2.7" fill="#3040ff" fill-opacity="0.3"/><circle cx="389.1" cy="539.1" r="3.2" fill="#000060" fill-opacity="0.35"/><circle cx="389.4" cy="510.5" r="2.6" fill="#3040ff" fill-opacity="0.3"/><circle cx="344.4" cy="501.8" r="2.6" fill="#000060" fill-opacity="0.35"/><circle cx="373.2" cy="519.0" r="3.4" fill="#3040ff" fill-opacity="0.3"/><circle cx="360.4" cy="537.6" r="3.1" fill="#3040ff" fill-opacity="0.3"/><circle cx="384.4" cy="524.2" r="3.2" fill="#000060" fill-opacity="0.35"/><circle cx="357.4" cy="538.5" r="3.9" fill="#000060" fill-opacity="0.35"/><circle cx="346.1" cy="492.5" r="2.4" fill="#3040ff" fill-opacity="0.3"/><circle cx="367.4" cy="497.7" r="3.3" fill="#3040ff" fill-opacity="0.3"/><circle cx="375.8" cy="536.5" r="3.4" fill="#3040ff" fill-opacity="0.3"/><circle cx="377.2" cy="492.1" r="2.9" fill="#000060" fill-opacity="0.35"/><circle cx="389.5" cy="507.0" r="2.0" fill="#3040ff" fill-opacity="0.3"/><circle cx="363.0" cy="535.3" r="3.6" fill="#3040ff" fill-opacity="0.3"/><circle cx="343.6" cy="501.7" r="3.7" fill="#000060" fill-opacity="0.35"/><circle cx="347.9" cy="536.7" r="3.8" fill="#000060" fill-opacity="0.35"/><circle cx="367.7" cy="507.5" r="2.8" fill="#3040ff" fill-opacity="0.3"/><circle cx="376.5" cy="495.2" r="4.0" fill="#3040ff" fill-opacity="0.3"/><circle cx="348.3" cy="527.8" r="2.3" fill="#000060" fill-opacity="0.35"/><circle cx="360.5" cy="523.8" r="4.0" fill="#3040ff" fill-opacity="0.3"/><circle cx="390.7" cy="521.9" r="2.3" fill="#3040ff" fill-opacity="0.3"/></g><g filter="url(#blur1)"><circle cx="380.6" cy="518.9" r="0.64" fill="#30b8a0" fill-opacity="0.66"/><circle cx="352.3" cy="495.9" r="0.56" fill="#30b8a0" fill-opacity="0.32"/><circle cx="372.3" cy="532.8" r="0.56" fill="#30b8a0" fill-opacity="0.48"/><circle cx="371.5" cy="519.4" r="0.67" fill="#30b8a0" fill-opacity="0.49"/><circle cx="362.4" cy="501.3" r="0.80" fill="#30b8a0" fill-opacity="0.36"/><circle cx="386.4" cy="501.5" r="0.54" fill="#30b8a0" fill-opacity="0.46"/><circle cx="360.3" cy="506.8" r="0.81" fill="#30b8a0" fill-opacity="0.35"/><circle cx="377.2" cy="534.7" r="0.68" fill="#30b8a0" fill-opacity="0.48"/><circle cx="392.4" cy="521.8" r="0.57" fill="#30b8a0" fill-opacity="0.28"/><circle cx="341.9" cy="506.6" r="0.54" fill="#30b8a0" fill-opacity="0.54"/><circle cx="362.4" cy="505.3" r="0.70" fill="#30b8a0" fill-opacity="0.67"/><circle cx="351.7" cy="496.7" r="0.62" fill="#30b8a0" fill-opacity="0.40"/><circle cx="391.6" cy="527.5" r="0.67" fill="#30b8a0" fill-opacity="0.32"/><circle cx="387.8" cy="524.3" r="0.56" fill="#30b8a0" fill-opacity="0.53"/><circle cx="340.5" cy="516.4" r="0.63" fill="#30b8a0" fill-opacity="0.30"/></g><g filter="url(#blur1)"><circle cx="385.4" cy="531.6" r="0.60" fill="#20c040" fill-opacity="0.37"/><circle cx="379.9" cy="511.2" r="0.66" fill="#20c040" fill-opacity="0.34"/><circle cx="345.9" cy="508.7" r="0.48" fill="#20c040" fill-opacity="0.34"/><circle cx="354.5" cy="499.2" r="0.67" fill="#20c040" fill-opacity="0.39"/><circle cx="359.5" cy="529.6" r="0.57" fill="#20c040" fill-opacity="0.36"/><circle cx="334.4" cy="519.1" r="0.80" fill="#20c040" fill-opacity="0.67"/><circle cx="336.6" cy="516.2" r="0.60" fill="#20c040" fill-opacity="0.38"/><circle cx="379.9" cy="515.7" r="0.72" fill="#20c040" fill-opacity="0.42"/><circle cx="365.0" cy="490.2" r="0.59" fill="#20c040" fill-opacity="0.35"/><circle cx="381.1" cy="530.2" r="0.63" fill="#20c040" fill-opacity="0.69"/><circle cx="389.9" cy="488.1" r="0.53" fill="#20c040" fill-opacity="0.32"/><circle cx="373.3" cy="532.1" r="0.54" fill="#20c040" fill-opacity="0.58"/><circle cx="356.9" cy="531.3" r="0.51" fill="#20c040" fill-opacity="0.69"/><circle cx="336.0" cy="532.3" r="0.75" fill="#20c040" fill-opacity="0.55"/></g><g filter="url(#blur1)"><circle cx="380.0" cy="494.5" r="0.93" fill="#ff1a80" fill-opacity="0.80"/><circle cx="358.2" cy="537.0" r="1.30" fill="#ff1a80" fill-opacity="0.64"/><circle cx="391.5" cy="532.0" r="1.22" fill="#ff1a80" fill-opacity="0.76"/><circle cx="395.2" cy="524.1" r="1.27" fill="#ff1a80" fill-opacity="0.75"/><circle cx="348.8" cy="517.0" r="0.99" fill="#ff1a80" fill-opacity="0.65"/><circle cx="359.4" cy="516.6" r="1.05" fill="#ff1a80" fill-opacity="0.60"/><circle cx="353.6" cy="516.2" r="1.00" fill="#ff1a80" fill-opacity="0.69"/><circle cx="376.8" cy="498.4" r="1.02" fill="#ff1a80" fill-opacity="0.62"/><circle cx="383.2" cy="527.4" r="1.17" fill="#ff1a80" fill-opacity="0.73"/><circle cx="351.9" cy="539.8" r="1.01" fill="#ff1a80" fill-opacity="0.67"/><circle cx="354.4" cy="510.5" r="1.13" fill="#ff1a80" fill-opacity="0.87"/><circle cx="366.0" cy="528.9" r="0.83" fill="#ff1a80" fill-opacity="0.70"/><circle cx="358.5" cy="505.2" r="0.92" fill="#ff1a80" fill-opacity="0.84"/><circle cx="381.0" cy="499.6" r="0.84" fill="#ff1a80" fill-opacity="0.85"/><circle cx="376.3" cy="525.9" r="1.08" fill="#ff1a80" fill-opacity="0.81"/><circle cx="353.4" cy="491.4" r="0.92" fill="#ff1a80" fill-opacity="0.51"/><circle cx="394.7" cy="517.4" r="1.10" fill="#ff1a80" fill-opacity="0.93"/><circle cx="385.3" cy="500.8" r="0.90" fill="#ff1a80" fill-opacity="0.55"/><circle cx="384.7" cy="529.3" r="0.99" fill="#ff1a80" fill-opacity="0.67"/><circle cx="353.2" cy="515.3" r="1.13" fill="#ff1a80" fill-opacity="0.90"/><circle cx="363.4" cy="511.6" r="0.89" fill="#ff1a80" fill-opacity="0.94"/><circle cx="348.0" cy="496.8" r="0.87" fill="#ff1a80" fill-opacity="0.91"/><circle cx="388.2" cy="506.6" r="1.21" fill="#ff1a80" fill-opacity="0.90"/><circle cx="362.6" cy="498.8" r="1.16" fill="#ff1a80" fill-opacity="0.67"/><circle cx="363.4" cy="510.3" r="1.06" fill="#ff1a80" fill-opacity="0.61"/><circle cx="338.2" cy="509.8" r="0.93" fill="#ff1a80" fill-opacity="0.50"/><circle cx="359.3" cy="530.6" r="0.90" fill="#ff1a80" fill-opacity="0.81"/><circle cx="374.5" cy="498.6" r="0.71" fill="#ff1a80" fill-opacity="0.80"/><circle cx="373.7" cy="504.5" r="0.82" fill="#ff1a80" fill-opacity="0.88"/><circle cx="391.6" cy="501.1" r="1.05" fill="#ff1a80" fill-opacity="0.76"/><circle cx="356.3" cy="490.0" r="0.90" fill="#ff1a80" fill-opacity="0.79"/><circle cx="373.1" cy="516.6" r="0.77" fill="#ff1a80" fill-opacity="0.60"/><circle cx="355.7" cy="511.3" r="0.92" fill="#ff1a80" fill-opacity="0.91"/><circle cx="351.4" cy="536.0" r="0.85" fill="#ff1a80" fill-opacity="0.76"/><circle cx="359.6" cy="490.1" r="1.18" fill="#ff1a80" fill-opacity="0.86"/><circle cx="353.2" cy="531.5" r="0.99" fill="#ff1a80" fill-opacity="0.94"/><circle cx="340.3" cy="509.3" r="0.84" fill="#ff1a80" fill-opacity="0.78"/><circle cx="383.7" cy="535.2" r="1.03" fill="#ff1a80" fill-opacity="0.67"/><circle cx="385.0" cy="493.9" r="0.86" fill="#ff1a80" fill-opacity="0.84"/><circle cx="363.4" cy="543.6" r="0.75" fill="#ff1a80" fill-opacity="0.71"/></g><path d="M348.4,495.8 L352.9,496.9 L351.0,493.1" fill="none" stroke="#fff" stroke-width="1.35" stroke-linejoin="round" stroke-linecap="round"/><path d="M363.3,500.4 L367.8,501.5 L365.9,497.7" fill="none" stroke="#fff" stroke-width="1.35" stroke-linejoin="round" stroke-linecap="round"/><path d="M372.9,497.5 L377.4,498.6 L375.5,494.8" fill="none" stroke="#fff" stroke-width="1.35" stroke-linejoin="round" stroke-linecap="round"/><path d="M353.3,507.4 L357.8,508.5 L355.9,504.7" fill="none" stroke="#fff" stroke-width="1.35" stroke-linejoin="round" stroke-linecap="round"/><path d="M364.6,510.6 L369.1,511.7 L367.2,507.9" fill="none" stroke="#fff" stroke-width="1.35" stroke-linejoin="round" stroke-linecap="round"/><path d="M371.6,515.4 L376.1,516.5 L374.2,512.7" fill="none" stroke="#fff" stroke-width="1.35" stroke-linejoin="round" stroke-linecap="round"/><path d="M343.5,518.6 L348.0,519.7 L346.1,515.9" fill="none" stroke="#fff" stroke-width="1.35" stroke-linejoin="round" stroke-linecap="round"/><path d="M349.3,523.1 L353.8,524.2 L351.9,520.4" fill="none" stroke="#fff" stroke-width="1.35" stroke-linejoin="round" stroke-linecap="round"/><path d="M338.4,526.5 L342.9,527.6 L341.0,523.8" fill="none" stroke="#fff" stroke-width="1.35" stroke-linejoin="round" stroke-linecap="round"/><path d="M363.8,530.3 L368.3,531.4 L366.4,527.6" fill="none" stroke="#fff" stroke-width="1.35" stroke-linejoin="round" stroke-linecap="round"/></g><line x1="381.2" y1="616.3" x2="400.59999999999997" y2="616.3" stroke="#fff" stroke-width="1.5"/><text x="382.0" y="614.0999999999999" font-size="9" font-weight="bold" fill="#fff">5µm</text></g>
<g clip-path="url(#cp02)"><rect x="404.1" y="320.5" width="58.89999999999998" height="76.39999999999998" fill="#030707"/><g filter="url(#blur1)"><circle cx="426.2" cy="353.6" r="0.70" fill="#10a8a8" fill-opacity="0.24"/><circle cx="447.5" cy="360.3" r="0.89" fill="#10a8a8" fill-opacity="0.20"/><circle cx="435.3" cy="358.5" r="0.65" fill="#10a8a8" fill-opacity="0.41"/><circle cx="416.1" cy="389.1" r="0.64" fill="#10a8a8" fill-opacity="0.25"/><circle cx="441.9" cy="364.1" r="0.61" fill="#10a8a8" fill-opacity="0.18"/><circle cx="463.6" cy="348.6" r="0.55" fill="#10a8a8" fill-opacity="0.35"/><circle cx="436.6" cy="345.2" r="0.63" fill="#10a8a8" fill-opacity="0.40"/><circle cx="424.3" cy="352.4" r="0.88" fill="#10a8a8" fill-opacity="0.26"/><circle cx="428.3" cy="332.0" r="0.76" fill="#10a8a8" fill-opacity="0.35"/><circle cx="431.2" cy="351.5" r="0.59" fill="#10a8a8" fill-opacity="0.39"/><circle cx="431.9" cy="385.5" r="0.65" fill="#10a8a8" fill-opacity="0.37"/><circle cx="464.0" cy="373.5" r="0.77" fill="#10a8a8" fill-opacity="0.30"/><circle cx="432.8" cy="334.9" r="0.57" fill="#10a8a8" fill-opacity="0.34"/><circle cx="447.0" cy="339.7" r="0.76" fill="#10a8a8" fill-opacity="0.19"/><circle cx="441.8" cy="332.8" r="0.70" fill="#10a8a8" fill-opacity="0.24"/><circle cx="437.8" cy="329.8" r="0.69" fill="#10a8a8" fill-opacity="0.33"/><circle cx="411.3" cy="343.7" r="0.77" fill="#10a8a8" fill-opacity="0.31"/><circle cx="442.0" cy="381.3" r="0.73" fill="#10a8a8" fill-opacity="0.22"/><circle cx="430.9" cy="385.3" r="0.73" fill="#10a8a8" fill-opacity="0.38"/><circle cx="425.9" cy="354.9" r="0.89" fill="#10a8a8" fill-opacity="0.40"/><circle cx="444.4" cy="327.6" r="0.74" fill="#10a8a8" fill-opacity="0.16"/><circle cx="449.2" cy="340.5" r="0.84" fill="#10a8a8" fill-opacity="0.20"/><circle cx="455.5" cy="360.7" r="0.51" fill="#10a8a8" fill-opacity="0.42"/><circle cx="430.8" cy="385.3" r="0.78" fill="#10a8a8" fill-opacity="0.31"/><circle cx="457.7" cy="335.3" r="0.86" fill="#10a8a8" fill-opacity="0.25"/><circle cx="442.5" cy="328.7" r="0.56" fill="#10a8a8" fill-opacity="0.24"/><circle cx="420.5" cy="392.5" r="0.86" fill="#10a8a8" fill-opacity="0.41"/><circle cx="465.8" cy="354.2" r="0.82" fill="#10a8a8" fill-opacity="0.23"/><circle cx="449.4" cy="337.3" r="0.54" fill="#10a8a8" fill-opacity="0.43"/><circle cx="437.9" cy="368.0" r="0.84" fill="#10a8a8" fill-opacity="0.19"/><circle cx="447.3" cy="356.1" r="0.81" fill="#10a8a8" fill-opacity="0.29"/><circle cx="420.6" cy="378.5" r="0.83" fill="#10a8a8" fill-opacity="0.22"/><circle cx="447.0" cy="350.7" r="0.59" fill="#10a8a8" fill-opacity="0.22"/><circle cx="463.6" cy="348.5" r="0.70" fill="#10a8a8" fill-opacity="0.30"/><circle cx="450.2" cy="389.0" r="0.64" fill="#10a8a8" fill-opacity="0.21"/><circle cx="424.9" cy="377.5" r="0.76" fill="#10a8a8" fill-opacity="0.27"/><circle cx="436.2" cy="331.4" r="0.87" fill="#10a8a8" fill-opacity="0.29"/><circle cx="435.0" cy="381.9" r="0.58" fill="#10a8a8" fill-opacity="0.37"/><circle cx="425.2" cy="383.9" r="0.54" fill="#10a8a8" fill-opacity="0.23"/><circle cx="443.3" cy="357.6" r="0.65" fill="#10a8a8" fill-opacity="0.32"/><circle cx="416.6" cy="354.0" r="0.50" fill="#10a8a8" fill-opacity="0.39"/><circle cx="418.9" cy="385.4" r="0.72" fill="#10a8a8" fill-opacity="0.33"/><circle cx="442.6" cy="329.1" r="0.81" fill="#10a8a8" fill-opacity="0.24"/><circle cx="457.7" cy="381.9" r="0.77" fill="#10a8a8" fill-opacity="0.39"/><circle cx="430.6" cy="372.8" r="0.88" fill="#10a8a8" fill-opacity="0.21"/><circle cx="409.1" cy="352.0" r="0.70" fill="#10a8a8" fill-opacity="0.19"/><circle cx="416.8" cy="388.3" r="0.66" fill="#10a8a8" fill-opacity="0.19"/><circle cx="414.4" cy="365.2" r="0.58" fill="#10a8a8" fill-opacity="0.29"/><circle cx="437.0" cy="354.2" r="0.70" fill="#10a8a8" fill-opacity="0.40"/><circle cx="451.7" cy="364.6" r="0.72" fill="#10a8a8" fill-opacity="0.22"/><circle cx="452.5" cy="343.6" r="0.79" fill="#10a8a8" fill-opacity="0.22"/><circle cx="439.2" cy="370.8" r="0.65" fill="#10a8a8" fill-opacity="0.29"/><circle cx="406.9" cy="370.4" r="0.78" fill="#10a8a8" fill-opacity="0.20"/><circle cx="437.8" cy="377.6" r="0.54" fill="#10a8a8" fill-opacity="0.40"/><circle cx="418.5" cy="325.8" r="0.60" fill="#10a8a8" fill-opacity="0.18"/><circle cx="433.9" cy="339.1" r="0.62" fill="#10a8a8" fill-opacity="0.29"/><circle cx="426.4" cy="382.0" r="0.79" fill="#10a8a8" fill-opacity="0.18"/><circle cx="423.7" cy="327.7" r="0.78" fill="#10a8a8" fill-opacity="0.38"/><circle cx="429.0" cy="393.4" r="0.66" fill="#10a8a8" fill-opacity="0.24"/><circle cx="435.4" cy="354.3" r="0.67" fill="#10a8a8" fill-opacity="0.38"/><circle cx="455.7" cy="357.1" r="0.57" fill="#10a8a8" fill-opacity="0.27"/><circle cx="459.6" cy="351.6" r="0.76" fill="#10a8a8" fill-opacity="0.32"/><circle cx="432.1" cy="365.0" r="0.60" fill="#10a8a8" fill-opacity="0.32"/><circle cx="426.2" cy="389.4" r="0.89" fill="#10a8a8" fill-opacity="0.15"/><circle cx="442.7" cy="369.5" r="0.84" fill="#10a8a8" fill-opacity="0.29"/><circle cx="411.1" cy="343.1" r="0.79" fill="#10a8a8" fill-opacity="0.37"/><circle cx="415.8" cy="370.4" r="0.76" fill="#10a8a8" fill-opacity="0.35"/><circle cx="404.1" cy="354.3" r="0.63" fill="#10a8a8" fill-opacity="0.33"/><circle cx="424.2" cy="329.3" r="0.77" fill="#10a8a8" fill-opacity="0.24"/><circle cx="453.1" cy="343.5" r="0.72" fill="#10a8a8" fill-opacity="0.39"/><circle cx="410.1" cy="377.4" r="0.53" fill="#10a8a8" fill-opacity="0.43"/><circle cx="426.2" cy="333.4" r="0.66" fill="#10a8a8" fill-opacity="0.30"/><circle cx="429.2" cy="328.9" r="0.71" fill="#10a8a8" fill-opacity="0.24"/><circle cx="464.4" cy="349.7" r="0.67" fill="#10a8a8" fill-opacity="0.22"/><circle cx="443.9" cy="385.5" r="0.66" fill="#10a8a8" fill-opacity="0.38"/><circle cx="420.5" cy="327.8" r="0.52" fill="#10a8a8" fill-opacity="0.28"/><circle cx="458.5" cy="335.3" r="0.68" fill="#10a8a8" fill-opacity="0.38"/><circle cx="420.3" cy="331.3" r="0.71" fill="#10a8a8" fill-opacity="0.28"/><circle cx="417.9" cy="363.9" r="0.67" fill="#10a8a8" fill-opacity="0.16"/><circle cx="431.0" cy="392.2" r="0.62" fill="#10a8a8" fill-opacity="0.33"/><circle cx="448.0" cy="324.1" r="0.87" fill="#10a8a8" fill-opacity="0.18"/><circle cx="421.9" cy="376.2" r="0.51" fill="#10a8a8" fill-opacity="0.26"/><circle cx="410.8" cy="356.9" r="0.51" fill="#10a8a8" fill-opacity="0.20"/><circle cx="435.7" cy="330.0" r="0.83" fill="#10a8a8" fill-opacity="0.28"/><circle cx="418.8" cy="338.3" r="0.84" fill="#10a8a8" fill-opacity="0.16"/><circle cx="450.1" cy="326.9" r="0.88" fill="#10a8a8" fill-opacity="0.27"/><circle cx="440.8" cy="388.0" r="0.54" fill="#10a8a8" fill-opacity="0.17"/><circle cx="446.9" cy="366.0" r="0.79" fill="#10a8a8" fill-opacity="0.23"/><circle cx="434.4" cy="334.0" r="0.67" fill="#10a8a8" fill-opacity="0.23"/><circle cx="440.1" cy="343.0" r="0.61" fill="#10a8a8" fill-opacity="0.34"/></g><g filter="url(#blur1)"><circle cx="434.4" cy="338.4" r="0.83" fill="#20d4d4" fill-opacity="0.73"/><circle cx="434.8" cy="375.7" r="0.91" fill="#20d4d4" fill-opacity="0.69"/><circle cx="457.4" cy="341.8" r="1.09" fill="#20d4d4" fill-opacity="0.86"/><circle cx="420.5" cy="382.9" r="0.98" fill="#20d4d4" fill-opacity="0.62"/><circle cx="452.6" cy="363.4" r="0.82" fill="#20d4d4" fill-opacity="0.85"/><circle cx="415.8" cy="340.7" r="0.98" fill="#20d4d4" fill-opacity="0.62"/></g><ellipse cx="434.6" cy="359.0" rx="29.0" ry="38.0" fill="none" stroke="#d0d0d0" stroke-width="0.8" stroke-dasharray="3.5 2.5"/><path d="M422.6,354.0 L427.1,355.1 L425.2,351.3" fill="none" stroke="#fff" stroke-width="1.35" stroke-linejoin="round" stroke-linecap="round"/><path d="M440.8,344.6 L445.3,345.7 L443.4,341.9" fill="none" stroke="#fff" stroke-width="1.35" stroke-linejoin="round" stroke-linecap="round"/><line x1="407.6" y1="395.7" x2="427.6" y2="395.7" stroke="#fff" stroke-width="1.5"/><text x="408.6" y="393.5" font-size="9" font-weight="bold" fill="#fff">5µm</text></g>
<g clip-path="url(#cp12)"><rect x="404.1" y="401.2" width="58.89999999999998" height="75.60000000000002" fill="#170506"/><g filter="url(#blur1)"><circle cx="432.2" cy="456.7" r="0.54" fill="#a01010" fill-opacity="0.50"/><circle cx="408.9" cy="437.8" r="0.76" fill="#a01010" fill-opacity="0.51"/><circle cx="464.5" cy="431.0" r="0.67" fill="#a01010" fill-opacity="0.41"/><circle cx="447.3" cy="458.9" r="0.76" fill="#a01010" fill-opacity="0.42"/><circle cx="439.1" cy="440.9" r="0.58" fill="#a01010" fill-opacity="0.58"/><circle cx="466.6" cy="437.0" r="0.84" fill="#a01010" fill-opacity="0.37"/><circle cx="450.4" cy="456.9" r="0.88" fill="#a01010" fill-opacity="0.55"/><circle cx="459.2" cy="421.2" r="0.81" fill="#a01010" fill-opacity="0.44"/><circle cx="422.4" cy="429.2" r="0.82" fill="#a01010" fill-opacity="0.55"/><circle cx="457.0" cy="453.2" r="0.57" fill="#a01010" fill-opacity="0.35"/><circle cx="439.0" cy="416.7" r="0.63" fill="#a01010" fill-opacity="0.33"/><circle cx="412.2" cy="457.0" r="0.59" fill="#a01010" fill-opacity="0.55"/><circle cx="423.5" cy="467.5" r="0.62" fill="#a01010" fill-opacity="0.38"/><circle cx="427.8" cy="400.8" r="0.67" fill="#a01010" fill-opacity="0.41"/><circle cx="408.6" cy="456.4" r="0.73" fill="#a01010" fill-opacity="0.45"/><circle cx="418.1" cy="422.7" r="0.89" fill="#a01010" fill-opacity="0.41"/><circle cx="454.7" cy="455.3" r="0.72" fill="#a01010" fill-opacity="0.54"/><circle cx="412.1" cy="442.9" r="0.61" fill="#a01010" fill-opacity="0.42"/><circle cx="414.5" cy="456.3" r="0.73" fill="#a01010" fill-opacity="0.53"/><circle cx="442.9" cy="447.6" r="0.87" fill="#a01010" fill-opacity="0.54"/><circle cx="438.9" cy="425.8" r="0.87" fill="#a01010" fill-opacity="0.41"/><circle cx="408.8" cy="426.4" r="0.78" fill="#a01010" fill-opacity="0.58"/><circle cx="444.1" cy="452.7" r="0.87" fill="#a01010" fill-opacity="0.53"/><circle cx="431.1" cy="436.7" r="0.80" fill="#a01010" fill-opacity="0.40"/><circle cx="409.3" cy="449.2" r="0.82" fill="#a01010" fill-opacity="0.37"/><circle cx="446.5" cy="471.0" r="0.55" fill="#a01010" fill-opacity="0.34"/><circle cx="434.1" cy="426.5" r="0.88" fill="#a01010" fill-opacity="0.60"/><circle cx="431.1" cy="463.1" r="0.75" fill="#a01010" fill-opacity="0.35"/><circle cx="407.1" cy="435.9" r="0.51" fill="#a01010" fill-opacity="0.44"/><circle cx="428.9" cy="476.0" r="0.67" fill="#a01010" fill-opacity="0.55"/><circle cx="452.8" cy="446.6" r="0.60" fill="#a01010" fill-opacity="0.39"/><circle cx="434.0" cy="431.3" r="0.76" fill="#a01010" fill-opacity="0.45"/><circle cx="423.1" cy="448.2" r="0.90" fill="#a01010" fill-opacity="0.36"/><circle cx="429.6" cy="466.6" r="0.78" fill="#a01010" fill-opacity="0.59"/><circle cx="456.5" cy="446.6" r="0.73" fill="#a01010" fill-opacity="0.30"/><circle cx="427.0" cy="420.7" r="0.75" fill="#a01010" fill-opacity="0.32"/><circle cx="437.3" cy="429.8" r="0.70" fill="#a01010" fill-opacity="0.42"/><circle cx="408.8" cy="458.2" r="0.82" fill="#a01010" fill-opacity="0.48"/><circle cx="409.6" cy="447.6" r="0.85" fill="#a01010" fill-opacity="0.60"/><circle cx="459.2" cy="452.9" r="0.61" fill="#a01010" fill-opacity="0.58"/><circle cx="418.2" cy="445.8" r="0.65" fill="#a01010" fill-opacity="0.39"/><circle cx="451.6" cy="449.0" r="0.63" fill="#a01010" fill-opacity="0.46"/><circle cx="462.4" cy="445.0" r="0.87" fill="#a01010" fill-opacity="0.47"/><circle cx="432.0" cy="443.9" r="0.79" fill="#a01010" fill-opacity="0.59"/><circle cx="442.6" cy="437.9" r="0.75" fill="#a01010" fill-opacity="0.46"/><circle cx="447.9" cy="475.4" r="0.51" fill="#a01010" fill-opacity="0.40"/><circle cx="444.2" cy="463.7" r="0.60" fill="#a01010" fill-opacity="0.41"/><circle cx="416.8" cy="456.0" r="0.71" fill="#a01010" fill-opacity="0.48"/><circle cx="423.3" cy="446.6" r="0.88" fill="#a01010" fill-opacity="0.53"/><circle cx="435.6" cy="430.6" r="0.64" fill="#a01010" fill-opacity="0.54"/><circle cx="413.5" cy="444.4" r="0.81" fill="#a01010" fill-opacity="0.58"/><circle cx="434.1" cy="474.5" r="0.57" fill="#a01010" fill-opacity="0.55"/><circle cx="427.9" cy="443.5" r="0.87" fill="#a01010" fill-opacity="0.32"/><circle cx="423.5" cy="412.2" r="0.55" fill="#a01010" fill-opacity="0.39"/><circle cx="447.6" cy="446.1" r="0.55" fill="#a01010" fill-opacity="0.54"/><circle cx="435.1" cy="411.2" r="0.83" fill="#a01010" fill-opacity="0.55"/><circle cx="454.8" cy="418.1" r="0.50" fill="#a01010" fill-opacity="0.56"/><circle cx="451.9" cy="461.5" r="0.75" fill="#a01010" fill-opacity="0.55"/><circle cx="422.5" cy="454.3" r="0.77" fill="#a01010" fill-opacity="0.55"/><circle cx="438.9" cy="421.8" r="0.60" fill="#a01010" fill-opacity="0.46"/><circle cx="459.9" cy="419.1" r="0.78" fill="#a01010" fill-opacity="0.50"/><circle cx="410.0" cy="461.9" r="0.81" fill="#a01010" fill-opacity="0.39"/><circle cx="408.5" cy="422.3" r="0.81" fill="#a01010" fill-opacity="0.44"/><circle cx="455.1" cy="412.5" r="0.54" fill="#a01010" fill-opacity="0.40"/><circle cx="406.9" cy="459.9" r="0.54" fill="#a01010" fill-opacity="0.50"/><circle cx="407.5" cy="419.5" r="0.77" fill="#a01010" fill-opacity="0.56"/><circle cx="428.7" cy="435.7" r="0.51" fill="#a01010" fill-opacity="0.40"/><circle cx="417.8" cy="462.7" r="0.79" fill="#a01010" fill-opacity="0.54"/><circle cx="436.7" cy="455.6" r="0.55" fill="#a01010" fill-opacity="0.42"/><circle cx="421.1" cy="422.3" r="0.80" fill="#a01010" fill-opacity="0.36"/><circle cx="423.3" cy="422.3" r="0.85" fill="#a01010" fill-opacity="0.49"/><circle cx="433.3" cy="430.1" r="0.87" fill="#a01010" fill-opacity="0.58"/><circle cx="431.3" cy="445.0" r="0.85" fill="#a01010" fill-opacity="0.38"/><circle cx="418.9" cy="408.0" r="0.70" fill="#a01010" fill-opacity="0.53"/><circle cx="412.3" cy="434.3" r="0.90" fill="#a01010" fill-opacity="0.44"/><circle cx="427.0" cy="466.8" r="0.86" fill="#a01010" fill-opacity="0.41"/><circle cx="410.1" cy="450.6" r="0.80" fill="#a01010" fill-opacity="0.58"/><circle cx="445.0" cy="424.4" r="0.71" fill="#a01010" fill-opacity="0.39"/><circle cx="431.1" cy="437.2" r="0.86" fill="#a01010" fill-opacity="0.57"/><circle cx="462.3" cy="437.9" r="0.89" fill="#a01010" fill-opacity="0.34"/></g><g filter="url(#blur1)"><circle cx="462.0" cy="450.9" r="1.22" fill="#ff1818" fill-opacity="0.68"/><circle cx="457.2" cy="465.2" r="0.92" fill="#ff1818" fill-opacity="0.91"/><circle cx="416.0" cy="459.9" r="0.98" fill="#ff1818" fill-opacity="0.68"/><circle cx="414.9" cy="463.6" r="1.14" fill="#ff1818" fill-opacity="0.50"/><circle cx="426.5" cy="432.9" r="1.05" fill="#ff1818" fill-opacity="0.94"/><circle cx="463.5" cy="450.3" r="0.92" fill="#ff1818" fill-opacity="0.51"/><circle cx="406.6" cy="441.2" r="1.05" fill="#ff1818" fill-opacity="0.70"/><circle cx="465.9" cy="432.8" r="0.91" fill="#ff1818" fill-opacity="0.68"/><circle cx="440.5" cy="443.1" r="0.96" fill="#ff1818" fill-opacity="0.59"/><circle cx="422.6" cy="439.2" r="0.97" fill="#ff1818" fill-opacity="0.99"/><circle cx="438.7" cy="416.3" r="0.73" fill="#ff1818" fill-opacity="0.54"/><circle cx="424.6" cy="462.2" r="1.23" fill="#ff1818" fill-opacity="0.58"/><circle cx="452.8" cy="435.0" r="1.02" fill="#ff1818" fill-opacity="0.74"/><circle cx="445.5" cy="454.8" r="0.93" fill="#ff1818" fill-opacity="0.96"/><circle cx="455.4" cy="423.9" r="0.74" fill="#ff1818" fill-opacity="0.75"/><circle cx="444.6" cy="417.7" r="0.73" fill="#ff1818" fill-opacity="0.72"/><circle cx="442.8" cy="422.1" r="0.97" fill="#ff1818" fill-opacity="0.58"/><circle cx="414.2" cy="414.3" r="1.19" fill="#ff1818" fill-opacity="0.70"/><circle cx="448.6" cy="427.5" r="1.18" fill="#ff1818" fill-opacity="0.78"/><circle cx="444.6" cy="431.1" r="1.04" fill="#ff1818" fill-opacity="0.55"/><circle cx="436.7" cy="450.8" r="0.76" fill="#ff1818" fill-opacity="0.63"/><circle cx="417.1" cy="467.1" r="0.71" fill="#ff1818" fill-opacity="0.69"/><circle cx="458.5" cy="462.3" r="1.13" fill="#ff1818" fill-opacity="0.62"/><circle cx="417.2" cy="456.0" r="0.88" fill="#ff1818" fill-opacity="0.85"/><circle cx="424.9" cy="460.5" r="1.04" fill="#ff1818" fill-opacity="0.90"/><circle cx="437.5" cy="430.8" r="1.16" fill="#ff1818" fill-opacity="0.62"/><circle cx="415.6" cy="462.4" r="1.03" fill="#ff1818" fill-opacity="0.87"/><circle cx="433.9" cy="402.7" r="1.16" fill="#ff1818" fill-opacity="0.57"/><circle cx="418.9" cy="452.9" r="1.16" fill="#ff1818" fill-opacity="0.80"/><circle cx="430.9" cy="458.3" r="1.10" fill="#ff1818" fill-opacity="0.56"/><circle cx="436.9" cy="447.5" r="1.14" fill="#ff1818" fill-opacity="0.56"/><circle cx="422.3" cy="427.2" r="0.76" fill="#ff1818" fill-opacity="0.64"/><circle cx="449.5" cy="445.9" r="0.80" fill="#ff1818" fill-opacity="0.85"/><circle cx="409.7" cy="459.7" r="0.79" fill="#ff1818" fill-opacity="0.50"/><circle cx="418.5" cy="440.9" r="0.86" fill="#ff1818" fill-opacity="0.94"/><circle cx="463.1" cy="422.4" r="1.15" fill="#ff1818" fill-opacity="0.83"/><circle cx="438.6" cy="420.1" r="1.27" fill="#ff1818" fill-opacity="0.98"/><circle cx="423.0" cy="415.6" r="0.96" fill="#ff1818" fill-opacity="0.94"/><circle cx="460.6" cy="421.5" r="0.83" fill="#ff1818" fill-opacity="0.51"/><circle cx="426.0" cy="409.3" r="0.81" fill="#ff1818" fill-opacity="0.59"/><circle cx="439.7" cy="435.4" r="0.88" fill="#ff1818" fill-opacity="0.74"/><circle cx="452.4" cy="457.6" r="0.91" fill="#ff1818" fill-opacity="0.95"/><circle cx="453.5" cy="444.6" r="0.99" fill="#ff1818" fill-opacity="0.63"/><circle cx="441.6" cy="407.7" r="1.26" fill="#ff1818" fill-opacity="0.94"/><circle cx="417.6" cy="442.5" r="1.20" fill="#ff1818" fill-opacity="0.64"/><circle cx="434.5" cy="452.9" r="0.82" fill="#ff1818" fill-opacity="0.79"/><circle cx="429.7" cy="478.2" r="0.81" fill="#ff1818" fill-opacity="0.84"/><circle cx="436.4" cy="413.7" r="1.18" fill="#ff1818" fill-opacity="0.50"/><circle cx="442.6" cy="468.5" r="0.78" fill="#ff1818" fill-opacity="0.57"/><circle cx="451.8" cy="437.3" r="1.26" fill="#ff1818" fill-opacity="0.64"/><circle cx="428.0" cy="476.2" r="0.91" fill="#ff1818" fill-opacity="0.98"/><circle cx="460.0" cy="415.8" r="1.03" fill="#ff1818" fill-opacity="0.97"/><circle cx="452.4" cy="459.6" r="1.06" fill="#ff1818" fill-opacity="0.50"/><circle cx="453.0" cy="457.5" r="0.89" fill="#ff1818" fill-opacity="0.83"/><circle cx="428.8" cy="459.7" r="0.73" fill="#ff1818" fill-opacity="0.96"/><circle cx="427.1" cy="463.9" r="0.98" fill="#ff1818" fill-opacity="0.90"/><circle cx="421.7" cy="443.3" r="0.72" fill="#ff1818" fill-opacity="0.72"/><circle cx="446.1" cy="433.7" r="1.28" fill="#ff1818" fill-opacity="0.97"/><circle cx="447.9" cy="457.9" r="1.06" fill="#ff1818" fill-opacity="0.46"/><circle cx="462.1" cy="434.8" r="1.06" fill="#ff1818" fill-opacity="0.90"/><circle cx="462.1" cy="421.4" r="0.72" fill="#ff1818" fill-opacity="0.53"/><circle cx="415.8" cy="411.5" r="1.24" fill="#ff1818" fill-opacity="0.82"/></g><g filter="url(#blur1)"><circle cx="439.4" cy="411.7" r="0.77" fill="#18c0c0" fill-opacity="0.82"/><circle cx="454.4" cy="457.3" r="0.62" fill="#18c0c0" fill-opacity="0.70"/><circle cx="434.2" cy="439.0" r="0.66" fill="#18c0c0" fill-opacity="0.61"/><circle cx="452.1" cy="411.7" r="0.95" fill="#18c0c0" fill-opacity="0.56"/><circle cx="421.0" cy="419.9" r="0.78" fill="#18c0c0" fill-opacity="0.67"/><circle cx="438.7" cy="469.3" r="0.80" fill="#18c0c0" fill-opacity="0.61"/><circle cx="423.8" cy="411.1" r="0.77" fill="#18c0c0" fill-opacity="0.37"/><circle cx="459.0" cy="438.5" r="0.95" fill="#18c0c0" fill-opacity="0.70"/><circle cx="447.9" cy="459.4" r="0.72" fill="#18c0c0" fill-opacity="0.71"/><circle cx="417.6" cy="443.9" r="0.84" fill="#18c0c0" fill-opacity="0.74"/><circle cx="415.3" cy="427.9" r="0.93" fill="#18c0c0" fill-opacity="0.75"/><circle cx="417.8" cy="409.8" r="0.89" fill="#18c0c0" fill-opacity="0.72"/><circle cx="443.2" cy="460.9" r="0.81" fill="#18c0c0" fill-opacity="0.63"/><circle cx="459.0" cy="451.0" r="0.86" fill="#18c0c0" fill-opacity="0.64"/><circle cx="434.2" cy="459.2" r="0.83" fill="#18c0c0" fill-opacity="0.41"/><circle cx="430.3" cy="433.7" r="0.77" fill="#18c0c0" fill-opacity="0.63"/><circle cx="426.6" cy="431.4" r="0.77" fill="#18c0c0" fill-opacity="0.54"/><circle cx="428.5" cy="435.8" r="0.84" fill="#18c0c0" fill-opacity="0.53"/><circle cx="422.2" cy="437.1" r="0.73" fill="#18c0c0" fill-opacity="0.38"/><circle cx="419.6" cy="421.1" r="0.88" fill="#18c0c0" fill-opacity="0.75"/><circle cx="432.8" cy="431.1" r="0.69" fill="#18c0c0" fill-opacity="0.75"/><circle cx="412.2" cy="446.8" r="0.99" fill="#18c0c0" fill-opacity="0.71"/><circle cx="432.2" cy="412.7" r="0.62" fill="#18c0c0" fill-opacity="0.72"/><circle cx="444.2" cy="437.7" r="0.96" fill="#18c0c0" fill-opacity="0.82"/><circle cx="441.4" cy="409.3" r="0.84" fill="#18c0c0" fill-opacity="0.56"/><circle cx="420.1" cy="472.3" r="0.89" fill="#18c0c0" fill-opacity="0.41"/><circle cx="418.9" cy="427.7" r="0.83" fill="#18c0c0" fill-opacity="0.51"/><circle cx="431.1" cy="463.5" r="0.67" fill="#18c0c0" fill-opacity="0.71"/><circle cx="424.8" cy="473.5" r="0.98" fill="#18c0c0" fill-opacity="0.51"/><circle cx="440.8" cy="410.1" r="0.76" fill="#18c0c0" fill-opacity="0.66"/></g><ellipse cx="434.6" cy="439.7" rx="29.0" ry="38.0" fill="none" stroke="#d0d0d0" stroke-width="0.8" stroke-dasharray="3.5 2.5"/><path d="M422.6,434.7 L427.1,435.8 L425.2,432.0" fill="none" stroke="#fff" stroke-width="1.35" stroke-linejoin="round" stroke-linecap="round"/><path d="M440.8,425.3 L445.3,426.4 L443.4,422.6" fill="none" stroke="#fff" stroke-width="1.35" stroke-linejoin="round" stroke-linecap="round"/><rect x="406.6" y="465.0" width="23" height="11.5" fill="#000"/><line x1="407.6" y1="475.0" x2="427.6" y2="475.0" stroke="#fff" stroke-width="1.5"/><text x="408.6" y="472.8" font-size="9" font-weight="bold" fill="#fff">5µm</text></g>
<g clip-path="url(#cp22)"><rect x="403.9" y="483.0" width="59.10000000000002" height="66.70000000000005" fill="#010104"/><g transform="translate(0 0)"><ellipse cx="405" cy="484" rx="11" ry="6" fill="#1010c8" filter="url(#blur2)"/><path d="M413.0,498.0 C415.0,496.2 418.0,491.8 421.0,489.5 C424.0,487.2 427.0,485.2 431.0,484.2 C435.0,483.2 440.9,482.6 444.9,483.4 C448.9,484.2 452.6,486.6 455.0,489.0 C457.4,491.4 458.4,493.9 459.5,498.0 C460.6,502.1 461.9,508.1 461.7,513.7 C461.5,519.3 460.0,526.8 458.3,531.6 C456.6,536.5 455.0,540.0 451.6,542.8 C448.2,545.6 443.0,547.3 438.1,548.4 C433.2,549.5 427.1,550.5 422.4,549.6 C417.7,548.7 413.1,546.2 410.1,542.8 C407.1,539.4 405.2,534.2 404.5,529.4 C403.8,524.5 404.9,518.6 405.6,513.7 C406.4,508.8 407.8,502.6 409.0,500.0 C410.2,497.4 411.0,499.8 413.0,498.0 Z" fill="#0c0cd8" filter="url(#blur2)"/><g clip-path="url(#cpn2)" filter="url(#blur2)"><circle cx="440.6" cy="508.4" r="2.2" fill="#000060" fill-opacity="0.35"/><circle cx="436.9" cy="500.2" r="3.2" fill="#000060" fill-opacity="0.35"/><circle cx="453.2" cy="516.7" r="3.2" fill="#000060" fill-opacity="0.35"/><circle cx="423.2" cy="529.6" r="2.5" fill="#000060" fill-opacity="0.35"/><circle cx="431.1" cy="535.6" r="2.4" fill="#000060" fill-opacity="0.35"/><circle cx="416.3" cy="502.3" r="2.8" fill="#000060" fill-opacity="0.35"/><circle cx="446.5" cy="511.4" r="2.8" fill="#000060" fill-opacity="0.35"/><circle cx="447.2" cy="535.4" r="3.8" fill="#000060" fill-opacity="0.35"/><circle cx="422.0" cy="538.9" r="3.4" fill="#3040ff" fill-opacity="0.3"/><circle cx="428.3" cy="505.0" r="3.8" fill="#000060" fill-opacity="0.35"/><circle cx="427.3" cy="525.5" r="3.1" fill="#000060" fill-opacity="0.35"/><circle cx="419.9" cy="500.5" r="3.4" fill="#000060" fill-opacity="0.35"/><circle cx="436.1" cy="492.1" r="2.9" fill="#3040ff" fill-opacity="0.3"/><circle cx="413.3" cy="504.5" r="3.6" fill="#000060" fill-opacity="0.35"/><circle cx="436.4" cy="507.7" r="2.6" fill="#000060" fill-opacity="0.35"/><circle cx="423.4" cy="508.6" r="3.6" fill="#3040ff" fill-opacity="0.3"/><circle cx="443.5" cy="534.5" r="2.2" fill="#3040ff" fill-opacity="0.3"/><circle cx="412.1" cy="499.9" r="3.1" fill="#000060" fill-opacity="0.35"/><circle cx="449.5" cy="520.1" r="2.5" fill="#000060" fill-opacity="0.35"/><circle cx="457.1" cy="528.2" r="2.1" fill="#000060" fill-opacity="0.35"/><circle cx="457.1" cy="504.3" r="2.2" fill="#3040ff" fill-opacity="0.3"/><circle cx="441.3" cy="509.1" r="2.6" fill="#3040ff" fill-opacity="0.3"/></g><g filter="url(#blur1)"><circle cx="441.4" cy="526.9" r="0.61" fill="#30b8a0" fill-opacity="0.37"/><circle cx="410.3" cy="522.7" r="0.64" fill="#30b8a0" fill-opacity="0.33"/><circle cx="430.7" cy="541.8" r="0.60" fill="#30b8a0" fill-opacity="0.32"/><circle cx="440.7" cy="525.4" r="0.70" fill="#30b8a0" fill-opacity="0.33"/><circle cx="417.1" cy="500.5" r="0.71" fill="#30b8a0" fill-opacity="0.46"/><circle cx="436.8" cy="529.6" r="0.86" fill="#30b8a0" fill-opacity="0.46"/><circle cx="415.4" cy="522.1" r="0.81" fill="#30b8a0" fill-opacity="0.31"/><circle cx="423.3" cy="537.1" r="0.78" fill="#30b8a0" fill-opacity="0.30"/><circle cx="443.7" cy="533.6" r="0.66" fill="#30b8a0" fill-opacity="0.32"/><circle cx="442.3" cy="505.2" r="0.55" fill="#30b8a0" fill-opacity="0.32"/><circle cx="428.9" cy="493.6" r="0.65" fill="#30b8a0" fill-opacity="0.50"/><circle cx="436.7" cy="510.2" r="0.82" fill="#30b8a0" fill-opacity="0.29"/><circle cx="425.1" cy="542.0" r="0.85" fill="#30b8a0" fill-opacity="0.66"/><circle cx="447.8" cy="518.1" r="0.82" fill="#30b8a0" fill-opacity="0.51"/><circle cx="414.1" cy="501.3" r="0.54" fill="#30b8a0" fill-opacity="0.64"/><circle cx="424.7" cy="510.4" r="0.72" fill="#30b8a0" fill-opacity="0.30"/><circle cx="444.7" cy="533.7" r="0.82" fill="#30b8a0" fill-opacity="0.65"/><circle cx="424.5" cy="494.7" r="0.80" fill="#30b8a0" fill-opacity="0.56"/><circle cx="427.3" cy="506.6" r="0.56" fill="#30b8a0" fill-opacity="0.62"/><circle cx="432.0" cy="534.7" r="0.64" fill="#30b8a0" fill-opacity="0.39"/><circle cx="434.7" cy="530.7" r="0.85" fill="#30b8a0" fill-opacity="0.41"/><circle cx="444.1" cy="510.2" r="0.84" fill="#30b8a0" fill-opacity="0.59"/><circle cx="436.9" cy="507.8" r="0.61" fill="#30b8a0" fill-opacity="0.65"/><circle cx="449.6" cy="504.3" r="0.53" fill="#30b8a0" fill-opacity="0.34"/><circle cx="450.1" cy="517.7" r="0.72" fill="#30b8a0" fill-opacity="0.49"/><circle cx="429.3" cy="519.4" r="0.54" fill="#30b8a0" fill-opacity="0.66"/><circle cx="443.0" cy="524.4" r="0.82" fill="#30b8a0" fill-opacity="0.56"/><circle cx="448.5" cy="495.2" r="0.71" fill="#30b8a0" fill-opacity="0.60"/><circle cx="416.1" cy="517.6" r="0.86" fill="#30b8a0" fill-opacity="0.59"/><circle cx="428.7" cy="514.7" r="0.61" fill="#30b8a0" fill-opacity="0.68"/><circle cx="448.7" cy="526.8" r="0.62" fill="#30b8a0" fill-opacity="0.58"/><circle cx="433.3" cy="533.9" r="0.65" fill="#30b8a0" fill-opacity="0.65"/><circle cx="443.6" cy="513.0" r="0.73" fill="#30b8a0" fill-opacity="0.61"/><circle cx="435.5" cy="543.6" r="0.50" fill="#30b8a0" fill-opacity="0.65"/><circle cx="445.1" cy="515.4" r="0.84" fill="#30b8a0" fill-opacity="0.32"/><circle cx="425.6" cy="528.8" r="0.83" fill="#30b8a0" fill-opacity="0.42"/><circle cx="412.0" cy="520.2" r="0.63" fill="#30b8a0" fill-opacity="0.37"/><circle cx="431.3" cy="490.7" r="0.86" fill="#30b8a0" fill-opacity="0.63"/><circle cx="437.1" cy="512.7" r="0.62" fill="#30b8a0" fill-opacity="0.52"/><circle cx="426.0" cy="544.5" r="0.88" fill="#30b8a0" fill-opacity="0.58"/><circle cx="414.4" cy="506.7" r="0.55" fill="#30b8a0" fill-opacity="0.44"/><circle cx="422.2" cy="489.4" r="0.71" fill="#30b8a0" fill-opacity="0.39"/><circle cx="443.0" cy="519.7" r="0.74" fill="#30b8a0" fill-opacity="0.38"/><circle cx="446.2" cy="527.4" r="0.79" fill="#30b8a0" fill-opacity="0.46"/><circle cx="432.1" cy="503.2" r="0.52" fill="#30b8a0" fill-opacity="0.46"/><circle cx="440.0" cy="497.2" r="0.84" fill="#30b8a0" fill-opacity="0.65"/><circle cx="452.4" cy="535.0" r="0.70" fill="#30b8a0" fill-opacity="0.33"/><circle cx="422.1" cy="530.3" r="0.89" fill="#30b8a0" fill-opacity="0.30"/><circle cx="426.2" cy="521.9" r="0.54" fill="#30b8a0" fill-opacity="0.63"/><circle cx="425.6" cy="540.5" r="0.63" fill="#30b8a0" fill-opacity="0.39"/></g><g filter="url(#blur1)"><circle cx="438.7" cy="535.5" r="0.73" fill="#30e078" fill-opacity="0.74"/><circle cx="435.8" cy="543.4" r="0.83" fill="#30e078" fill-opacity="0.51"/><circle cx="437.2" cy="507.6" r="0.99" fill="#30e078" fill-opacity="0.92"/><circle cx="421.4" cy="535.3" r="0.71" fill="#30e078" fill-opacity="0.69"/><circle cx="427.1" cy="520.9" r="0.82" fill="#30e078" fill-opacity="0.82"/><circle cx="441.9" cy="491.7" r="1.16" fill="#30e078" fill-opacity="0.53"/><circle cx="444.2" cy="506.9" r="0.77" fill="#30e078" fill-opacity="0.54"/><circle cx="431.9" cy="533.7" r="1.18" fill="#30e078" fill-opacity="0.92"/><circle cx="435.7" cy="502.5" r="0.96" fill="#30e078" fill-opacity="0.94"/><circle cx="446.0" cy="526.2" r="1.12" fill="#30e078" fill-opacity="0.68"/><circle cx="437.1" cy="536.9" r="0.80" fill="#30e078" fill-opacity="0.89"/><circle cx="409.3" cy="518.2" r="0.99" fill="#30e078" fill-opacity="0.57"/><circle cx="455.9" cy="512.4" r="0.79" fill="#30e078" fill-opacity="0.69"/><circle cx="438.8" cy="511.7" r="0.70" fill="#30e078" fill-opacity="0.54"/><circle cx="445.1" cy="493.9" r="0.83" fill="#30e078" fill-opacity="0.86"/><circle cx="447.2" cy="521.9" r="0.88" fill="#30e078" fill-opacity="0.51"/><circle cx="430.4" cy="500.2" r="0.99" fill="#30e078" fill-opacity="0.94"/><circle cx="444.1" cy="492.5" r="0.81" fill="#30e078" fill-opacity="0.70"/><circle cx="424.4" cy="514.5" r="0.78" fill="#30e078" fill-opacity="0.68"/><circle cx="444.4" cy="505.4" r="1.10" fill="#30e078" fill-opacity="0.58"/><circle cx="413.3" cy="523.6" r="0.93" fill="#30e078" fill-opacity="0.91"/><circle cx="413.5" cy="530.8" r="1.03" fill="#30e078" fill-opacity="0.67"/><circle cx="414.7" cy="522.7" r="1.08" fill="#30e078" fill-opacity="0.71"/><circle cx="432.6" cy="527.1" r="1.00" fill="#30e078" fill-opacity="0.69"/><circle cx="417.7" cy="513.8" r="0.97" fill="#30e078" fill-opacity="0.90"/><circle cx="459.7" cy="519.4" r="0.86" fill="#30e078" fill-opacity="0.60"/><circle cx="440.8" cy="530.3" r="0.82" fill="#30e078" fill-opacity="0.81"/><circle cx="456.8" cy="512.2" r="1.03" fill="#30e078" fill-opacity="0.89"/><circle cx="418.6" cy="506.7" r="1.19" fill="#30e078" fill-opacity="0.53"/><circle cx="423.9" cy="514.6" r="1.07" fill="#30e078" fill-opacity="0.78"/><circle cx="456.4" cy="526.2" r="0.70" fill="#30e078" fill-opacity="0.53"/><circle cx="409.9" cy="511.9" r="0.71" fill="#30e078" fill-opacity="0.74"/><circle cx="440.9" cy="498.1" r="1.13" fill="#30e078" fill-opacity="0.69"/><circle cx="457.9" cy="507.5" r="1.01" fill="#30e078" fill-opacity="0.74"/><circle cx="421.7" cy="532.8" r="0.70" fill="#30e078" fill-opacity="0.61"/><circle cx="424.7" cy="538.9" r="0.95" fill="#30e078" fill-opacity="0.52"/><circle cx="423.6" cy="522.6" r="1.10" fill="#30e078" fill-opacity="0.55"/><circle cx="448.5" cy="509.4" r="0.96" fill="#30e078" fill-opacity="0.69"/><circle cx="430.8" cy="545.4" r="1.16" fill="#30e078" fill-opacity="0.91"/><circle cx="446.3" cy="528.0" r="0.77" fill="#30e078" fill-opacity="0.52"/><circle cx="451.2" cy="526.4" r="1.02" fill="#30e078" fill-opacity="0.64"/><circle cx="421.9" cy="541.3" r="0.97" fill="#30e078" fill-opacity="0.51"/><circle cx="425.7" cy="506.9" r="0.73" fill="#30e078" fill-opacity="0.94"/><circle cx="413.8" cy="529.5" r="1.10" fill="#30e078" fill-opacity="0.86"/><circle cx="449.2" cy="493.2" r="0.71" fill="#30e078" fill-opacity="0.54"/></g><g filter="url(#blur1)"><circle cx="457.3" cy="541.0" r="0.61" fill="#20c040" fill-opacity="0.39"/><circle cx="466.8" cy="509.5" r="0.71" fill="#20c040" fill-opacity="0.62"/><circle cx="439.5" cy="553.0" r="0.71" fill="#20c040" fill-opacity="0.67"/><circle cx="451.0" cy="495.2" r="0.53" fill="#20c040" fill-opacity="0.44"/><circle cx="429.6" cy="487.7" r="0.80" fill="#20c040" fill-opacity="0.50"/><circle cx="447.7" cy="517.5" r="0.71" fill="#20c040" fill-opacity="0.43"/><circle cx="428.1" cy="534.6" r="0.68" fill="#20c040" fill-opacity="0.66"/><circle cx="421.0" cy="542.5" r="0.69" fill="#20c040" fill-opacity="0.53"/><circle cx="427.8" cy="521.1" r="0.43" fill="#20c040" fill-opacity="0.34"/><circle cx="421.2" cy="487.4" r="0.42" fill="#20c040" fill-opacity="0.59"/><circle cx="449.7" cy="524.8" r="0.48" fill="#20c040" fill-opacity="0.59"/><circle cx="456.2" cy="525.1" r="0.49" fill="#20c040" fill-opacity="0.53"/><circle cx="426.8" cy="498.4" r="0.46" fill="#20c040" fill-opacity="0.65"/><circle cx="443.0" cy="548.9" r="0.47" fill="#20c040" fill-opacity="0.41"/></g><path d="M417.3,498.7 L421.8,499.8 L419.9,496.0" fill="none" stroke="#fff" stroke-width="1.35" stroke-linejoin="round" stroke-linecap="round"/><path d="M438.4,497.5 L442.9,498.6 L441.0,494.8" fill="none" stroke="#fff" stroke-width="1.35" stroke-linejoin="round" stroke-linecap="round"/><path d="M426.5,511.3 L431.0,512.4 L429.1,508.6" fill="none" stroke="#fff" stroke-width="1.35" stroke-linejoin="round" stroke-linecap="round"/><path d="M411.2,515.3 L415.7,516.4 L413.8,512.6" fill="none" stroke="#fff" stroke-width="1.35" stroke-linejoin="round" stroke-linecap="round"/></g><line x1="445.8" y1="548.1" x2="463.0" y2="548.1" stroke="#fff" stroke-width="1.5"/><text x="446.0" y="545.9" font-size="9" font-weight="bold" fill="#fff">5µm</text></g>
<g clip-path="url(#cp32)"><rect x="403.9" y="551.9" width="59.10000000000002" height="67.60000000000002" fill="#1e070c"/><g transform="translate(0 68.89999999999998)"><ellipse cx="405" cy="484" rx="11" ry="6" fill="#1010c8" filter="url(#blur2)"/><path d="M413.0,498.0 C415.0,496.2 418.0,491.8 421.0,489.5 C424.0,487.2 427.0,485.2 431.0,484.2 C435.0,483.2 440.9,482.6 444.9,483.4 C448.9,484.2 452.6,486.6 455.0,489.0 C457.4,491.4 458.4,493.9 459.5,498.0 C460.6,502.1 461.9,508.1 461.7,513.7 C461.5,519.3 460.0,526.8 458.3,531.6 C456.6,536.5 455.0,540.0 451.6,542.8 C448.2,545.6 443.0,547.3 438.1,548.4 C433.2,549.5 427.1,550.5 422.4,549.6 C417.7,548.7 413.1,546.2 410.1,542.8 C407.1,539.4 405.2,534.2 404.5,529.4 C403.8,524.5 404.9,518.6 405.6,513.7 C406.4,508.8 407.8,502.6 409.0,500.0 C410.2,497.4 411.0,499.8 413.0,498.0 Z" fill="#0c0cd8" filter="url(#blur2)"/><g clip-path="url(#cpn2)" filter="url(#blur2)"><circle cx="434.4" cy="494.8" r="3.1" fill="#000060" fill-opacity="0.35"/><circle cx="433.1" cy="535.7" r="3.3" fill="#3040ff" fill-opacity="0.3"/><circle cx="438.1" cy="529.7" r="2.0" fill="#000060" fill-opacity="0.35"/><circle cx="457.1" cy="530.0" r="2.2" fill="#000060" fill-opacity="0.35"/><circle cx="420.7" cy="523.6" r="2.0" fill="#000060" fill-opacity="0.35"/><circle cx="433.7" cy="492.3" r="2.8" fill="#000060" fill-opacity="0.35"/><circle cx="419.9" cy="492.1" r="2.5" fill="#000060" fill-opacity="0.35"/><circle cx="425.6" cy="511.9" r="2.6" fill="#000060" fill-opacity="0.35"/><circle cx="410.9" cy="532.2" r="3.0" fill="#3040ff" fill-opacity="0.3"/><circle cx="410.1" cy="503.2" r="2.9" fill="#3040ff" fill-opacity="0.3"/><circle cx="419.9" cy="531.4" r="2.2" fill="#3040ff" fill-opacity="0.3"/><circle cx="434.1" cy="518.9" r="2.6" fill="#000060" fill-opacity="0.35"/><circle cx="439.7" cy="524.3" r="3.2" fill="#3040ff" fill-opacity="0.3"/><circle cx="428.1" cy="495.3" r="3.7" fill="#000060" fill-opacity="0.35"/><circle cx="451.5" cy="535.4" r="3.5" fill="#000060" fill-opacity="0.35"/><circle cx="418.2" cy="508.6" r="3.7" fill="#000060" fill-opacity="0.35"/><circle cx="449.3" cy="532.0" r="3.9" fill="#000060" fill-opacity="0.35"/><circle cx="422.5" cy="519.6" r="2.5" fill="#3040ff" fill-opacity="0.3"/><circle cx="428.3" cy="496.8" r="2.4" fill="#3040ff" fill-opacity="0.3"/><circle cx="416.5" cy="505.3" r="3.3" fill="#3040ff" fill-opacity="0.3"/><circle cx="435.2" cy="533.0" r="2.4" fill="#3040ff" fill-opacity="0.3"/><circle cx="435.7" cy="500.1" r="2.3" fill="#000060" fill-opacity="0.35"/></g><g filter="url(#blur1)"><circle cx="412.0" cy="507.0" r="0.85" fill="#30b8a0" fill-opacity="0.55"/><circle cx="412.6" cy="499.1" r="0.74" fill="#30b8a0" fill-opacity="0.49"/><circle cx="437.4" cy="522.1" r="0.53" fill="#30b8a0" fill-opacity="0.60"/><circle cx="420.5" cy="521.4" r="0.71" fill="#30b8a0" fill-opacity="0.40"/><circle cx="457.2" cy="509.7" r="0.67" fill="#30b8a0" fill-opacity="0.49"/><circle cx="448.0" cy="518.3" r="0.79" fill="#30b8a0" fill-opacity="0.54"/><circle cx="447.5" cy="499.0" r="0.73" fill="#30b8a0" fill-opacity="0.45"/><circle cx="420.0" cy="532.9" r="0.59" fill="#30b8a0" fill-opacity="0.57"/><circle cx="433.4" cy="511.6" r="0.78" fill="#30b8a0" fill-opacity="0.58"/><circle cx="449.6" cy="501.8" r="0.77" fill="#30b8a0" fill-opacity="0.47"/><circle cx="456.9" cy="512.8" r="0.64" fill="#30b8a0" fill-opacity="0.26"/><circle cx="432.4" cy="517.9" r="0.62" fill="#30b8a0" fill-opacity="0.30"/><circle cx="433.2" cy="490.2" r="0.57" fill="#30b8a0" fill-opacity="0.45"/><circle cx="426.1" cy="516.0" r="0.71" fill="#30b8a0" fill-opacity="0.42"/><circle cx="437.1" cy="544.2" r="0.61" fill="#30b8a0" fill-opacity="0.41"/><circle cx="424.6" cy="530.5" r="0.70" fill="#30b8a0" fill-opacity="0.61"/><circle cx="418.7" cy="508.1" r="0.66" fill="#30b8a0" fill-opacity="0.42"/><circle cx="458.2" cy="512.4" r="0.73" fill="#30b8a0" fill-opacity="0.68"/><circle cx="441.4" cy="521.7" r="0.83" fill="#30b8a0" fill-opacity="0.40"/><circle cx="435.8" cy="520.9" r="0.53" fill="#30b8a0" fill-opacity="0.59"/><circle cx="427.4" cy="524.6" r="0.61" fill="#30b8a0" fill-opacity="0.66"/><circle cx="427.2" cy="502.5" r="0.86" fill="#30b8a0" fill-opacity="0.35"/><circle cx="422.1" cy="515.2" r="0.89" fill="#30b8a0" fill-opacity="0.30"/><circle cx="418.9" cy="533.7" r="0.53" fill="#30b8a0" fill-opacity="0.44"/><circle cx="448.7" cy="528.8" r="0.82" fill="#30b8a0" fill-opacity="0.30"/><circle cx="454.3" cy="507.4" r="0.83" fill="#30b8a0" fill-opacity="0.46"/><circle cx="454.4" cy="514.7" r="0.60" fill="#30b8a0" fill-opacity="0.32"/><circle cx="433.8" cy="489.0" r="0.57" fill="#30b8a0" fill-opacity="0.64"/><circle cx="437.8" cy="537.8" r="0.56" fill="#30b8a0" fill-opacity="0.47"/><circle cx="432.4" cy="492.5" r="0.61" fill="#30b8a0" fill-opacity="0.66"/><circle cx="445.6" cy="516.5" r="0.74" fill="#30b8a0" fill-opacity="0.64"/><circle cx="457.6" cy="521.7" r="0.52" fill="#30b8a0" fill-opacity="0.64"/><circle cx="416.6" cy="500.4" r="0.55" fill="#30b8a0" fill-opacity="0.48"/><circle cx="438.3" cy="513.6" r="0.69" fill="#30b8a0" fill-opacity="0.31"/><circle cx="445.3" cy="518.3" r="0.62" fill="#30b8a0" fill-opacity="0.63"/><circle cx="428.2" cy="513.0" r="0.60" fill="#30b8a0" fill-opacity="0.58"/><circle cx="434.3" cy="544.0" r="0.86" fill="#30b8a0" fill-opacity="0.45"/><circle cx="413.4" cy="513.4" r="0.71" fill="#30b8a0" fill-opacity="0.60"/><circle cx="417.7" cy="502.8" r="0.89" fill="#30b8a0" fill-opacity="0.26"/><circle cx="439.8" cy="491.7" r="0.80" fill="#30b8a0" fill-opacity="0.44"/><circle cx="453.6" cy="499.7" r="0.52" fill="#30b8a0" fill-opacity="0.29"/><circle cx="412.0" cy="509.3" r="0.89" fill="#30b8a0" fill-opacity="0.41"/><circle cx="434.8" cy="518.4" r="0.54" fill="#30b8a0" fill-opacity="0.51"/><circle cx="431.2" cy="505.6" r="0.83" fill="#30b8a0" fill-opacity="0.56"/><circle cx="441.1" cy="544.1" r="0.89" fill="#30b8a0" fill-opacity="0.64"/><circle cx="414.5" cy="533.5" r="0.80" fill="#30b8a0" fill-opacity="0.46"/><circle cx="414.2" cy="499.0" r="0.55" fill="#30b8a0" fill-opacity="0.52"/><circle cx="440.5" cy="537.5" r="0.50" fill="#30b8a0" fill-opacity="0.25"/><circle cx="421.7" cy="538.0" r="0.54" fill="#30b8a0" fill-opacity="0.61"/><circle cx="454.6" cy="519.7" r="0.74" fill="#30b8a0" fill-opacity="0.25"/></g><g filter="url(#blur1)"><circle cx="439.5" cy="522.8" r="1.09" fill="#30e078" fill-opacity="0.73"/><circle cx="413.9" cy="499.4" r="1.03" fill="#30e078" fill-opacity="0.54"/><circle cx="413.6" cy="501.1" r="1.10" fill="#30e078" fill-opacity="0.75"/><circle cx="426.6" cy="543.8" r="0.99" fill="#30e078" fill-opacity="0.61"/><circle cx="437.4" cy="537.3" r="0.88" fill="#30e078" fill-opacity="0.70"/><circle cx="438.0" cy="545.2" r="1.02" fill="#30e078" fill-opacity="0.58"/><circle cx="438.3" cy="505.3" r="0.94" fill="#30e078" fill-opacity="0.82"/><circle cx="409.1" cy="516.5" r="0.86" fill="#30e078" fill-opacity="0.77"/><circle cx="450.7" cy="514.0" r="1.01" fill="#30e078" fill-opacity="0.63"/><circle cx="421.3" cy="516.6" r="0.97" fill="#30e078" fill-opacity="0.60"/><circle cx="447.8" cy="516.0" r="0.88" fill="#30e078" fill-opacity="0.61"/><circle cx="411.7" cy="523.9" r="0.71" fill="#30e078" fill-opacity="0.89"/><circle cx="443.3" cy="506.2" r="0.92" fill="#30e078" fill-opacity="0.81"/><circle cx="416.3" cy="507.9" r="1.09" fill="#30e078" fill-opacity="0.81"/><circle cx="438.4" cy="492.2" r="0.81" fill="#30e078" fill-opacity="0.62"/><circle cx="409.6" cy="524.4" r="0.99" fill="#30e078" fill-opacity="0.92"/><circle cx="436.8" cy="541.1" r="0.93" fill="#30e078" fill-opacity="0.73"/><circle cx="422.6" cy="513.9" r="1.17" fill="#30e078" fill-opacity="0.72"/><circle cx="418.3" cy="523.4" r="0.95" fill="#30e078" fill-opacity="0.71"/><circle cx="444.4" cy="521.8" r="1.03" fill="#30e078" fill-opacity="0.73"/><circle cx="409.9" cy="513.1" r="1.12" fill="#30e078" fill-opacity="0.77"/><circle cx="455.0" cy="518.7" r="0.78" fill="#30e078" fill-opacity="0.82"/><circle cx="441.6" cy="534.4" r="0.74" fill="#30e078" fill-opacity="0.71"/><circle cx="450.1" cy="506.5" r="0.77" fill="#30e078" fill-opacity="0.89"/><circle cx="411.3" cy="519.4" r="1.18" fill="#30e078" fill-opacity="0.78"/><circle cx="438.0" cy="496.9" r="0.87" fill="#30e078" fill-opacity="0.57"/><circle cx="432.1" cy="488.8" r="1.03" fill="#30e078" fill-opacity="0.79"/><circle cx="455.0" cy="532.1" r="0.74" fill="#30e078" fill-opacity="0.89"/><circle cx="436.2" cy="542.2" r="0.95" fill="#30e078" fill-opacity="0.54"/><circle cx="444.6" cy="496.4" r="1.19" fill="#30e078" fill-opacity="0.74"/><circle cx="454.9" cy="515.6" r="0.86" fill="#30e078" fill-opacity="0.80"/><circle cx="444.9" cy="513.6" r="0.84" fill="#30e078" fill-opacity="0.69"/><circle cx="445.2" cy="499.7" r="0.78" fill="#30e078" fill-opacity="0.72"/><circle cx="442.2" cy="490.0" r="0.84" fill="#30e078" fill-opacity="0.94"/><circle cx="421.9" cy="532.3" r="0.85" fill="#30e078" fill-opacity="0.54"/><circle cx="433.3" cy="538.2" r="1.09" fill="#30e078" fill-opacity="0.52"/><circle cx="444.6" cy="523.3" r="0.94" fill="#30e078" fill-opacity="0.80"/><circle cx="435.1" cy="497.0" r="1.05" fill="#30e078" fill-opacity="0.56"/><circle cx="424.1" cy="537.1" r="0.98" fill="#30e078" fill-opacity="0.73"/><circle cx="444.9" cy="515.5" r="0.89" fill="#30e078" fill-opacity="0.75"/><circle cx="455.2" cy="525.2" r="0.78" fill="#30e078" fill-opacity="0.88"/><circle cx="422.7" cy="534.3" r="1.03" fill="#30e078" fill-opacity="0.77"/><circle cx="446.6" cy="502.0" r="1.12" fill="#30e078" fill-opacity="0.74"/><circle cx="447.4" cy="536.4" r="0.83" fill="#30e078" fill-opacity="0.68"/><circle cx="426.8" cy="490.6" r="1.14" fill="#30e078" fill-opacity="0.81"/></g><g filter="url(#blur1)"><circle cx="433.3" cy="519.4" r="0.75" fill="#20c040" fill-opacity="0.33"/><circle cx="424.3" cy="530.2" r="0.61" fill="#20c040" fill-opacity="0.50"/><circle cx="417.6" cy="494.9" r="0.67" fill="#20c040" fill-opacity="0.44"/><circle cx="435.0" cy="485.9" r="0.54" fill="#20c040" fill-opacity="0.33"/><circle cx="434.1" cy="550.7" r="0.70" fill="#20c040" fill-opacity="0.45"/><circle cx="418.8" cy="548.8" r="0.42" fill="#20c040" fill-opacity="0.64"/><circle cx="464.7" cy="527.1" r="0.56" fill="#20c040" fill-opacity="0.47"/><circle cx="441.4" cy="518.0" r="0.75" fill="#20c040" fill-opacity="0.66"/><circle cx="452.9" cy="527.2" r="0.66" fill="#20c040" fill-opacity="0.33"/><circle cx="424.7" cy="513.9" r="0.79" fill="#20c040" fill-opacity="0.38"/><circle cx="443.2" cy="482.7" r="0.62" fill="#20c040" fill-opacity="0.60"/><circle cx="410.7" cy="535.7" r="0.79" fill="#20c040" fill-opacity="0.63"/><circle cx="448.7" cy="519.6" r="0.73" fill="#20c040" fill-opacity="0.62"/><circle cx="442.8" cy="528.8" r="0.47" fill="#20c040" fill-opacity="0.44"/></g><g filter="url(#blur1)"><circle cx="424.9" cy="537.5" r="1.17" fill="#ff1a80" fill-opacity="0.63"/><circle cx="411.2" cy="505.7" r="0.75" fill="#ff1a80" fill-opacity="0.93"/><circle cx="426.7" cy="509.3" r="1.21" fill="#ff1a80" fill-opacity="0.74"/><circle cx="440.8" cy="512.4" r="0.98" fill="#ff1a80" fill-opacity="0.93"/><circle cx="422.4" cy="517.5" r="0.99" fill="#ff1a80" fill-opacity="0.56"/><circle cx="415.6" cy="516.4" r="1.18" fill="#ff1a80" fill-opacity="0.69"/><circle cx="410.3" cy="525.0" r="0.79" fill="#ff1a80" fill-opacity="0.62"/><circle cx="429.9" cy="531.3" r="0.96" fill="#ff1a80" fill-opacity="0.69"/><circle cx="428.9" cy="517.2" r="0.87" fill="#ff1a80" fill-opacity="0.93"/><circle cx="417.9" cy="494.0" r="1.03" fill="#ff1a80" fill-opacity="0.66"/><circle cx="443.2" cy="507.9" r="1.26" fill="#ff1a80" fill-opacity="0.64"/><circle cx="430.5" cy="505.0" r="1.02" fill="#ff1a80" fill-opacity="0.63"/><circle cx="442.8" cy="510.7" r="1.12" fill="#ff1a80" fill-opacity="0.63"/><circle cx="431.7" cy="519.4" r="1.13" fill="#ff1a80" fill-opacity="0.79"/><circle cx="430.3" cy="491.2" r="0.77" fill="#ff1a80" fill-opacity="0.57"/><circle cx="417.6" cy="497.0" r="1.10" fill="#ff1a80" fill-opacity="0.65"/><circle cx="455.2" cy="500.0" r="0.85" fill="#ff1a80" fill-opacity="0.58"/><circle cx="415.5" cy="526.9" r="1.05" fill="#ff1a80" fill-opacity="0.61"/><circle cx="450.1" cy="526.5" r="0.96" fill="#ff1a80" fill-opacity="0.77"/><circle cx="442.1" cy="512.5" r="0.75" fill="#ff1a80" fill-opacity="0.66"/><circle cx="457.2" cy="508.4" r="1.08" fill="#ff1a80" fill-opacity="0.54"/><circle cx="448.2" cy="537.9" r="0.92" fill="#ff1a80" fill-opacity="0.67"/><circle cx="434.7" cy="501.1" r="0.83" fill="#ff1a80" fill-opacity="0.56"/><circle cx="443.7" cy="516.6" r="1.27" fill="#ff1a80" fill-opacity="0.93"/><circle cx="453.4" cy="522.9" r="1.07" fill="#ff1a80" fill-opacity="0.70"/><circle cx="430.1" cy="494.7" r="1.03" fill="#ff1a80" fill-opacity="0.62"/><circle cx="437.9" cy="538.6" r="0.88" fill="#ff1a80" fill-opacity="0.76"/><circle cx="422.4" cy="535.8" r="0.83" fill="#ff1a80" fill-opacity="0.79"/><circle cx="436.9" cy="505.5" r="0.75" fill="#ff1a80" fill-opacity="0.72"/><circle cx="435.2" cy="535.1" r="0.82" fill="#ff1a80" fill-opacity="0.58"/><circle cx="423.9" cy="534.1" r="0.84" fill="#ff1a80" fill-opacity="0.79"/><circle cx="444.8" cy="515.8" r="0.77" fill="#ff1a80" fill-opacity="0.71"/><circle cx="456.9" cy="509.5" r="1.03" fill="#ff1a80" fill-opacity="0.69"/><circle cx="434.3" cy="488.6" r="1.23" fill="#ff1a80" fill-opacity="0.76"/><circle cx="426.0" cy="503.1" r="0.81" fill="#ff1a80" fill-opacity="0.92"/><circle cx="451.7" cy="508.7" r="1.06" fill="#ff1a80" fill-opacity="0.75"/><circle cx="446.2" cy="495.8" r="1.04" fill="#ff1a80" fill-opacity="0.51"/><circle cx="442.0" cy="522.8" r="1.29" fill="#ff1a80" fill-opacity="0.80"/><circle cx="435.2" cy="486.8" r="1.27" fill="#ff1a80" fill-opacity="0.72"/><circle cx="451.4" cy="514.6" r="0.83" fill="#ff1a80" fill-opacity="0.68"/><circle cx="411.9" cy="520.9" r="0.83" fill="#ff1a80" fill-opacity="0.82"/><circle cx="417.0" cy="527.4" r="1.07" fill="#ff1a80" fill-opacity="0.82"/><circle cx="457.4" cy="503.7" r="1.11" fill="#ff1a80" fill-opacity="0.68"/><circle cx="447.7" cy="522.0" r="0.86" fill="#ff1a80" fill-opacity="0.91"/><circle cx="425.6" cy="535.3" r="1.11" fill="#ff1a80" fill-opacity="0.88"/><circle cx="449.7" cy="513.3" r="0.94" fill="#ff1a80" fill-opacity="0.86"/><circle cx="442.0" cy="518.4" r="1.22" fill="#ff1a80" fill-opacity="0.51"/><circle cx="408.7" cy="513.9" r="0.76" fill="#ff1a80" fill-opacity="0.88"/><circle cx="419.7" cy="494.0" r="1.15" fill="#ff1a80" fill-opacity="0.80"/><circle cx="429.3" cy="521.8" r="1.03" fill="#ff1a80" fill-opacity="0.93"/></g><path d="M417.3,498.7 L421.8,499.8 L419.9,496.0" fill="none" stroke="#fff" stroke-width="1.35" stroke-linejoin="round" stroke-linecap="round"/><path d="M438.4,497.5 L442.9,498.6 L441.0,494.8" fill="none" stroke="#fff" stroke-width="1.35" stroke-linejoin="round" stroke-linecap="round"/><path d="M426.5,511.3 L431.0,512.4 L429.1,508.6" fill="none" stroke="#fff" stroke-width="1.35" stroke-linejoin="round" stroke-linecap="round"/><path d="M411.2,515.3 L415.7,516.4 L413.8,512.6" fill="none" stroke="#fff" stroke-width="1.35" stroke-linejoin="round" stroke-linecap="round"/></g><line x1="445.8" y1="616.3" x2="463.0" y2="616.3" stroke="#fff" stroke-width="1.5"/><text x="446.0" y="614.0999999999999" font-size="9" font-weight="bold" fill="#fff">5µm</text></g></svg></body></html>
